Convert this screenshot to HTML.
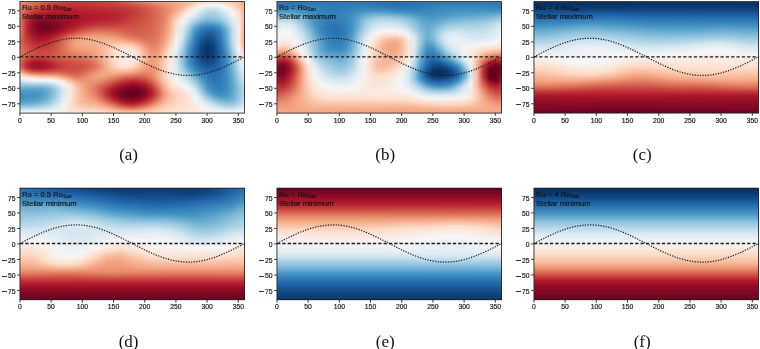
<!DOCTYPE html><html><head><meta charset="utf-8"><style>
*{margin:0;padding:0}
html,body{width:760px;height:349px;overflow:hidden;background:#fff}
body{position:relative;will-change:transform}
#w{position:absolute;left:0;top:0;width:760px;height:349px;filter:blur(0.45px)}
.hm{position:absolute;overflow:hidden}
.hm i{display:block;height:1px;width:100%}
.ov{position:absolute;overflow:visible}
.xl{position:absolute;width:40px;text-align:center;font:6.8px/10px "Liberation Sans",sans-serif;color:#222;-webkit-text-stroke:0.2px #222}
.yl{position:absolute;width:40px;text-align:right;font:6.8px/10px "Liberation Sans",sans-serif;color:#222;-webkit-text-stroke:0.2px #222}
.m{display:inline-block;width:4.6px;height:0.65px;background:#333;vertical-align:2.2px;margin-right:1.0px}
.tx{position:absolute;font:7.65px/9.2px "Liberation Sans",sans-serif;color:#111;-webkit-text-stroke:0.15px #111;white-space:nowrap}
.tx sub{font-size:4.6px;vertical-align:-1px;line-height:0;margin-left:0.4px}
.cap{position:absolute;width:60px;text-align:center;font:17px/20px "Liberation Serif",serif;color:#111}
</style></head><body><div id="w"><div class="hm" style="left:20px;top:2px;width:225px;height:111px"><i style="background:linear-gradient(90deg,#eb9172,#e48066,#dd7059,#d7634f,#d25849,#ce4f45,#c94741,#c6413e,#c53e3d,#c53e3d,#c53e3d,#c53e3d,#c6413e,#c6413e,#c84440,#cb4942,#cf5246,#d35a4a,#da6853,#de735c,#e37e64,#e8896c,#ec9374,#f19e7d,#f4a683,#f5ac8b,#f6b394,#f8bb9e,#fac8af,#fcd3bc,#fddbc7,#fddbc7,#fcd7c2,#fbd0b9,#f9c6ac,#f8bb9e,#f6b191)"></i><i style="background:linear-gradient(90deg,#ea8e70,#e37e64,#dc6e57,#d6604d,#d05548,#cb4942,#c6413e,#c53e3d,#c43b3c,#c2383a,#c43b3c,#c43b3c,#c53e3d,#c6413e,#c84440,#c94741,#cc4c44,#d05548,#d55d4c,#da6853,#df765e,#e48066,#ea8e70,#ee9677,#f2a17f,#f5a886,#f6b191,#f8bda1,#fbd0b9,#fcdfcf,#fae7dc,#fae7dc,#fbe4d6,#fdddcb,#fbceb7,#f8bda1,#f6b191)"></i><i style="background:linear-gradient(90deg,#e98b6e,#e27b62,#db6b55,#d35a4a,#ce4f45,#c84440,#c43b3c,#c2383a,#c13639,#c13639,#c13639,#c2383a,#c43b3c,#c53e3d,#c53e3d,#c84440,#c94741,#cc4c44,#d25849,#d6604d,#dc6e57,#e27b62,#e6866a,#eb9172,#f09c7b,#f4a683,#f6b191,#f9c2a7,#fddbc7,#fae8de,#f8f1ed,#f8f2ef,#f9eee7,#fbe4d6,#fcd7c2,#f9c2a7,#f6b191)"></i><i style="background:linear-gradient(90deg,#e8896c,#df765e,#d86551,#d25849,#cb4942,#c53e3d,#c13639,#bf3338,#be3036,#be3036,#bf3338,#c13639,#c2383a,#c43b3c,#c43b3c,#c53e3d,#c6413e,#c94741,#ce4f45,#d35a4a,#d86551,#de735c,#e48066,#ea8e70,#ef9979,#f3a481,#f6b191,#f9c6ac,#fcdfcf,#f9f0eb,#f2f5f6,#f0f4f6,#f7f5f4,#faeae1,#fdddcb,#f9c4a9,#f6b191)"></i><i style="background:linear-gradient(90deg,#e6866a,#de735c,#d6604d,#cf5246,#c84440,#c2383a,#bf3338,#bd2d35,#bd2d35,#bd2d35,#be3036,#bf3338,#c13639,#c13639,#c2383a,#c43b3c,#c53e3d,#c84440,#cb4942,#d05548,#d6604d,#dc6e57,#e27b62,#e8896c,#ee9677,#f3a481,#f6b394,#fbccb4,#fbe5d8,#f7f6f6,#e7f0f4,#e4eef4,#eff3f5,#f9f0eb,#fce0d0,#fac8af,#f6b191)"></i><i style="background:linear-gradient(90deg,#e6866a,#dc6e57,#d35a4a,#cb4942,#c53e3d,#bf3338,#bd2d35,#bb2a34,#ba2832,#bb2a34,#bb2a34,#bd2d35,#be3036,#bf3338,#c13639,#c2383a,#c43b3c,#c53e3d,#c84440,#ce4f45,#d35a4a,#db6b55,#e17860,#e6866a,#ee9677,#f4a683,#f7b799,#fcd3bc,#fae9df,#eff3f5,#deebf2,#dbeaf2,#e6eff4,#f7f5f4,#fbe4d6,#fbccb4,#f6b191)"></i><i style="background:linear-gradient(90deg,#e58368,#db6b55,#d05548,#c84440,#c2383a,#bd2d35,#ba2832,#b82531,#b82531,#b82531,#ba2832,#bb2a34,#bd2d35,#be3036,#bf3338,#bf3338,#c13639,#c43b3c,#c6413e,#cc4c44,#d25849,#d86551,#de735c,#e58368,#ec9374,#f4a683,#f8bb9e,#fdd9c4,#f9efe9,#e7f0f4,#d5e7f1,#d2e6f0,#deebf2,#f2f5f6,#fae8de,#fbceb7,#f6b191)"></i><i style="background:linear-gradient(90deg,#e58368,#d86551,#ce4f45,#c53e3d,#be3036,#ba2832,#b82531,#b72230,#b72230,#b72230,#b82531,#ba2832,#bb2a34,#bd2d35,#bd2d35,#be3036,#bf3338,#c2383a,#c53e3d,#c94741,#d05548,#d7634f,#dd7059,#e48066,#ec9374,#f5a886,#f8bfa4,#fdddcb,#f8f3f0,#e0ecf3,#cce2ef,#cae1ee,#d7e8f1,#ecf2f5,#f9ebe3,#fcd3bc,#f6b191)"></i><i style="background:linear-gradient(90deg,#e48066,#d6604d,#c94741,#c13639,#bb2a34,#b72230,#b61f2e,#b61f2e,#b61f2e,#b61f2e,#b72230,#b82531,#ba2832,#ba2832,#bb2a34,#bd2d35,#be3036,#c13639,#c43b3c,#c94741,#cf5246,#d6604d,#dd7059,#e48066,#ec9374,#f5ac8b,#f9c6ac,#fce2d2,#f6f7f7,#dae9f2,#c2ddec,#c0dceb,#d1e5f0,#e7f0f4,#f9efe9,#fcd7c2,#f6b394)"></i><i style="background:linear-gradient(90deg,#e48066,#d55d4c,#c6413e,#bd2d35,#b82531,#b41c2d,#b41c2d,#b3192c,#b3192c,#b41c2d,#b61f2e,#b72230,#b72230,#b82531,#ba2832,#bb2a34,#bd2d35,#bf3338,#c43b3c,#c84440,#cf5246,#d6604d,#dc6e57,#e37e64,#ee9677,#f6af8e,#fbccb4,#fbe6da,#f0f4f6,#d4e6f1,#bbdaea,#b6d7e8,#cae1ee,#e3edf3,#f8f2ef,#fddbc7,#f6b394)"></i><i style="background:linear-gradient(90deg,#e48066,#d25849,#c2383a,#ba2832,#b41c2d,#b3192c,#b1182b,#b1182b,#b1182b,#b3192c,#b41c2d,#b61f2e,#b61f2e,#b72230,#b82531,#ba2832,#bd2d35,#bf3338,#c2383a,#c84440,#ce4f45,#d55d4c,#db6b55,#e37e64,#ee9677,#f6b394,#fcd3bc,#faeae1,#eaf1f5,#cfe4ef,#b3d6e8,#aed3e6,#c2ddec,#ddebf2,#f8f4f2,#fdddcb,#f6b394)"></i><i style="background:linear-gradient(90deg,#e48066,#cf5246,#bf3338,#b61f2e,#b1182b,#ae172a,#ae172a,#ae172a,#ae172a,#b1182b,#b3192c,#b41c2d,#b61f2e,#b61f2e,#b72230,#ba2832,#bb2a34,#bf3338,#c2383a,#c84440,#ce4f45,#d55d4c,#db6b55,#e37e64,#ef9979,#f7b799,#fddbc7,#f9efe9,#e4eef4,#c5dfec,#acd2e5,#a9d1e5,#bbdaea,#dae9f2,#f6f7f7,#fcdfcf,#f6b394)"></i><i style="background:linear-gradient(90deg,#e48066,#cc4c44,#bb2a34,#b1182b,#a81529,#a81529,#a81529,#ab162a,#ae172a,#ae172a,#b1182b,#b3192c,#b41c2d,#b61f2e,#b72230,#b82531,#bb2a34,#be3036,#c43b3c,#c84440,#ce4f45,#d55d4c,#db6b55,#e37e64,#ef9979,#f8bb9e,#fcdecd,#f8f4f2,#deebf2,#bddbea,#a5cee3,#a2cde3,#b6d7e8,#d5e7f1,#f2f5f6,#fce0d0,#f6b394)"></i><i style="background:linear-gradient(90deg,#e48066,#cb4942,#b82531,#ab162a,#a21328,#a21328,#a51429,#a81529,#ab162a,#ae172a,#b1182b,#b1182b,#b3192c,#b41c2d,#b61f2e,#b82531,#bb2a34,#bf3338,#c43b3c,#c84440,#ce4f45,#d55d4c,#db6b55,#e37e64,#f09c7b,#f8bfa4,#fbe3d4,#f5f6f7,#d8e9f1,#b6d7e8,#a0cce2,#9dcbe1,#aed3e6,#d1e5f0,#eff3f5,#fbe3d4,#f7b596)"></i><i style="background:linear-gradient(90deg,#e48066,#c84440,#b61f2e,#a21328,#9c1127,#9c1127,#a21328,#a51429,#a81529,#ab162a,#ae172a,#b1182b,#b3192c,#b41c2d,#b61f2e,#b82531,#bb2a34,#bf3338,#c43b3c,#c94741,#cf5246,#d55d4c,#db6b55,#e37e64,#f19e7d,#f9c4a9,#fbe6da,#eff3f5,#d2e6f0,#aed3e6,#9bc9e0,#98c8e0,#a9d1e5,#cce2ef,#eaf1f5,#fbe5d8,#f7b596)"></i><i style="background:linear-gradient(90deg,#e48066,#c6413e,#b1182b,#9c1127,#930e26,#960f27,#9c1127,#a21328,#a81529,#ab162a,#ae172a,#b1182b,#b3192c,#b41c2d,#b61f2e,#b82531,#bb2a34,#bf3338,#c53e3d,#c94741,#cf5246,#d55d4c,#db6b55,#e37e64,#f2a17f,#fac8af,#faeae1,#e7f0f4,#cae1ee,#a7d0e4,#93c6de,#93c6de,#a5cee3,#c5dfec,#e7f0f4,#fbe6da,#f6b394)"></i><i style="background:linear-gradient(90deg,#e48066,#c43b3c,#ab162a,#960f27,#8d0c25,#900d26,#991027,#9f1228,#a51429,#ab162a,#ae172a,#b1182b,#b3192c,#b41c2d,#b72230,#b82531,#bd2d35,#c13639,#c53e3d,#cb4942,#d05548,#d55d4c,#db6b55,#e48066,#f3a481,#fbceb7,#f9eee7,#e1edf3,#c0dceb,#a0cce2,#8dc2dc,#8ac0db,#9dcbe1,#c0dceb,#e4eef4,#fae8de,#f6b394)"></i><i style="background:linear-gradient(90deg,#e48066,#c2383a,#a51429,#8d0c25,#870a24,#8d0c25,#960f27,#9c1127,#a51429,#ab162a,#ae172a,#b3192c,#b41c2d,#b61f2e,#b72230,#ba2832,#be3036,#c2383a,#c6413e,#cc4c44,#d05548,#d6604d,#db6b55,#e48066,#f4a683,#fcd3bc,#f8f1ed,#dbeaf2,#b6d7e8,#96c7df,#84bcd9,#84bcd9,#96c7df,#b8d8e9,#e0ecf3,#fae9df,#f6b394)"></i><i style="background:linear-gradient(90deg,#e48066,#c13639,#a21328,#870a24,#810823,#870a24,#900d26,#9c1127,#a21328,#ab162a,#b1182b,#b41c2d,#b61f2e,#b72230,#b82531,#bb2a34,#be3036,#c43b3c,#c84440,#cc4c44,#d05548,#d6604d,#db6b55,#e48066,#f5a886,#fcd5bf,#f8f4f2,#d7e8f1,#acd2e5,#8ac0db,#78b4d5,#7bb6d6,#8dc2dc,#b1d5e7,#ddebf2,#faeae1,#f6b394)"></i><i style="background:linear-gradient(90deg,#e48066,#bf3338,#9c1127,#840924,#7f0823,#840924,#8d0c25,#991027,#a21328,#ab162a,#b3192c,#b61f2e,#b82531,#ba2832,#bb2a34,#bd2d35,#c13639,#c53e3d,#c94741,#ce4f45,#d25849,#d6604d,#dc6e57,#e58368,#f5a886,#fdd9c4,#f6f7f7,#d1e5f0,#a2cde3,#81bad8,#6eaed2,#6eaed2,#84bcd9,#a9d1e5,#dae9f2,#f9ebe3,#f6b191)"></i><i style="background:linear-gradient(90deg,#e58368,#bf3338,#991027,#7f0823,#790622,#7f0823,#8a0b25,#960f27,#a21328,#ab162a,#b41c2d,#b72230,#ba2832,#bd2d35,#be3036,#bf3338,#c2383a,#c6413e,#c94741,#ce4f45,#d25849,#d7634f,#dc6e57,#e58368,#f5aa89,#fddcc9,#f3f5f6,#cae1ee,#98c8e0,#75b2d4,#5fa5cd,#62a7ce,#78b4d5,#a2cde3,#d7e8f1,#f9ede5,#f6af8e)"></i><i style="background:linear-gradient(90deg,#e58368,#be3036,#960f27,#7c0722,#760521,#7c0722,#870a24,#960f27,#a21328,#ae172a,#b61f2e,#ba2832,#bd2d35,#bf3338,#c13639,#c2383a,#c43b3c,#c84440,#cb4942,#cf5246,#d35a4a,#d7634f,#dc6e57,#e58368,#f5ac8b,#fdddcb,#eff3f5,#c2ddec,#8dc2dc,#65a9cf,#529dc8,#569fc9,#6eaed2,#9bc9e0,#d4e6f1,#f9eee7,#f5ac8b)"></i><i style="background:linear-gradient(90deg,#e58368,#be3036,#930e26,#790622,#730421,#790622,#870a24,#960f27,#a21328,#b1182b,#b82531,#bd2d35,#c13639,#c2383a,#c43b3c,#c53e3d,#c6413e,#c94741,#cc4c44,#cf5246,#d35a4a,#d7634f,#dc6e57,#e6866a,#f6af8e,#fcdfcf,#ecf2f5,#bbdaea,#84bcd9,#59a1ca,#4695c4,#4997c5,#62a7ce,#93c6de,#d1e5f0,#f9eee7,#f5ac8b)"></i><i style="background:linear-gradient(90deg,#e58368,#be3036,#930e26,#760521,#700320,#760521,#840924,#960f27,#a51429,#b41c2d,#bb2a34,#c13639,#c43b3c,#c6413e,#c84440,#c84440,#c94741,#cb4942,#ce4f45,#d05548,#d35a4a,#d7634f,#dd7059,#e6866a,#f6af8e,#fce0d0,#e9f0f4,#b3d6e8,#78b4d5,#4c99c6,#3e8cbf,#3f8ec0,#569fc9,#8ac0db,#cce2ef,#f9efe9,#f5aa89)"></i><i style="background:linear-gradient(90deg,#e58368,#be3036,#930e26,#760521,#700320,#760521,#840924,#960f27,#a81529,#b61f2e,#be3036,#c43b3c,#c84440,#cb4942,#cb4942,#cb4942,#cc4c44,#ce4f45,#cf5246,#d25849,#d55d4c,#d86551,#dd7059,#e8896c,#f6b191,#fce2d2,#e6eff4,#acd2e5,#6eaed2,#4291c2,#3885bc,#3a87bd,#4997c5,#84bcd9,#cae1ee,#f9efe9,#f5a886)"></i><i style="background:linear-gradient(90deg,#e58368,#bd2d35,#930e26,#760521,#6d0220,#760521,#840924,#991027,#ae172a,#b82531,#c13639,#c84440,#cc4c44,#cf5246,#cf5246,#cf5246,#cf5246,#cf5246,#d05548,#d25849,#d55d4c,#d86551,#dd7059,#e8896c,#f6b394,#fbe3d4,#e4eef4,#a7d0e4,#65a9cf,#3c8abe,#337eb8,#3480b9,#4291c2,#7bb6d6,#c5dfec,#f9efe9,#f4a683)"></i><i style="background:linear-gradient(90deg,#e58368,#be3036,#930e26,#760521,#700320,#760521,#870a24,#9c1127,#b3192c,#bd2d35,#c53e3d,#cc4c44,#d25849,#d35a4a,#d35a4a,#d25849,#d25849,#d05548,#d05548,#d25849,#d55d4c,#d86551,#dd7059,#e8896c,#f6b394,#fbe4d6,#e1edf3,#a2cde3,#5ca3cb,#3783bb,#2e77b5,#2f79b5,#3e8cbf,#75b2d4,#c2ddec,#f9f0eb,#f4a683)"></i><i style="background:linear-gradient(90deg,#e48066,#be3036,#930e26,#790622,#730421,#7c0722,#8d0c25,#a21328,#b61f2e,#c13639,#cb4942,#d25849,#d6604d,#d7634f,#d7634f,#d6604d,#d55d4c,#d35a4a,#d25849,#d35a4a,#d6604d,#d86551,#de735c,#e98b6e,#f7b596,#fbe5d8,#e0ecf3,#9dcbe1,#529dc8,#337eb8,#2870b1,#2b73b3,#3a87bd,#6eaed2,#c0dceb,#f9f0eb,#f3a481)"></i><i style="background:linear-gradient(90deg,#e48066,#be3036,#960f27,#7c0722,#760521,#7f0823,#930e26,#ab162a,#ba2832,#c53e3d,#cf5246,#d6604d,#db6b55,#dc6e57,#db6b55,#da6853,#d7634f,#d55d4c,#d35a4a,#d35a4a,#d6604d,#da6853,#de735c,#e98b6e,#f7b596,#fbe6da,#deebf2,#98c8e0,#4c99c6,#2f79b5,#246aae,#276eb0,#3783bb,#6bacd1,#c0dceb,#f9f0eb,#f3a481)"></i><i style="background:linear-gradient(90deg,#e37e64,#be3036,#991027,#7f0823,#7c0722,#840924,#991027,#b1182b,#bf3338,#cb4942,#d55d4c,#db6b55,#de735c,#df765e,#de735c,#dc6e57,#da6853,#d6604d,#d55d4c,#d55d4c,#d6604d,#da6853,#de735c,#ea8e70,#f7b799,#fae7dc,#ddebf2,#96c7df,#4393c3,#2b73b3,#2065ab,#2369ad,#3480b9,#65a9cf,#bddbea,#f9efe9,#f3a481)"></i><i style="background:linear-gradient(90deg,#e27b62,#bf3338,#9c1127,#840924,#810823,#8a0b25,#a21328,#b72230,#c43b3c,#d05548,#da6853,#df765e,#e37e64,#e37e64,#e27b62,#df765e,#dc6e57,#d86551,#d6604d,#d55d4c,#d7634f,#da6853,#df765e,#ea8e70,#f7b99c,#fae7dc,#dbeaf2,#90c4dd,#408fc1,#2870b1,#1d5fa2,#2065ab,#327cb7,#62a7ce,#bddbea,#f9efe9,#f3a481)"></i><i style="background:linear-gradient(90deg,#e27b62,#bf3338,#9f1228,#8a0b25,#870a24,#930e26,#ab162a,#bb2a34,#c94741,#d6604d,#de735c,#e48066,#e6866a,#e8896c,#e58368,#e37e64,#de735c,#da6853,#d7634f,#d6604d,#d7634f,#db6b55,#df765e,#ea8e70,#f7b99c,#fae8de,#d8e9f1,#8dc2dc,#3f8ec0,#266caf,#1b5a9c,#1e61a5,#307ab6,#62a7ce,#bddbea,#f9efe9,#f3a481)"></i><i style="background:linear-gradient(90deg,#e17860,#bf3338,#a51429,#900d26,#8d0c25,#9c1127,#b3192c,#c13639,#cf5246,#db6b55,#e37e64,#e8896c,#ea8e70,#eb9172,#e98b6e,#e58368,#e17860,#dc6e57,#d86551,#d7634f,#d86551,#db6b55,#df765e,#eb9172,#f8bb9e,#fae9df,#d7e8f1,#87beda,#3c8abe,#2369ad,#195696,#1d5fa2,#2f79b5,#5fa5cd,#bddbea,#f9efe9,#f3a481)"></i><i style="background:linear-gradient(90deg,#df765e,#c13639,#a81529,#960f27,#960f27,#a51429,#b72230,#c53e3d,#d55d4c,#df765e,#e8896c,#ec9374,#ef9979,#ef9979,#ec9374,#e98b6e,#e48066,#de735c,#db6b55,#d86551,#d86551,#db6b55,#e17860,#eb9172,#f8bda1,#faeae1,#d5e7f1,#84bcd9,#3a87bd,#2065ab,#185493,#1b5a9c,#2e77b5,#5fa5cd,#bddbea,#f9efe9,#f3a481)"></i><i style="background:linear-gradient(90deg,#de735c,#c2383a,#ae172a,#9c1127,#9c1127,#ab162a,#bb2a34,#cb4942,#da6853,#e48066,#eb9172,#f09c7b,#f19e7d,#f19e7d,#f09c7b,#ec9374,#e8896c,#e27b62,#dd7059,#db6b55,#da6853,#dc6e57,#e17860,#ec9374,#f8bda1,#f9ebe3,#d4e6f1,#81bad8,#3885bc,#1f63a8,#15508d,#1a5899,#2c75b4,#5fa5cd,#bddbea,#f9efe9,#f3a481)"></i><i style="background:linear-gradient(90deg,#de735c,#c2383a,#b1182b,#a21328,#a51429,#b3192c,#bf3338,#cf5246,#dd7059,#e98b6e,#ef9979,#f3a481,#f4a683,#f4a683,#f2a17f,#f09c7b,#eb9172,#e58368,#e17860,#dd7059,#db6b55,#dc6e57,#e27b62,#ee9677,#f8bfa4,#f9ede5,#d2e6f0,#7eb8d7,#3783bb,#1d5fa2,#144e8a,#195696,#2c75b4,#5fa5cd,#bddbea,#f9efe9,#f3a481)"></i><i style="background:linear-gradient(90deg,#dd7059,#c43b3c,#b41c2d,#a81529,#ab162a,#b72230,#c43b3c,#d35a4a,#e17860,#ec9374,#f2a17f,#f5a886,#f5aa89,#f5aa89,#f5a886,#f3a481,#ef9979,#e98b6e,#e48066,#df765e,#dd7059,#dd7059,#e27b62,#ee9677,#f9c2a7,#f9eee7,#d1e5f0,#78b4d5,#3480b9,#1c5c9f,#124984,#185493,#2b73b3,#5ca3cb,#bddbea,#f9efe9,#f3a481)"></i><i style="background:linear-gradient(90deg,#dc6e57,#c53e3d,#b61f2e,#ae172a,#b1182b,#ba2832,#c6413e,#d6604d,#e48066,#ef9979,#f4a683,#f5aa89,#f5ac8b,#f5ac8b,#f5ac8b,#f5aa89,#f2a17f,#ee9677,#e8896c,#e37e64,#de735c,#de735c,#e37e64,#ef9979,#f9c4a9,#f9efe9,#cfe4ef,#75b2d4,#337eb8,#1a5899,#114781,#175290,#2a71b2,#5ca3cb,#bddbea,#f9efe9,#f3a481)"></i><i style="background:linear-gradient(90deg,#dc6e57,#c6413e,#b82531,#b3192c,#b41c2d,#bd2d35,#c94741,#d86551,#e6866a,#f19e7d,#f5aa89,#f5ac8b,#f6af8e,#f6b191,#f6b191,#f6b191,#f5aa89,#f2a17f,#ec9374,#e6866a,#e17860,#de735c,#e37e64,#f09c7b,#f9c6ac,#f9f0eb,#cae1ee,#71b0d3,#327cb7,#195696,#10457e,#15508d,#2870b1,#59a1ca,#bddbea,#f9efe9,#f4a683)"></i><i style="background:linear-gradient(90deg,#dc6e57,#c84440,#bb2a34,#b61f2e,#b72230,#be3036,#cb4942,#db6b55,#e8896c,#f2a17f,#f5ac8b,#f6af8e,#f6af8e,#f6b394,#f7b596,#f7b596,#f6b394,#f5ac8b,#f2a17f,#ea8e70,#e37e64,#df765e,#e48066,#f19e7d,#facab1,#f8f2ef,#c7e0ed,#6bacd1,#2f79b5,#185493,#0f437b,#144e8a,#2870b1,#59a1ca,#bbdaea,#f9efe9,#f4a683)"></i><i style="background:linear-gradient(90deg,#db6b55,#c94741,#bd2d35,#b82531,#ba2832,#c13639,#cc4c44,#dc6e57,#e98b6e,#f3a481,#f5ac8b,#f6af8e,#f6b191,#f6b394,#f7b99c,#f8bb9e,#f8bb9e,#f7b799,#f5ac8b,#ef9979,#e58368,#e17860,#e48066,#f19e7d,#fbccb4,#f8f3f0,#c2ddec,#68abd0,#2e77b5,#175290,#0e4179,#134c87,#276eb0,#569fc9,#bbdaea,#f9efe9,#f4a683)"></i><i style="background:linear-gradient(90deg,#db6b55,#cb4942,#bf3338,#ba2832,#bb2a34,#c2383a,#ce4f45,#dd7059,#ea8e70,#f3a481,#f5ac8b,#f6af8e,#f6af8e,#f7b596,#f8bb9e,#f9c2a7,#f9c4a9,#f9c2a7,#f7b596,#f2a17f,#e8896c,#e27b62,#e58368,#f2a17f,#fbceb7,#f7f5f4,#c0dceb,#62a7ce,#2c75b4,#144e8a,#0d3f76,#124984,#266caf,#529dc8,#b8d8e9,#f9f0eb,#f5a886)"></i><i style="background:linear-gradient(90deg,#db6b55,#cc4c44,#c13639,#bd2d35,#be3036,#c43b3c,#cf5246,#dd7059,#ea8e70,#f3a481,#f5ac8b,#f5ac8b,#f6af8e,#f7b596,#f8bda1,#fac8af,#fbccb4,#facab1,#f8bfa4,#f5aa89,#ea8e70,#e37e64,#e6866a,#f3a481,#fcd3bc,#f6f7f7,#bbdaea,#5fa5cd,#2a71b2,#134c87,#0c3d73,#114781,#246aae,#529dc8,#b6d7e8,#f8f1ed,#f5a886)"></i><i style="background:linear-gradient(90deg,#dc6e57,#ce4f45,#c43b3c,#be3036,#bf3338,#c53e3d,#d05548,#dd7059,#ea8e70,#f3a481,#f5aa89,#f5ac8b,#f6af8e,#f7b596,#f9c2a7,#fbccb4,#fcd5bf,#fcd5bf,#facab1,#f6b394,#ee9677,#e48066,#e6866a,#f4a683,#fcd5bf,#f5f6f7,#b8d8e9,#5ca3cb,#2870b1,#124984,#0a3b70,#10457e,#246aae,#4f9bc7,#b6d7e8,#f8f1ed,#f5aa89)"></i><i style="background:linear-gradient(90deg,#dc6e57,#cf5246,#c53e3d,#c13639,#c13639,#c6413e,#d05548,#de735c,#ea8e70,#f2a17f,#f5a886,#f5aa89,#f5ac8b,#f7b596,#f9c2a7,#fbd0b9,#fddbc7,#fddcc9,#fcd3bc,#f7b99c,#f09c7b,#e58368,#e8896c,#f5aa89,#fdd9c4,#f2f5f6,#b3d6e8,#569fc9,#276eb0,#114781,#09386d,#10457e,#2369ad,#4c99c6,#b3d6e8,#f8f3f0,#f5ac8b)"></i><i style="background:linear-gradient(90deg,#dd7059,#d05548,#c6413e,#c2383a,#c43b3c,#c84440,#d25849,#de735c,#e98b6e,#f19e7d,#f4a683,#f5a886,#f5aa89,#f7b596,#f9c4a9,#fcd5bf,#fcdecd,#fce0d0,#fddbc7,#f8bfa4,#f2a17f,#e6866a,#e98b6e,#f5ac8b,#fddbc7,#eff3f5,#aed3e6,#529dc8,#266caf,#114781,#08366a,#0f437b,#2267ac,#4997c5,#aed3e6,#f8f4f2,#f6b191)"></i><i style="background:linear-gradient(90deg,#dd7059,#d25849,#c84440,#c53e3d,#c53e3d,#c94741,#d35a4a,#dd7059,#e98b6e,#f09c7b,#f3a481,#f4a683,#f5aa89,#f7b596,#f9c6ac,#fcd7c2,#fce2d2,#fbe4d6,#fcdfcf,#f9c6ac,#f4a683,#e8896c,#ea8e70,#f6af8e,#fdddcb,#edf2f5,#acd2e5,#4f9bc7,#246aae,#10457e,#08366a,#0f437b,#2267ac,#4695c4,#acd2e5,#f7f5f4,#f7b596)"></i><i style="background:linear-gradient(90deg,#df765e,#d35a4a,#cb4942,#c6413e,#c6413e,#cb4942,#d35a4a,#dd7059,#e8896c,#ef9979,#f19e7d,#f3a481,#f5a886,#f7b596,#f9c6ac,#fdd9c4,#fbe3d4,#fae7dc,#fbe3d4,#fbccb4,#f5a886,#ea8e70,#eb9172,#f6b394,#fcdfcf,#eaf1f5,#a9d1e5,#4c99c6,#246aae,#10457e,#08366a,#0e4179,#2065ab,#4393c3,#a9d1e5,#f6f7f7,#f7b99c)"></i><i style="background:linear-gradient(90deg,#e17860,#d55d4c,#cc4c44,#c84440,#c84440,#cc4c44,#d55d4c,#dd7059,#e6866a,#ec9374,#f09c7b,#f19e7d,#f4a683,#f7b596,#f9c6ac,#fddbc7,#fbe5d8,#fae9df,#fbe5d8,#fbd0b9,#f5ac8b,#eb9172,#ec9374,#f7b596,#fce0d0,#e7f0f4,#a5cee3,#4997c5,#2369ad,#10457e,#08366a,#0e4179,#2065ab,#4393c3,#a7d0e4,#f3f5f6,#f8bda1)"></i><i style="background:linear-gradient(90deg,#e27b62,#d55d4c,#cc4c44,#c84440,#c94741,#ce4f45,#d55d4c,#dd7059,#e48066,#eb9172,#ee9677,#f09c7b,#f4a683,#f6b394,#f9c6ac,#fddcc9,#fbe6da,#f9ebe3,#fae7dc,#fcd5bf,#f6af8e,#ec9374,#ee9677,#f7b799,#fbe3d4,#e6eff4,#a2cde3,#4695c4,#2369ad,#0f437b,#08366a,#0e4179,#1f63a8,#4291c2,#a2cde3,#f0f4f6,#f9c4a9)"></i><i style="background:linear-gradient(90deg,#e37e64,#d6604d,#ce4f45,#c94741,#cb4942,#cf5246,#d55d4c,#dc6e57,#e37e64,#e98b6e,#eb9172,#ef9979,#f3a481,#f6b394,#f9c6ac,#fddcc9,#fae7dc,#f9ede5,#fae9df,#fcd7c2,#f6b191,#ee9677,#ef9979,#f8bb9e,#fbe4d6,#e3edf3,#a0cce2,#4393c3,#2267ac,#0f437b,#08366a,#0e4179,#1f63a8,#408fc1,#a0cce2,#edf2f5,#facab1)"></i><i style="background:linear-gradient(90deg,#e48066,#d6604d,#ce4f45,#c94741,#cb4942,#cf5246,#d6604d,#dc6e57,#e27b62,#e6866a,#ea8e70,#ec9374,#f2a17f,#f6b191,#f9c6ac,#fddcc9,#fae7dc,#f9eee7,#faeae1,#fdd9c4,#f6b394,#ef9979,#f09c7b,#f8bda1,#fbe6da,#e1edf3,#9dcbe1,#4393c3,#2267ac,#10457e,#08366a,#0e4179,#1f63a8,#3f8ec0,#9bc9e0,#e9f0f4,#fbd0b9)"></i><i style="background:linear-gradient(90deg,#e58368,#d6604d,#cc4c44,#c94741,#cb4942,#cf5246,#d55d4c,#db6b55,#df765e,#e48066,#e8896c,#eb9172,#f19e7d,#f6b191,#f9c6ac,#fddcc9,#fae8de,#f9efe9,#faeae1,#fddbc7,#f7b596,#ef9979,#f19e7d,#f8bfa4,#fae7dc,#e0ecf3,#9bc9e0,#4291c2,#2267ac,#10457e,#09386d,#0f437b,#1f63a8,#3e8cbf,#98c8e0,#e6eff4,#fcd7c2)"></i><i style="background:linear-gradient(90deg,#e58368,#d55d4c,#cb4942,#c84440,#c94741,#cf5246,#d55d4c,#da6853,#de735c,#e27b62,#e58368,#e98b6e,#f09c7b,#f6af8e,#f9c4a9,#fddcc9,#fae8de,#f9efe9,#f9ebe3,#fddbc7,#f7b596,#f09c7b,#f2a17f,#f9c2a7,#fae8de,#deebf2,#98c8e0,#4291c2,#2267ac,#10457e,#09386d,#0f437b,#1f63a8,#3e8cbf,#93c6de,#e3edf3,#fddcc9)"></i><i style="background:linear-gradient(90deg,#e58368,#d35a4a,#c94741,#c53e3d,#c84440,#ce4f45,#d35a4a,#d86551,#dc6e57,#df765e,#e37e64,#e6866a,#ee9677,#f5ac8b,#f9c4a9,#fddcc9,#fae8de,#f9efe9,#f9ebe3,#fddcc9,#f7b799,#f09c7b,#f3a481,#f9c4a9,#fae9df,#ddebf2,#96c7df,#408fc1,#2267ac,#114781,#0a3b70,#10457e,#1f63a8,#3c8abe,#90c4dd,#e0ecf3,#fcdfcf)"></i><i style="background:linear-gradient(90deg,#e48066,#d25849,#c6413e,#c2383a,#c53e3d,#cb4942,#d25849,#d7634f,#da6853,#dd7059,#e17860,#e58368,#ec9374,#f5aa89,#f9c2a7,#fddbc7,#fae8de,#f9efe9,#f9ebe3,#fddbc7,#f7b799,#f19e7d,#f3a481,#f9c6ac,#faeae1,#dbeaf2,#96c7df,#408fc1,#2369ad,#124984,#0c3d73,#10457e,#1f63a8,#3c8abe,#8dc2dc,#ddebf2,#fbe3d4)"></i><i style="background:linear-gradient(90deg,#e37e64,#ce4f45,#c2383a,#bf3338,#c2383a,#c94741,#cf5246,#d55d4c,#d86551,#db6b55,#dd7059,#e27b62,#ea8e70,#f5a886,#f8bfa4,#fddbc7,#fae7dc,#f9efe9,#faeae1,#fddbc7,#f7b596,#f19e7d,#f4a683,#f9c6ac,#f9ebe3,#dae9f2,#93c6de,#408fc1,#2369ad,#134c87,#0d3f76,#114781,#1f63a8,#3c8abe,#8ac0db,#dae9f2,#fbe6da)"></i><i style="background:linear-gradient(90deg,#e17860,#cb4942,#be3036,#bb2a34,#be3036,#c53e3d,#cc4c44,#d25849,#d6604d,#d86551,#db6b55,#df765e,#e8896c,#f3a481,#f8bfa4,#fddbc7,#fae7dc,#f9eee7,#faeae1,#fdd9c4,#f7b596,#f09c7b,#f4a683,#fac8af,#f9ede5,#dae9f2,#93c6de,#408fc1,#246aae,#134c87,#0e4179,#124984,#2065ab,#3b88be,#87beda,#d7e8f1,#fae8de)"></i><i style="background:linear-gradient(90deg,#df765e,#c6413e,#b82531,#b61f2e,#ba2832,#c2383a,#c94741,#cf5246,#d35a4a,#d6604d,#d86551,#dd7059,#e58368,#f2a17f,#f8bda1,#fdd9c4,#fae7dc,#f9eee7,#fae9df,#fdd9c4,#f6b394,#f09c7b,#f4a683,#fac8af,#f9ede5,#d8e9f1,#93c6de,#4291c2,#246aae,#15508d,#0f437b,#134c87,#2065ab,#3b88be,#84bcd9,#d4e6f1,#faeae1)"></i><i style="background:linear-gradient(90deg,#dd7059,#c2383a,#b41c2d,#b1182b,#b61f2e,#be3036,#c6413e,#ce4f45,#d25849,#d35a4a,#d6604d,#db6b55,#e37e64,#f09c7b,#f8bb9e,#fdd9c4,#fbe6da,#f9ede5,#fae8de,#fcd5bf,#f6b191,#f09c7b,#f4a683,#fac8af,#f9ede5,#d8e9f1,#93c6de,#4291c2,#266caf,#175290,#114781,#144e8a,#2267ac,#3b88be,#81bad8,#d2e6f0,#f9eee7)"></i><i style="background:linear-gradient(90deg,#dc6e57,#bf3338,#ae172a,#a81529,#b3192c,#bb2a34,#c53e3d,#cb4942,#cf5246,#d25849,#d55d4c,#d86551,#e17860,#ef9979,#f7b99c,#fcd7c2,#fbe5d8,#faeae1,#fbe6da,#fcd3bc,#f6af8e,#ef9979,#f4a683,#facab1,#f9ede5,#d8e9f1,#93c6de,#4393c3,#276eb0,#185493,#124984,#15508d,#2369ad,#3b88be,#7eb8d7,#cfe4ef,#f9f0eb)"></i><i style="background:linear-gradient(90deg,#db6b55,#bd2d35,#a81529,#a21328,#ae172a,#b82531,#c2383a,#c94741,#ce4f45,#d05548,#d25849,#d7634f,#df765e,#ee9677,#f7b799,#fcd7c2,#fbe4d6,#fae9df,#fbe4d6,#fbceb7,#f5ac8b,#ee9677,#f4a683,#facab1,#f9eee7,#d8e9f1,#96c7df,#4695c4,#2870b1,#1a5899,#144e8a,#185493,#2369ad,#3b88be,#7eb8d7,#cce2ef,#f8f2ef)"></i><i style="background:linear-gradient(90deg,#da6853,#bb2a34,#a51429,#9c1127,#a81529,#b72230,#c13639,#c84440,#cc4c44,#cf5246,#d05548,#d6604d,#de735c,#ec9374,#f7b799,#fcd5bf,#fbe3d4,#fae7dc,#fce2d2,#facab1,#f5aa89,#ee9677,#f4a683,#facab1,#f9eee7,#dae9f2,#98c8e0,#4997c5,#2b73b3,#1b5a9c,#15508d,#195696,#246aae,#3b88be,#7bb6d6,#cae1ee,#f8f3f0)"></i><i style="background:linear-gradient(90deg,#db6b55,#bb2a34,#a21328,#9c1127,#a81529,#b61f2e,#bf3338,#c6413e,#cb4942,#ce4f45,#d05548,#d55d4c,#dd7059,#eb9172,#f7b596,#fcd3bc,#fce0d0,#fbe4d6,#fcdecd,#f9c6ac,#f5a886,#ec9374,#f4a683,#facab1,#f9eee7,#dae9f2,#98c8e0,#4c99c6,#2e77b5,#1d5fa2,#185493,#1a5899,#266caf,#3b88be,#78b4d5,#c5dfec,#f7f5f4)"></i><i style="background:linear-gradient(90deg,#dd7059,#bd2d35,#a51429,#9f1228,#a81529,#b72230,#bf3338,#c6413e,#cb4942,#cc4c44,#cf5246,#d55d4c,#dd7059,#eb9172,#f6b394,#fbceb7,#fcdecd,#fce0d0,#fddbc7,#f8bfa4,#f3a481,#ec9374,#f4a683,#facab1,#f9eee7,#dbeaf2,#9dcbe1,#529dc8,#2f79b5,#1f63a8,#195696,#1b5a9c,#276eb0,#3c8abe,#78b4d5,#c2ddec,#f7f6f6)"></i><i style="background:linear-gradient(90deg,#df765e,#bf3338,#ae172a,#a51429,#ae172a,#b82531,#c13639,#c6413e,#cb4942,#cc4c44,#cf5246,#d6604d,#de735c,#ec9374,#f6b394,#facab1,#fddbc7,#fddcc9,#fcd3bc,#f8bb9e,#f2a17f,#ec9374,#f4a683,#facab1,#f9eee7,#dbeaf2,#a0cce2,#59a1ca,#337eb8,#2267ac,#1b5a9c,#1d5fa2,#276eb0,#3c8abe,#75b2d4,#c0dceb,#f5f6f7)"></i><i style="background:linear-gradient(90deg,#e48066,#c53e3d,#b41c2d,#ae172a,#b41c2d,#bd2d35,#c43b3c,#c84440,#cb4942,#cc4c44,#d05548,#d7634f,#e17860,#ec9374,#f6b191,#f9c6ac,#fcd3bc,#fcd5bf,#facab1,#f7b596,#f09c7b,#eb9172,#f4a683,#fbccb4,#f9eee7,#ddebf2,#a5cee3,#5fa5cd,#3681ba,#246aae,#1d5fa2,#1e61a5,#2870b1,#3c8abe,#75b2d4,#bddbea,#f3f5f6)"></i><i style="background:linear-gradient(90deg,#ea8e70,#ce4f45,#bb2a34,#b72230,#ba2832,#c13639,#c84440,#cb4942,#cc4c44,#ce4f45,#d25849,#da6853,#e37e64,#ee9677,#f6b191,#f9c2a7,#fbccb4,#fbccb4,#f9c2a7,#f5ac8b,#ee9677,#eb9172,#f5a886,#fbccb4,#f9ede5,#deebf2,#a7d0e4,#65a9cf,#3a87bd,#276eb0,#1f63a8,#1f63a8,#2a71b2,#3c8abe,#71b0d3,#bbdaea,#f2f5f6)"></i><i style="background:linear-gradient(90deg,#f19e7d,#d6604d,#c53e3d,#bf3338,#c2383a,#c84440,#cc4c44,#ce4f45,#ce4f45,#cf5246,#d55d4c,#dc6e57,#e58368,#f09c7b,#f6af8e,#f8bb9e,#f9c2a7,#f9c2a7,#f7b799,#f4a683,#ec9374,#eb9172,#f5a886,#fbceb7,#f9ede5,#e0ecf3,#acd2e5,#6eaed2,#3c8abe,#2b73b3,#2267ac,#2065ab,#2a71b2,#3c8abe,#71b0d3,#b8d8e9,#f0f4f6)"></i><i style="background:linear-gradient(90deg,#f6af8e,#de735c,#cf5246,#c94741,#cb4942,#cf5246,#d25849,#d25849,#d05548,#d05548,#d6604d,#de735c,#e8896c,#f19e7d,#f5ac8b,#f7b596,#f7b99c,#f7b799,#f5ac8b,#f09c7b,#ea8e70,#ea8e70,#f5a886,#fbceb7,#f9ede5,#e1edf3,#b3d6e8,#78b4d5,#408fc1,#2e77b5,#2369ad,#2369ad,#2b73b3,#3c8abe,#6eaed2,#b6d7e8,#edf2f5)"></i><i style="background:linear-gradient(90deg,#f8bda1,#e8896c,#da6853,#d55d4c,#d55d4c,#d7634f,#da6853,#d7634f,#d35a4a,#d35a4a,#d86551,#e27b62,#ea8e70,#f2a17f,#f5aa89,#f6af8e,#f6af8e,#f5aa89,#f2a17f,#eb9172,#e8896c,#ea8e70,#f5aa89,#fbceb7,#f9ede5,#e4eef4,#b8d8e9,#81bad8,#4695c4,#327cb7,#266caf,#246aae,#2b73b3,#3c8abe,#6eaed2,#b3d6e8,#ecf2f5)"></i><i style="background:linear-gradient(90deg,#fbceb7,#f2a17f,#e48066,#df765e,#df765e,#e17860,#df765e,#dc6e57,#d7634f,#d6604d,#db6b55,#e48066,#ee9677,#f3a481,#f5a886,#f5a886,#f4a683,#f19e7d,#ec9374,#e6866a,#e48066,#e98b6e,#f5aa89,#fbceb7,#f9ebe3,#e6eff4,#bddbea,#8ac0db,#4f9bc7,#3480b9,#2870b1,#266caf,#2c75b4,#3b88be,#6bacd1,#b1d5e7,#eaf1f5)"></i><i style="background:linear-gradient(90deg,#fddcc9,#f7b596,#f09c7b,#ea8e70,#ea8e70,#ea8e70,#e8896c,#e27b62,#db6b55,#d86551,#dd7059,#e6866a,#ef9979,#f3a481,#f3a481,#f2a17f,#ef9979,#ea8e70,#e58368,#e27b62,#e27b62,#e8896c,#f5a886,#fbceb7,#f9ebe3,#e7f0f4,#c5dfec,#93c6de,#59a1ca,#3885bc,#2b73b3,#276eb0,#2c75b4,#3b88be,#6bacd1,#aed3e6,#e7f0f4)"></i><i style="background:linear-gradient(90deg,#fbe5d8,#fac8af,#f6b394,#f5a886,#f4a683,#f3a481,#f09c7b,#e8896c,#df765e,#dc6e57,#e17860,#e98b6e,#f19e7d,#f3a481,#f2a17f,#ee9677,#e98b6e,#e48066,#df765e,#dd7059,#de735c,#e6866a,#f5a886,#fbceb7,#faeae1,#eaf1f5,#cce2ef,#9bc9e0,#62a7ce,#3b88be,#2c75b4,#2870b1,#2c75b4,#3b88be,#68abd0,#acd2e5,#e4eef4)"></i><i style="background:linear-gradient(90deg,#f9eee7,#fddbc7,#fac8af,#f8bfa4,#f8bb9e,#f7b99c,#f6af8e,#f09c7b,#e58368,#df765e,#e37e64,#ea8e70,#f19e7d,#f2a17f,#ef9979,#ea8e70,#e37e64,#dd7059,#da6853,#d86551,#db6b55,#e48066,#f4a683,#fbccb4,#fae9df,#edf2f5,#d1e5f0,#a5cee3,#6eaed2,#3f8ec0,#2f79b5,#2870b1,#2e77b5,#3b88be,#65a9cf,#a9d1e5,#e3edf3)"></i><i style="background:linear-gradient(90deg,#f7f6f6,#fbe6da,#fdddcb,#fcd7c2,#fcd3bc,#fbccb4,#f9c2a7,#f5aa89,#eb9172,#e37e64,#e58368,#eb9172,#f19e7d,#f19e7d,#ec9374,#e58368,#de735c,#d7634f,#d35a4a,#d25849,#d7634f,#e27b62,#f3a481,#fbccb4,#fae8de,#f0f4f6,#d5e7f1,#acd2e5,#78b4d5,#4291c2,#307ab6,#2a71b2,#2e77b5,#3b88be,#65a9cf,#a7d0e4,#deebf2)"></i><i style="background:linear-gradient(90deg,#ecf2f5,#f8f1ed,#fae9df,#fbe5d8,#fbe3d4,#fcdfcf,#fcd5bf,#f8bb9e,#f19e7d,#e8896c,#e8896c,#ec9374,#f09c7b,#ef9979,#e98b6e,#e17860,#d86551,#d05548,#cc4c44,#cc4c44,#d25849,#de735c,#f19e7d,#facab1,#fae7dc,#f3f5f6,#dae9f2,#b6d7e8,#81bad8,#4695c4,#327cb7,#2b73b3,#2e77b5,#3b88be,#62a7ce,#a5cee3,#dbeaf2)"></i><i style="background:linear-gradient(90deg,#e1edf3,#f2f5f6,#f8f4f2,#f8f1ed,#f9efe9,#faeae1,#fce2d2,#facab1,#f5ac8b,#ec9374,#ea8e70,#ec9374,#ef9979,#ec9374,#e58368,#dc6e57,#d25849,#c94741,#c53e3d,#c53e3d,#ce4f45,#dc6e57,#f09c7b,#f9c6ac,#fbe6da,#f6f7f7,#deebf2,#bddbea,#8ac0db,#4c99c6,#3480b9,#2b73b3,#2f79b5,#3b88be,#62a7ce,#a0cce2,#d8e9f1)"></i><i style="background:linear-gradient(90deg,#d5e7f1,#e4eef4,#ecf2f5,#eff3f5,#f2f5f6,#f7f5f4,#f9ebe3,#fddbc7,#f7b799,#f19e7d,#ec9374,#ec9374,#ee9677,#e98b6e,#e27b62,#d7634f,#cc4c44,#c43b3c,#be3036,#bf3338,#c84440,#d86551,#ee9677,#f9c4a9,#fbe4d6,#f7f5f4,#e3edf3,#c5dfec,#93c6de,#569fc9,#3681ba,#2c75b4,#2f79b5,#3b88be,#5fa5cd,#9dcbe1,#d4e6f1)"></i><i style="background:linear-gradient(90deg,#c7e0ed,#d7e8f1,#ddebf2,#deebf2,#e3edf3,#eaf1f5,#f7f5f4,#fbe3d4,#f9c4a9,#f4a683,#ee9677,#ec9374,#eb9172,#e6866a,#dd7059,#d25849,#c6413e,#bd2d35,#b72230,#ba2832,#c2383a,#d55d4c,#ea8e70,#f9c2a7,#fbe3d4,#f8f3f0,#e7f0f4,#cfe4ef,#9bc9e0,#5ca3cb,#3783bb,#2e77b5,#2f79b5,#3b88be,#5fa5cd,#9bc9e0,#d1e5f0)"></i><i style="background:linear-gradient(90deg,#b8d8e9,#c7e0ed,#cce2ef,#d1e5f0,#d4e6f1,#ddebf2,#edf2f5,#faeae1,#fbceb7,#f6af8e,#f09c7b,#ec9374,#ea8e70,#e37e64,#da6853,#ce4f45,#c13639,#b72230,#b1182b,#b41c2d,#be3036,#d05548,#e8896c,#f8bda1,#fce0d0,#f8f1ed,#ecf2f5,#d4e6f1,#a2cde3,#62a7ce,#3885bc,#2e77b5,#2f79b5,#3b88be,#5ca3cb,#98c8e0,#cce2ef)"></i><i style="background:linear-gradient(90deg,#a9d1e5,#b3d6e8,#b6d7e8,#b8d8e9,#c0dceb,#cfe4ef,#e1edf3,#f8f2ef,#fdd9c4,#f7b596,#f19e7d,#ec9374,#e8896c,#df765e,#d6604d,#c84440,#bb2a34,#b1182b,#a51429,#ab162a,#b82531,#cc4c44,#e58368,#f7b99c,#fcdfcf,#f9efe9,#f0f4f6,#dae9f2,#a9d1e5,#68abd0,#3b88be,#2f79b5,#307ab6,#3b88be,#5ca3cb,#96c7df,#c7e0ed)"></i><i style="background:linear-gradient(90deg,#9bc9e0,#a2cde3,#a5cee3,#a5cee3,#acd2e5,#bbdaea,#d7e8f1,#f6f7f7,#fcdfcf,#f8bb9e,#f3a481,#ec9374,#e58368,#dd7059,#d05548,#c2383a,#b61f2e,#a51429,#991027,#9f1228,#b3192c,#c84440,#e37e64,#f7b596,#fdddcb,#f9ebe3,#f5f6f7,#deebf2,#b1d5e7,#6eaed2,#3c8abe,#307ab6,#307ab6,#3b88be,#5ca3cb,#93c6de,#c2ddec)"></i><i style="background:linear-gradient(90deg,#8dc2dc,#93c6de,#93c6de,#93c6de,#9bc9e0,#acd2e5,#cfe4ef,#eff3f5,#fbe4d6,#f8bfa4,#f4a683,#eb9172,#e48066,#da6853,#cc4c44,#be3036,#ae172a,#991027,#900d26,#930e26,#ab162a,#c43b3c,#df765e,#f6b191,#fddbc7,#fae9df,#f7f5f4,#e4eef4,#b8d8e9,#78b4d5,#3f8ec0,#327cb7,#327cb7,#3b88be,#5ca3cb,#90c4dd,#c0dceb)"></i><i style="background:linear-gradient(90deg,#7eb8d7,#81bad8,#81bad8,#81bad8,#8ac0db,#9dcbe1,#c2ddec,#e9f0f4,#fae7dc,#f9c4a9,#f5a886,#eb9172,#e37e64,#d7634f,#c94741,#ba2832,#a51429,#900d26,#870a24,#8a0b25,#a21328,#bf3338,#dd7059,#f6af8e,#fcd7c2,#fae7dc,#f8f2ef,#e9f0f4,#c0dceb,#7eb8d7,#408fc1,#337eb8,#327cb7,#3b88be,#59a1ca,#90c4dd,#bddbea)"></i><i style="background:linear-gradient(90deg,#71b0d3,#71b0d3,#71b0d3,#71b0d3,#7bb6d6,#93c6de,#b8d8e9,#e4eef4,#fae9df,#fac8af,#f5a886,#eb9172,#e27b62,#d6604d,#c53e3d,#b61f2e,#9c1127,#870a24,#7f0823,#840924,#991027,#bd2d35,#db6b55,#f5aa89,#fcd5bf,#fbe5d8,#f9efe9,#edf2f5,#c7e0ed,#84bcd9,#4393c3,#3480b9,#337eb8,#3c8abe,#59a1ca,#8dc2dc,#bbdaea)"></i><i style="background:linear-gradient(90deg,#68abd0,#68abd0,#65a9cf,#65a9cf,#6eaed2,#8ac0db,#b3d6e8,#e1edf3,#faeae1,#facab1,#f5aa89,#eb9172,#e27b62,#d35a4a,#c2383a,#b1182b,#930e26,#7f0823,#760521,#7c0722,#930e26,#b82531,#d86551,#f4a683,#fbd0b9,#fce2d2,#f9ebe3,#f2f5f6,#cfe4ef,#8dc2dc,#4997c5,#3681ba,#3480b9,#3c8abe,#59a1ca,#8dc2dc,#bbdaea)"></i><i style="background:linear-gradient(90deg,#5fa5cd,#5ca3cb,#59a1ca,#5ca3cb,#68abd0,#84bcd9,#aed3e6,#deebf2,#f9ebe3,#fbccb4,#f5ac8b,#ec9374,#e17860,#d25849,#bf3338,#a81529,#8a0b25,#790622,#700320,#760521,#8d0c25,#b61f2e,#d6604d,#f3a481,#fbccb4,#fcdfcf,#fae8de,#f6f7f7,#d4e6f1,#96c7df,#4f9bc7,#3885bc,#3480b9,#3c8abe,#5ca3cb,#8dc2dc,#bbdaea)"></i><i style="background:linear-gradient(90deg,#569fc9,#569fc9,#529dc8,#569fc9,#62a7ce,#7eb8d7,#acd2e5,#ddebf2,#f9ede5,#fbccb4,#f5ac8b,#ec9374,#e17860,#d25849,#be3036,#a51429,#840924,#730421,#6d0220,#730421,#870a24,#b41c2d,#d55d4c,#f19e7d,#facab1,#fdddcb,#fbe6da,#f8f4f2,#d8e9f1,#9bc9e0,#569fc9,#3a87bd,#3783bb,#3e8cbf,#5ca3cb,#8dc2dc,#bbdaea)"></i><i style="background:linear-gradient(90deg,#4f9bc7,#4c99c6,#4c99c6,#4f9bc7,#5fa5cd,#7bb6d6,#a9d1e5,#ddebf2,#f9ede5,#fbccb4,#f5ac8b,#ec9374,#e27b62,#d25849,#bd2d35,#9f1228,#810823,#700320,#67001f,#6d0220,#840924,#b3192c,#d35a4a,#f09c7b,#f9c6ac,#fddcc9,#fbe4d6,#f8f1ed,#ddebf2,#a2cde3,#5fa5cd,#3c8abe,#3885bc,#3f8ec0,#5ca3cb,#8dc2dc,#bddbea)"></i><i style="background:linear-gradient(90deg,#4997c5,#4997c5,#4997c5,#4c99c6,#5ca3cb,#7bb6d6,#a9d1e5,#ddebf2,#f9ede5,#fbccb4,#f6af8e,#ee9677,#e27b62,#d25849,#bb2a34,#9c1127,#7f0823,#6d0220,#67001f,#6d0220,#840924,#b1182b,#d25849,#ef9979,#f9c4a9,#fdd9c4,#fce2d2,#f9efe9,#e1edf3,#a9d1e5,#65a9cf,#408fc1,#3b88be,#408fc1,#5ca3cb,#90c4dd,#bddbea)"></i><i style="background:linear-gradient(90deg,#4695c4,#4695c4,#4695c4,#4997c5,#5ca3cb,#7bb6d6,#a9d1e5,#deebf2,#f9ede5,#fbccb4,#f6af8e,#ef9979,#e37e64,#d25849,#bb2a34,#9c1127,#7c0722,#6a011f,#67001f,#6d0220,#840924,#b1182b,#d25849,#ef9979,#f9c2a7,#fcd7c2,#fcdfcf,#f9ede5,#e6eff4,#b1d5e7,#6eaed2,#4393c3,#3c8abe,#4291c2,#5fa5cd,#90c4dd,#c0dceb)"></i><i style="background:linear-gradient(90deg,#4393c3,#4393c3,#4393c3,#4997c5,#5ca3cb,#7eb8d7,#acd2e5,#deebf2,#f9ebe3,#fbccb4,#f6af8e,#f09c7b,#e48066,#d35a4a,#bd2d35,#9c1127,#7f0823,#6a011f,#67001f,#6d0220,#870a24,#b3192c,#d25849,#ef9979,#f9c2a7,#fcd5bf,#fcdecd,#faeae1,#e9f0f4,#b8d8e9,#7bb6d6,#4c99c6,#408fc1,#4393c3,#62a7ce,#90c4dd,#c2ddec)"></i><i style="background:linear-gradient(90deg,#4291c2,#4291c2,#4393c3,#4997c5,#5ca3cb,#7eb8d7,#aed3e6,#e0ecf3,#f9ebe3,#fbccb4,#f6b191,#f19e7d,#e58368,#d6604d,#be3036,#9f1228,#7f0823,#6d0220,#67001f,#700320,#8a0b25,#b41c2d,#d35a4a,#ef9979,#f8bfa4,#fcd3bc,#fddcc9,#fae8de,#edf2f5,#c0dceb,#84bcd9,#569fc9,#4393c3,#4997c5,#62a7ce,#93c6de,#c2ddec)"></i><i style="background:linear-gradient(90deg,#4291c2,#4291c2,#4393c3,#4c99c6,#5fa5cd,#81bad8,#b1d5e7,#e1edf3,#faeae1,#fbccb4,#f6b191,#f2a17f,#e8896c,#d86551,#c13639,#a51429,#840924,#700320,#6d0220,#760521,#900d26,#b72230,#d6604d,#f09c7b,#f8bfa4,#fcd3bc,#fddcc9,#fbe6da,#f0f4f6,#cae1ee,#90c4dd,#62a7ce,#4c99c6,#4c99c6,#65a9cf,#93c6de,#c5dfec)"></i><i style="background:linear-gradient(90deg,#4291c2,#4393c3,#4695c4,#4f9bc7,#62a7ce,#84bcd9,#b3d6e8,#e3edf3,#fae9df,#facab1,#f6b394,#f3a481,#ea8e70,#db6b55,#c53e3d,#ae172a,#8a0b25,#760521,#730421,#7c0722,#960f27,#bb2a34,#d86551,#f19e7d,#f9c2a7,#fbd0b9,#fddbc7,#fbe5d8,#f3f5f6,#d1e5f0,#9bc9e0,#6eaed2,#569fc9,#529dc8,#68abd0,#96c7df,#c7e0ed)"></i><i style="background:linear-gradient(90deg,#4393c3,#4393c3,#4997c5,#529dc8,#65a9cf,#8ac0db,#b6d7e8,#e4eef4,#fae9df,#facab1,#f6b394,#f4a683,#ec9374,#dd7059,#c94741,#b41c2d,#930e26,#7f0823,#790622,#840924,#a21328,#bf3338,#db6b55,#f2a17f,#f9c2a7,#fbd0b9,#fddbc7,#fbe4d6,#f6f7f7,#d5e7f1,#a5cee3,#7bb6d6,#5fa5cd,#5ca3cb,#6eaed2,#98c8e0,#cce2ef)"></i><i style="background:linear-gradient(90deg,#4695c4,#4997c5,#4c99c6,#59a1ca,#6bacd1,#90c4dd,#bbdaea,#e7f0f4,#fae8de,#facab1,#f7b596,#f5a886,#ef9979,#e17860,#ce4f45,#b82531,#9c1127,#870a24,#810823,#8d0c25,#ab162a,#c53e3d,#de735c,#f4a683,#f9c4a9,#fcd3bc,#fddbc7,#fbe4d6,#f7f5f4,#dbeaf2,#b1d5e7,#87beda,#6bacd1,#62a7ce,#71b0d3,#9bc9e0,#cfe4ef)"></i><i style="background:linear-gradient(90deg,#4c99c6,#4f9bc7,#529dc8,#5fa5cd,#71b0d3,#96c7df,#c0dceb,#e9f0f4,#fae7dc,#facab1,#f7b596,#f5ac8b,#f19e7d,#e48066,#d35a4a,#be3036,#a81529,#900d26,#8a0b25,#991027,#b41c2d,#cb4942,#e27b62,#f5aa89,#f9c6ac,#fcd3bc,#fddbc7,#fbe3d4,#f8f3f0,#e0ecf3,#bbdaea,#96c7df,#78b4d5,#6bacd1,#78b4d5,#9dcbe1,#d1e5f0)"></i><i style="background:linear-gradient(90deg,#529dc8,#569fc9,#5ca3cb,#65a9cf,#7bb6d6,#9bc9e0,#c5dfec,#eaf1f5,#fbe6da,#facab1,#f7b799,#f6af8e,#f4a683,#e98b6e,#d86551,#c53e3d,#b41c2d,#9f1228,#960f27,#a51429,#bb2a34,#d05548,#e58368,#f6af8e,#fac8af,#fcd5bf,#fddbc7,#fbe3d4,#f8f1ed,#e4eef4,#c5dfec,#a0cce2,#84bcd9,#75b2d4,#81bad8,#a2cde3,#d4e6f1)"></i><i style="background:linear-gradient(90deg,#5ca3cb,#5fa5cd,#65a9cf,#6eaed2,#84bcd9,#a2cde3,#cae1ee,#edf2f5,#fbe6da,#fbccb4,#f7b99c,#f6b394,#f5aa89,#ec9374,#dd7059,#cc4c44,#bb2a34,#ab162a,#a51429,#b3192c,#c2383a,#d6604d,#ea8e70,#f6b394,#facab1,#fcd5bf,#fddcc9,#fbe3d4,#f9f0eb,#eaf1f5,#d1e5f0,#acd2e5,#90c4dd,#81bad8,#87beda,#a7d0e4,#d7e8f1)"></i><i style="background:linear-gradient(90deg,#65a9cf,#68abd0,#6eaed2,#7bb6d6,#8dc2dc,#a9d1e5,#cfe4ef,#eff3f5,#fbe5d8,#fbccb4,#f8bda1,#f7b799,#f6b191,#f19e7d,#e37e64,#d35a4a,#c2383a,#b61f2e,#b3192c,#ba2832,#c94741,#dc6e57,#ef9979,#f7b799,#fbccb4,#fcd7c2,#fddcc9,#fbe3d4,#f9eee7,#eff3f5,#d7e8f1,#b8d8e9,#9dcbe1,#8dc2dc,#90c4dd,#acd2e5,#dae9f2)"></i><i style="background:linear-gradient(90deg,#75b2d4,#78b4d5,#7bb6d6,#87beda,#98c8e0,#b1d5e7,#d4e6f1,#f2f5f6,#fbe5d8,#fbceb7,#f8bfa4,#f8bb9e,#f7b596,#f4a683,#e8896c,#da6853,#c94741,#be3036,#bb2a34,#c2383a,#d25849,#e27b62,#f2a17f,#f8bda1,#fbd0b9,#fdd9c4,#fdddcb,#fbe3d4,#f9ede5,#f2f5f6,#ddebf2,#c5dfec,#a7d0e4,#98c8e0,#9bc9e0,#b3d6e8,#ddebf2)"></i><i style="background:linear-gradient(90deg,#84bcd9,#87beda,#8ac0db,#96c7df,#a5cee3,#bbdaea,#d8e9f1,#f5f6f7,#fbe5d8,#fbd0b9,#f9c4a9,#f8bfa4,#f8bb9e,#f6af8e,#ee9677,#e17860,#d25849,#c6413e,#c43b3c,#cb4942,#d86551,#e8896c,#f5aa89,#f9c2a7,#fcd3bc,#fddbc7,#fcdecd,#fbe3d4,#f9ebe3,#f6f7f7,#e3edf3,#cfe4ef,#b3d6e8,#a5cee3,#a5cee3,#bbdaea,#e0ecf3)"></i><i style="background:linear-gradient(90deg,#93c6de,#96c7df,#9bc9e0,#a2cde3,#b1d5e7,#c5dfec,#ddebf2,#f6f7f7,#fbe4d6,#fcd3bc,#f9c6ac,#f9c4a9,#f9c2a7,#f7b799,#f3a481,#e6866a,#db6b55,#d05548,#ce4f45,#d35a4a,#df765e,#ee9677,#f6b394,#fac8af,#fcd7c2,#fddcc9,#fcdfcf,#fbe4d6,#faeae1,#f7f5f4,#e9f0f4,#d7e8f1,#c2ddec,#b1d5e7,#b1d5e7,#c5dfec,#e4eef4)"></i><i style="background:linear-gradient(90deg,#a5cee3,#a7d0e4,#acd2e5,#b1d5e7,#bddbea,#d1e5f0,#e3edf3,#f7f5f4,#fbe4d6,#fcd5bf,#facab1,#facab1,#fac8af,#f8bda1,#f5ac8b,#ee9677,#e27b62,#da6853,#d7634f,#dc6e57,#e8896c,#f4a683,#f8bb9e,#fbccb4,#fdd9c4,#fcdecd,#fce0d0,#fbe4d6,#faeae1,#f8f3f0,#eff3f5,#deebf2,#cfe4ef,#bddbea,#bddbea,#cfe4ef,#e7f0f4)"></i><i style="background:linear-gradient(90deg,#b6d7e8,#b8d8e9,#bddbea,#c2ddec,#cce2ef,#d8e9f1,#e7f0f4,#f8f3f0,#fbe4d6,#fcd7c2,#fbd0b9,#fbceb7,#fbceb7,#f9c6ac,#f7b799,#f4a683,#ea8e70,#e37e64,#e17860,#e58368,#ef9979,#f6b191,#f9c2a7,#fcd3bc,#fddcc9,#fcdfcf,#fce2d2,#fbe5d8,#fae9df,#f8f1ed,#f3f5f6,#e4eef4,#d7e8f1,#cce2ef,#cce2ef,#d7e8f1,#ecf2f5)"></i><i style="background:linear-gradient(90deg,#cce2ef,#cfe4ef,#d1e5f0,#d4e6f1,#d8e9f1,#e1edf3,#edf2f5,#f8f1ed,#fbe5d8,#fddbc7,#fcd5bf,#fcd5bf,#fcd3bc,#fbccb4,#f9c2a7,#f6b191,#f2a17f,#eb9172,#ea8e70,#ee9677,#f5a886,#f7b99c,#facab1,#fcd7c2,#fdddcb,#fce0d0,#fbe3d4,#fbe6da,#fae9df,#f9f0eb,#f7f6f6,#eaf1f5,#e0ecf3,#d8e9f1,#d7e8f1,#deebf2,#f2f5f6)"></i><i style="background:linear-gradient(90deg,#dbeaf2,#ddebf2,#deebf2,#e0ecf3,#e4eef4,#eaf1f5,#f3f5f6,#f9f0eb,#fbe5d8,#fcdecd,#fddbc7,#fddbc7,#fdd9c4,#fcd5bf,#facab1,#f8bda1,#f6b191,#f5a886,#f4a683,#f5aa89,#f7b799,#f9c4a9,#fbd0b9,#fddbc7,#fcdecd,#fce2d2,#fbe4d6,#fbe6da,#faeae1,#f9efe9,#f8f4f2,#f2f5f6,#e9f0f4,#e3edf3,#e1edf3,#e7f0f4,#f6f7f7)"></i><i style="background:linear-gradient(90deg,#eaf1f5,#ecf2f5,#edf2f5,#edf2f5,#f0f4f6,#f3f5f6,#f8f4f2,#f9eee7,#fbe6da,#fce0d0,#fcdecd,#fcdecd,#fdddcb,#fddbc7,#fcd3bc,#facab1,#f9c2a7,#f8bb9e,#f7b99c,#f8bda1,#f9c4a9,#fbceb7,#fcd7c2,#fdddcb,#fce0d0,#fbe3d4,#fbe5d8,#fae7dc,#faeae1,#f9eee7,#f8f2ef,#f6f7f7,#f2f5f6,#edf2f5,#edf2f5,#f2f5f6,#f8f3f0)"></i><i style="background:linear-gradient(90deg,#f8f4f2,#f8f3f0,#f8f3f0,#f8f3f0,#f8f2ef,#f8f1ed,#f9efe9,#f9ebe3,#fae7dc,#fbe4d6,#fbe3d4,#fce2d2,#fce0d0,#fdddcb,#fddbc7,#fcd5bf,#fbd0b9,#fbceb7,#fbceb7,#fbceb7,#fcd3bc,#fcd7c2,#fddbc7,#fcdecd,#fce2d2,#fbe4d6,#fbe6da,#fae8de,#f9ebe3,#f9eee7,#f8f1ed,#f8f3f0,#f8f4f2,#f7f5f4,#f8f4f2,#f8f2ef,#f9efe9)"></i></div><svg class="ov" style="left:13px;top:-1px" width="239" height="120" viewBox="-6.950 -2.500 239 120"><polyline points="0.00,55.35 1.87,54.38 3.74,53.41 5.61,52.44 7.49,51.48 9.36,50.54 11.23,49.60 13.10,48.68 14.97,47.78 16.84,46.91 18.72,46.05 20.59,45.22 22.46,44.42 24.33,43.64 26.20,42.90 28.07,42.20 29.95,41.53 31.82,40.90 33.69,40.30 35.56,39.75 37.43,39.24 39.30,38.78 41.18,38.36 43.05,37.99 44.92,37.66 46.79,37.38 48.66,37.16 50.53,36.98 52.41,36.85 54.28,36.78 56.15,36.75 58.02,36.78 59.89,36.85 61.76,36.98 63.64,37.16 65.51,37.38 67.38,37.66 69.25,37.99 71.12,38.36 72.99,38.78 74.87,39.24 76.74,39.75 78.61,40.30 80.48,40.90 82.35,41.53 84.22,42.20 86.10,42.90 87.97,43.64 89.84,44.42 91.71,45.22 93.58,46.05 95.45,46.91 97.33,47.78 99.20,48.68 101.07,49.60 102.94,50.54 104.81,51.48 106.68,52.44 108.56,53.41 110.43,54.38 112.30,55.35 114.17,56.32 116.04,57.29 117.91,58.26 119.79,59.22 121.66,60.16 123.53,61.10 125.40,62.02 127.27,62.92 129.14,63.79 131.02,64.65 132.89,65.48 134.76,66.28 136.63,67.06 138.50,67.80 140.38,68.50 142.25,69.17 144.12,69.80 145.99,70.40 147.86,70.95 149.73,71.46 151.60,71.92 153.48,72.34 155.35,72.71 157.22,73.04 159.09,73.32 160.96,73.54 162.83,73.72 164.71,73.85 166.58,73.92 168.45,73.95 170.32,73.92 172.19,73.85 174.06,73.72 175.94,73.54 177.81,73.32 179.68,73.04 181.55,72.71 183.42,72.34 185.29,71.92 187.17,71.46 189.04,70.95 190.91,70.40 192.78,69.80 194.65,69.17 196.52,68.50 198.40,67.80 200.27,67.06 202.14,66.28 204.01,65.48 205.88,64.65 207.75,63.79 209.63,62.92 211.50,62.02 213.37,61.10 215.24,60.16 217.11,59.22 218.98,58.26 220.86,57.29 222.73,56.32 224.60,55.35" fill="none" stroke="#1a1a1a" stroke-width="1.25" stroke-dasharray="1.2 1.4"/><line x1="0" y1="55.35" x2="224.60" y2="55.35" stroke="#1a1a1a" stroke-width="1.35" stroke-dasharray="3.3 2.03"/><rect x="0" y="0" width="224.60" height="111.60" fill="none" stroke="#222" stroke-width="0.85"/><line x1="0.00" y1="111.60" x2="0.00" y2="114.40" stroke="#222" stroke-width="0.9"/><line x1="31.19" y1="111.60" x2="31.19" y2="114.40" stroke="#222" stroke-width="0.9"/><line x1="62.39" y1="111.60" x2="62.39" y2="114.40" stroke="#222" stroke-width="0.9"/><line x1="93.58" y1="111.60" x2="93.58" y2="114.40" stroke="#222" stroke-width="0.9"/><line x1="124.78" y1="111.60" x2="124.78" y2="114.40" stroke="#222" stroke-width="0.9"/><line x1="155.97" y1="111.60" x2="155.97" y2="114.40" stroke="#222" stroke-width="0.9"/><line x1="187.17" y1="111.60" x2="187.17" y2="114.40" stroke="#222" stroke-width="0.9"/><line x1="218.36" y1="111.60" x2="218.36" y2="114.40" stroke="#222" stroke-width="0.9"/><line x1="0" y1="9.30" x2="-2.8" y2="9.30" stroke="#222" stroke-width="0.9"/><line x1="0" y1="24.80" x2="-2.8" y2="24.80" stroke="#222" stroke-width="0.9"/><line x1="0" y1="40.30" x2="-2.8" y2="40.30" stroke="#222" stroke-width="0.9"/><line x1="0" y1="55.80" x2="-2.8" y2="55.80" stroke="#222" stroke-width="0.9"/><line x1="0" y1="71.30" x2="-2.8" y2="71.30" stroke="#222" stroke-width="0.9"/><line x1="0" y1="86.80" x2="-2.8" y2="86.80" stroke="#222" stroke-width="0.9"/><line x1="0" y1="102.30" x2="-2.8" y2="102.30" stroke="#222" stroke-width="0.9"/></svg><span class="xl" style="left:-0.05px;top:115.80px">0</span><span class="xl" style="left:31.14px;top:115.80px">50</span><span class="xl" style="left:62.34px;top:115.80px">100</span><span class="xl" style="left:93.53px;top:115.80px">150</span><span class="xl" style="left:124.73px;top:115.80px">200</span><span class="xl" style="left:155.92px;top:115.80px">250</span><span class="xl" style="left:187.12px;top:115.80px">300</span><span class="xl" style="left:218.31px;top:115.80px">350</span><span class="yl" style="left:-24.45px;top:6.60px">75</span><span class="yl" style="left:-24.45px;top:22.10px">50</span><span class="yl" style="left:-24.45px;top:37.60px">25</span><span class="yl" style="left:-24.45px;top:53.10px">0</span><span class="yl" style="left:-24.45px;top:68.60px"><b class="m"></b>25</span><span class="yl" style="left:-24.45px;top:84.10px"><b class="m"></b>50</span><span class="yl" style="left:-24.45px;top:99.60px"><b class="m"></b>75</span><div class="tx" style="left:21.95px;top:2.90px">Ro = 0.5 Ro<sub>Sun</sub><br>Stellar maximum</div><div class="hm" style="left:277px;top:2px;width:225px;height:111px"><i style="background:linear-gradient(90deg,#2e77b5,#2e77b5,#2e77b5,#2e77b5,#2f79b5,#2f79b5,#2f79b5,#2f79b5,#2f79b5,#2e77b5,#2f79b5,#2f79b5,#2f79b5,#2f79b5,#2e77b5,#2e77b5,#2c75b4,#2c75b4,#2c75b4,#2b73b3,#2b73b3,#2c75b4,#2c75b4,#2e77b5,#2f79b5,#2f79b5,#307ab6,#307ab6,#307ab6,#307ab6,#307ab6,#307ab6,#307ab6,#2f79b5,#2f79b5,#2e77b5,#2e77b5)"></i><i style="background:linear-gradient(90deg,#2e77b5,#2e77b5,#2e77b5,#2f79b5,#307ab6,#307ab6,#307ab6,#307ab6,#2f79b5,#2e77b5,#2f79b5,#307ab6,#307ab6,#307ab6,#2f79b5,#2e77b5,#2c75b4,#2b73b3,#2b73b3,#2a71b2,#2a71b2,#2b73b3,#2c75b4,#2e77b5,#2f79b5,#307ab6,#327cb7,#327cb7,#337eb8,#337eb8,#337eb8,#337eb8,#327cb7,#327cb7,#307ab6,#2f79b5,#2e77b5)"></i><i style="background:linear-gradient(90deg,#2e77b5,#2e77b5,#2f79b5,#307ab6,#327cb7,#337eb8,#327cb7,#307ab6,#2f79b5,#2f79b5,#2f79b5,#307ab6,#327cb7,#327cb7,#307ab6,#2f79b5,#2e77b5,#2c75b4,#2b73b3,#2a71b2,#2a71b2,#2b73b3,#2c75b4,#2e77b5,#307ab6,#327cb7,#337eb8,#3480b9,#3480b9,#3480b9,#3480b9,#3480b9,#3480b9,#337eb8,#327cb7,#307ab6,#2e77b5)"></i><i style="background:linear-gradient(90deg,#2f79b5,#307ab6,#307ab6,#327cb7,#337eb8,#3480b9,#337eb8,#327cb7,#307ab6,#2f79b5,#307ab6,#327cb7,#337eb8,#337eb8,#327cb7,#307ab6,#2f79b5,#2e77b5,#2c75b4,#2b73b3,#2b73b3,#2b73b3,#2e77b5,#2f79b5,#327cb7,#337eb8,#3681ba,#3681ba,#3783bb,#3783bb,#3783bb,#3783bb,#3681ba,#3681ba,#3480b9,#327cb7,#2f79b5)"></i><i style="background:linear-gradient(90deg,#327cb7,#327cb7,#337eb8,#3480b9,#3681ba,#3681ba,#3480b9,#337eb8,#307ab6,#2f79b5,#307ab6,#337eb8,#3480b9,#3480b9,#3480b9,#337eb8,#307ab6,#2f79b5,#2e77b5,#2c75b4,#2c75b4,#2c75b4,#2f79b5,#307ab6,#337eb8,#3480b9,#3783bb,#3885bc,#3885bc,#3a87bd,#3a87bd,#3885bc,#3885bc,#3783bb,#3681ba,#3480b9,#327cb7)"></i><i style="background:linear-gradient(90deg,#3480b9,#3681ba,#3681ba,#3783bb,#3783bb,#3783bb,#3681ba,#337eb8,#327cb7,#307ab6,#307ab6,#337eb8,#3681ba,#3783bb,#3783bb,#3681ba,#3480b9,#337eb8,#307ab6,#2f79b5,#2f79b5,#2f79b5,#307ab6,#327cb7,#3480b9,#3783bb,#3885bc,#3a87bd,#3b88be,#3b88be,#3b88be,#3b88be,#3b88be,#3a87bd,#3885bc,#3783bb,#3480b9)"></i><i style="background:linear-gradient(90deg,#3885bc,#3a87bd,#3a87bd,#3a87bd,#3a87bd,#3a87bd,#3783bb,#3480b9,#327cb7,#307ab6,#327cb7,#3480b9,#3783bb,#3885bc,#3a87bd,#3a87bd,#3885bc,#3681ba,#3480b9,#337eb8,#327cb7,#327cb7,#337eb8,#3480b9,#3681ba,#3885bc,#3a87bd,#3b88be,#3c8abe,#3e8cbf,#3e8cbf,#3e8cbf,#3e8cbf,#3c8abe,#3b88be,#3a87bd,#3885bc)"></i><i style="background:linear-gradient(90deg,#3c8abe,#3e8cbf,#3e8cbf,#3e8cbf,#3c8abe,#3b88be,#3885bc,#3681ba,#327cb7,#307ab6,#327cb7,#3681ba,#3885bc,#3b88be,#3c8abe,#3e8cbf,#3c8abe,#3b88be,#3885bc,#3783bb,#3681ba,#3681ba,#3681ba,#3681ba,#3885bc,#3a87bd,#3b88be,#3e8cbf,#3f8ec0,#3f8ec0,#408fc1,#408fc1,#3f8ec0,#3f8ec0,#3e8cbf,#3e8cbf,#3c8abe)"></i><i style="background:linear-gradient(90deg,#4291c2,#4291c2,#4291c2,#4291c2,#3f8ec0,#3c8abe,#3a87bd,#3681ba,#337eb8,#327cb7,#337eb8,#3681ba,#3a87bd,#3e8cbf,#408fc1,#4291c2,#408fc1,#3f8ec0,#3e8cbf,#3b88be,#3a87bd,#3885bc,#3885bc,#3885bc,#3a87bd,#3b88be,#3c8abe,#3f8ec0,#408fc1,#4291c2,#4291c2,#4291c2,#4291c2,#4291c2,#4291c2,#4291c2,#4291c2)"></i><i style="background:linear-gradient(90deg,#4997c5,#4c99c6,#4c99c6,#4997c5,#4393c3,#3f8ec0,#3b88be,#3783bb,#337eb8,#327cb7,#337eb8,#3783bb,#3b88be,#408fc1,#4393c3,#4997c5,#4997c5,#4695c4,#4393c3,#408fc1,#3f8ec0,#3c8abe,#3c8abe,#3b88be,#3b88be,#3c8abe,#3f8ec0,#408fc1,#4291c2,#4393c3,#4695c4,#4695c4,#4695c4,#4695c4,#4695c4,#4997c5,#4997c5)"></i><i style="background:linear-gradient(90deg,#569fc9,#5ca3cb,#59a1ca,#529dc8,#4997c5,#408fc1,#3c8abe,#3783bb,#337eb8,#327cb7,#3480b9,#3783bb,#3c8abe,#4291c2,#4c99c6,#569fc9,#569fc9,#569fc9,#4f9bc7,#4997c5,#4695c4,#4291c2,#3f8ec0,#3e8cbf,#3e8cbf,#3f8ec0,#408fc1,#4291c2,#4695c4,#4997c5,#4c99c6,#4c99c6,#4c99c6,#4f9bc7,#4f9bc7,#529dc8,#569fc9)"></i><i style="background:linear-gradient(90deg,#62a7ce,#68abd0,#65a9cf,#5ca3cb,#4f9bc7,#4393c3,#3c8abe,#3783bb,#3480b9,#337eb8,#3480b9,#3885bc,#3e8cbf,#4695c4,#569fc9,#5fa5cd,#65a9cf,#62a7ce,#5fa5cd,#59a1ca,#529dc8,#4997c5,#4393c3,#408fc1,#3f8ec0,#408fc1,#4291c2,#4695c4,#4997c5,#4f9bc7,#529dc8,#529dc8,#529dc8,#569fc9,#59a1ca,#5ca3cb,#62a7ce)"></i><i style="background:linear-gradient(90deg,#71b0d3,#75b2d4,#71b0d3,#68abd0,#59a1ca,#4695c4,#3e8cbf,#3885bc,#3480b9,#337eb8,#3480b9,#3885bc,#3f8ec0,#4c99c6,#5fa5cd,#6bacd1,#71b0d3,#71b0d3,#6bacd1,#65a9cf,#5fa5cd,#569fc9,#4c99c6,#4393c3,#4291c2,#4291c2,#4393c3,#4997c5,#4f9bc7,#529dc8,#569fc9,#59a1ca,#5ca3cb,#5ca3cb,#62a7ce,#68abd0,#71b0d3)"></i><i style="background:linear-gradient(90deg,#7eb8d7,#84bcd9,#81bad8,#71b0d3,#5fa5cd,#4c99c6,#3f8ec0,#3885bc,#3480b9,#337eb8,#3480b9,#3885bc,#408fc1,#529dc8,#65a9cf,#78b4d5,#7eb8d7,#7eb8d7,#7bb6d6,#75b2d4,#6bacd1,#5fa5cd,#569fc9,#4997c5,#4393c3,#4393c3,#4997c5,#4f9bc7,#569fc9,#59a1ca,#5ca3cb,#5fa5cd,#62a7ce,#65a9cf,#68abd0,#71b0d3,#7eb8d7)"></i><i style="background:linear-gradient(90deg,#8ac0db,#93c6de,#8dc2dc,#7eb8d7,#68abd0,#4f9bc7,#3f8ec0,#3885bc,#3480b9,#337eb8,#3480b9,#3a87bd,#408fc1,#569fc9,#6eaed2,#81bad8,#8dc2dc,#8dc2dc,#8ac0db,#81bad8,#78b4d5,#6bacd1,#5ca3cb,#4f9bc7,#4997c5,#4997c5,#4c99c6,#569fc9,#5ca3cb,#5fa5cd,#62a7ce,#65a9cf,#68abd0,#6bacd1,#71b0d3,#7eb8d7,#8ac0db)"></i><i style="background:linear-gradient(90deg,#98c8e0,#9dcbe1,#98c8e0,#87beda,#6eaed2,#569fc9,#408fc1,#3885bc,#3480b9,#337eb8,#3480b9,#3a87bd,#4291c2,#5ca3cb,#78b4d5,#8dc2dc,#98c8e0,#98c8e0,#96c7df,#90c4dd,#84bcd9,#78b4d5,#65a9cf,#569fc9,#4c99c6,#4c99c6,#529dc8,#59a1ca,#62a7ce,#65a9cf,#6bacd1,#6eaed2,#71b0d3,#75b2d4,#7bb6d6,#87beda,#96c7df)"></i><i style="background:linear-gradient(90deg,#a2cde3,#a9d1e5,#a5cee3,#93c6de,#78b4d5,#59a1ca,#4291c2,#3885bc,#3480b9,#337eb8,#3480b9,#3a87bd,#4291c2,#5fa5cd,#7eb8d7,#96c7df,#a2cde3,#a5cee3,#a2cde3,#9bc9e0,#90c4dd,#81bad8,#6eaed2,#5ca3cb,#4f9bc7,#4f9bc7,#569fc9,#5fa5cd,#68abd0,#6eaed2,#71b0d3,#75b2d4,#78b4d5,#7eb8d7,#84bcd9,#93c6de,#a2cde3)"></i><i style="background:linear-gradient(90deg,#acd2e5,#b6d7e8,#aed3e6,#9dcbe1,#7eb8d7,#5fa5cd,#4291c2,#3885bc,#3480b9,#327cb7,#337eb8,#3a87bd,#4393c3,#62a7ce,#84bcd9,#9dcbe1,#a9d1e5,#aed3e6,#acd2e5,#a5cee3,#9bc9e0,#8ac0db,#75b2d4,#5fa5cd,#529dc8,#529dc8,#5ca3cb,#65a9cf,#6eaed2,#75b2d4,#78b4d5,#7bb6d6,#7eb8d7,#84bcd9,#8dc2dc,#9bc9e0,#acd2e5)"></i><i style="background:linear-gradient(90deg,#b6d7e8,#c0dceb,#b8d8e9,#a5cee3,#87beda,#62a7ce,#4393c3,#3885bc,#337eb8,#327cb7,#337eb8,#3885bc,#4393c3,#65a9cf,#8ac0db,#a5cee3,#b3d6e8,#b6d7e8,#b6d7e8,#aed3e6,#a2cde3,#93c6de,#7bb6d6,#65a9cf,#569fc9,#59a1ca,#62a7ce,#6eaed2,#78b4d5,#7eb8d7,#81bad8,#84bcd9,#87beda,#8dc2dc,#96c7df,#a2cde3,#b6d7e8)"></i><i style="background:linear-gradient(90deg,#bddbea,#cae1ee,#c2ddec,#acd2e5,#8dc2dc,#68abd0,#4393c3,#3885bc,#327cb7,#307ab6,#327cb7,#3885bc,#4393c3,#68abd0,#90c4dd,#a9d1e5,#bbdaea,#c0dceb,#bddbea,#b6d7e8,#acd2e5,#9bc9e0,#81bad8,#68abd0,#59a1ca,#5ca3cb,#65a9cf,#75b2d4,#7eb8d7,#84bcd9,#8ac0db,#8dc2dc,#90c4dd,#96c7df,#9dcbe1,#acd2e5,#bddbea)"></i><i style="background:linear-gradient(90deg,#c7e0ed,#d2e6f0,#cce2ef,#b3d6e8,#96c7df,#6bacd1,#4695c4,#3885bc,#327cb7,#2f79b5,#307ab6,#3783bb,#4393c3,#6bacd1,#93c6de,#b1d5e7,#c0dceb,#c7e0ed,#c5dfec,#c0dceb,#b3d6e8,#a0cce2,#87beda,#6bacd1,#5ca3cb,#5fa5cd,#6bacd1,#7eb8d7,#87beda,#8dc2dc,#93c6de,#93c6de,#96c7df,#9bc9e0,#a5cee3,#b3d6e8,#c7e0ed)"></i><i style="background:linear-gradient(90deg,#cfe4ef,#d8e9f1,#d2e6f0,#bddbea,#9bc9e0,#6eaed2,#4695c4,#3885bc,#307ab6,#2e77b5,#307ab6,#3783bb,#4393c3,#6bacd1,#98c8e0,#b6d7e8,#c7e0ed,#cfe4ef,#cfe4ef,#c7e0ed,#bbdaea,#a7d0e4,#8dc2dc,#6eaed2,#5fa5cd,#62a7ce,#71b0d3,#84bcd9,#90c4dd,#96c7df,#98c8e0,#9bc9e0,#9dcbe1,#a2cde3,#acd2e5,#bbdaea,#cfe4ef)"></i><i style="background:linear-gradient(90deg,#d4e6f1,#ddebf2,#d8e9f1,#c2ddec,#a0cce2,#75b2d4,#4997c5,#3885bc,#307ab6,#2c75b4,#2f79b5,#3681ba,#4393c3,#6eaed2,#9bc9e0,#bbdaea,#cce2ef,#d4e6f1,#d4e6f1,#cfe4ef,#c2ddec,#acd2e5,#90c4dd,#71b0d3,#62a7ce,#65a9cf,#78b4d5,#8dc2dc,#98c8e0,#9dcbe1,#a0cce2,#a2cde3,#a5cee3,#a9d1e5,#b1d5e7,#c0dceb,#d4e6f1)"></i><i style="background:linear-gradient(90deg,#d8e9f1,#e1edf3,#ddebf2,#cae1ee,#a5cee3,#78b4d5,#4997c5,#3885bc,#2f79b5,#2b73b3,#2e77b5,#3681ba,#4393c3,#6eaed2,#9dcbe1,#bddbea,#d2e6f0,#d8e9f1,#d8e9f1,#d4e6f1,#cae1ee,#b3d6e8,#96c7df,#75b2d4,#62a7ce,#6bacd1,#7eb8d7,#96c7df,#a0cce2,#a5cee3,#a7d0e4,#a7d0e4,#a9d1e5,#aed3e6,#b8d8e9,#c7e0ed,#d8e9f1)"></i><i style="background:linear-gradient(90deg,#dbeaf2,#e6eff4,#e1edf3,#d1e5f0,#a9d1e5,#7eb8d7,#4c99c6,#3885bc,#2e77b5,#2b73b3,#2c75b4,#3480b9,#4393c3,#71b0d3,#a0cce2,#c2ddec,#d5e7f1,#ddebf2,#ddebf2,#dae9f2,#d1e5f0,#b8d8e9,#9bc9e0,#78b4d5,#65a9cf,#6eaed2,#87beda,#9dcbe1,#a9d1e5,#aed3e6,#aed3e6,#aed3e6,#b1d5e7,#b3d6e8,#bddbea,#cce2ef,#dbeaf2)"></i><i style="background:linear-gradient(90deg,#deebf2,#eaf1f5,#e4eef4,#d4e6f1,#aed3e6,#81bad8,#4f9bc7,#3885bc,#2e77b5,#2a71b2,#2b73b3,#3480b9,#4393c3,#71b0d3,#a2cde3,#c7e0ed,#dae9f2,#e1edf3,#e3edf3,#deebf2,#d5e7f1,#c0dceb,#9dcbe1,#7bb6d6,#68abd0,#71b0d3,#8dc2dc,#a5cee3,#b1d5e7,#b6d7e8,#b6d7e8,#b3d6e8,#b6d7e8,#b8d8e9,#c2ddec,#d1e5f0,#deebf2)"></i><i style="background:linear-gradient(90deg,#e1edf3,#edf2f5,#e9f0f4,#d7e8f1,#b3d6e8,#84bcd9,#529dc8,#3885bc,#2e77b5,#2a71b2,#2b73b3,#337eb8,#4393c3,#75b2d4,#a7d0e4,#cce2ef,#deebf2,#e6eff4,#e7f0f4,#e4eef4,#dbeaf2,#c7e0ed,#a2cde3,#7eb8d7,#68abd0,#75b2d4,#93c6de,#acd2e5,#b8d8e9,#bddbea,#bbdaea,#bbdaea,#bbdaea,#bddbea,#c7e0ed,#d4e6f1,#e1edf3)"></i><i style="background:linear-gradient(90deg,#e4eef4,#f0f4f6,#ecf2f5,#dae9f2,#b8d8e9,#8ac0db,#569fc9,#3a87bd,#2e77b5,#2870b1,#2b73b3,#337eb8,#4393c3,#78b4d5,#a9d1e5,#d2e6f0,#e3edf3,#ecf2f5,#eff3f5,#ecf2f5,#e1edf3,#d1e5f0,#a9d1e5,#81bad8,#68abd0,#78b4d5,#98c8e0,#b3d6e8,#c0dceb,#c5dfec,#c2ddec,#c0dceb,#bddbea,#c2ddec,#cae1ee,#d7e8f1,#e4eef4)"></i><i style="background:linear-gradient(90deg,#e6eff4,#f2f5f6,#edf2f5,#ddebf2,#bddbea,#8dc2dc,#59a1ca,#3b88be,#2f79b5,#2a71b2,#2b73b3,#337eb8,#4695c4,#7bb6d6,#aed3e6,#d5e7f1,#e7f0f4,#f2f5f6,#f5f6f7,#f2f5f6,#e9f0f4,#d7e8f1,#aed3e6,#84bcd9,#6bacd1,#7bb6d6,#9dcbe1,#bbdaea,#cae1ee,#cae1ee,#c7e0ed,#c2ddec,#c2ddec,#c5dfec,#cfe4ef,#d8e9f1,#e6eff4)"></i><i style="background:linear-gradient(90deg,#e7f0f4,#f5f6f7,#f0f4f6,#e0ecf3,#c0dceb,#93c6de,#5fa5cd,#3c8abe,#2f79b5,#2a71b2,#2b73b3,#3480b9,#4695c4,#7eb8d7,#b3d6e8,#dae9f2,#edf2f5,#f7f6f6,#f8f3f0,#f8f4f2,#f0f4f6,#ddebf2,#b6d7e8,#87beda,#6bacd1,#7eb8d7,#a2cde3,#c2ddec,#d1e5f0,#d1e5f0,#cce2ef,#c7e0ed,#c5dfec,#c7e0ed,#d1e5f0,#dae9f2,#e7f0f4)"></i><i style="background:linear-gradient(90deg,#e9f0f4,#f6f7f7,#f2f5f6,#e1edf3,#c5dfec,#96c7df,#62a7ce,#3e8cbf,#307ab6,#2b73b3,#2b73b3,#3480b9,#4997c5,#81bad8,#b8d8e9,#deebf2,#f2f5f6,#f8f1ed,#f9eee7,#f9efe9,#f7f6f6,#e3edf3,#bddbea,#8ac0db,#6eaed2,#7eb8d7,#a7d0e4,#cae1ee,#d5e7f1,#d5e7f1,#d1e5f0,#cae1ee,#c7e0ed,#cae1ee,#d2e6f0,#dbeaf2,#e9f0f4)"></i><i style="background:linear-gradient(90deg,#eaf1f5,#f7f6f6,#f3f5f6,#e3edf3,#c7e0ed,#9bc9e0,#65a9cf,#3f8ec0,#327cb7,#2b73b3,#2c75b4,#3480b9,#4997c5,#87beda,#bddbea,#e3edf3,#f7f6f6,#f9ede5,#fae7dc,#fae8de,#f9f0eb,#eaf1f5,#c5dfec,#8dc2dc,#6eaed2,#81bad8,#acd2e5,#d1e5f0,#dae9f2,#d8e9f1,#d2e6f0,#cfe4ef,#cce2ef,#cce2ef,#d4e6f1,#ddebf2,#eaf1f5)"></i><i style="background:linear-gradient(90deg,#ecf2f5,#f7f5f4,#f5f6f7,#e4eef4,#cce2ef,#9dcbe1,#6bacd1,#4291c2,#337eb8,#2c75b4,#2e77b5,#3681ba,#4c99c6,#8ac0db,#c2ddec,#e7f0f4,#f8f2ef,#fae7dc,#fce2d2,#fbe3d4,#faeae1,#f0f4f6,#cae1ee,#90c4dd,#6eaed2,#84bcd9,#aed3e6,#d4e6f1,#ddebf2,#dbeaf2,#d5e7f1,#d1e5f0,#cfe4ef,#cfe4ef,#d5e7f1,#deebf2,#ecf2f5)"></i><i style="background:linear-gradient(90deg,#edf2f5,#f8f4f2,#f6f7f7,#e7f0f4,#cfe4ef,#a2cde3,#6eaed2,#4393c3,#3681ba,#2e77b5,#2e77b5,#3783bb,#4f9bc7,#8dc2dc,#c7e0ed,#ecf2f5,#f9eee7,#fce2d2,#fddcc9,#fddcc9,#fbe5d8,#f7f6f6,#d1e5f0,#93c6de,#6eaed2,#84bcd9,#b1d5e7,#d7e8f1,#e0ecf3,#deebf2,#d8e9f1,#d2e6f0,#d1e5f0,#d2e6f0,#d7e8f1,#e0ecf3,#edf2f5)"></i><i style="background:linear-gradient(90deg,#eff3f5,#f8f3f0,#f7f6f6,#e9f0f4,#d1e5f0,#a5cee3,#75b2d4,#4695c4,#3783bb,#2f79b5,#2f79b5,#3783bb,#529dc8,#93c6de,#cce2ef,#f0f4f6,#fae9df,#fdddcb,#fcd3bc,#fcd3bc,#fcdfcf,#f8f2ef,#d5e7f1,#96c7df,#6bacd1,#84bcd9,#b3d6e8,#dae9f2,#e3edf3,#e1edf3,#dae9f2,#d5e7f1,#d2e6f0,#d4e6f1,#d8e9f1,#e3edf3,#eff3f5)"></i><i style="background:linear-gradient(90deg,#f0f4f6,#f8f2ef,#f8f4f2,#eaf1f5,#d4e6f1,#a9d1e5,#78b4d5,#4997c5,#3885bc,#307ab6,#307ab6,#3885bc,#569fc9,#96c7df,#d1e5f0,#f3f5f6,#fbe6da,#fcd7c2,#facab1,#fac8af,#fdd9c4,#f9efe9,#d8e9f1,#98c8e0,#6bacd1,#81bad8,#b6d7e8,#dbeaf2,#e6eff4,#e3edf3,#ddebf2,#d8e9f1,#d5e7f1,#d7e8f1,#dbeaf2,#e4eef4,#f0f4f6)"></i><i style="background:linear-gradient(90deg,#f3f5f6,#f8f1ed,#f8f3f0,#edf2f5,#d5e7f1,#acd2e5,#7bb6d6,#4f9bc7,#3a87bd,#327cb7,#307ab6,#3a87bd,#569fc9,#98c8e0,#d4e6f1,#f7f6f6,#fbe3d4,#fbceb7,#f9c2a7,#f8bfa4,#fbd0b9,#faeae1,#dae9f2,#98c8e0,#68abd0,#81bad8,#b3d6e8,#dbeaf2,#e7f0f4,#e6eff4,#e0ecf3,#dae9f2,#d8e9f1,#dae9f2,#deebf2,#e7f0f4,#f3f5f6)"></i><i style="background:linear-gradient(90deg,#f5f6f7,#f9efe9,#f8f1ed,#eff3f5,#d7e8f1,#aed3e6,#7eb8d7,#4f9bc7,#3a87bd,#327cb7,#327cb7,#3a87bd,#59a1ca,#9bc9e0,#d7e8f1,#f8f4f2,#fcdfcf,#fac8af,#f7b99c,#f7b99c,#facab1,#fae8de,#ddebf2,#98c8e0,#68abd0,#7bb6d6,#b3d6e8,#dbeaf2,#e7f0f4,#e7f0f4,#e1edf3,#deebf2,#ddebf2,#deebf2,#e3edf3,#eaf1f5,#f5f6f7)"></i><i style="background:linear-gradient(90deg,#f7f6f6,#f9ede5,#f9efe9,#f2f5f6,#dae9f2,#b1d5e7,#81bad8,#529dc8,#3b88be,#337eb8,#327cb7,#3b88be,#5ca3cb,#9dcbe1,#d8e9f1,#f8f2ef,#fdddcb,#f9c2a7,#f6b394,#f6b394,#f9c4a9,#fbe6da,#deebf2,#98c8e0,#65a9cf,#78b4d5,#aed3e6,#dae9f2,#e7f0f4,#e9f0f4,#e4eef4,#e1edf3,#e0ecf3,#e1edf3,#e7f0f4,#eff3f5,#f7f6f6)"></i><i style="background:linear-gradient(90deg,#f8f3f0,#faeae1,#f9ede5,#f5f6f7,#dbeaf2,#b3d6e8,#84bcd9,#569fc9,#3c8abe,#337eb8,#337eb8,#3b88be,#5ca3cb,#a0cce2,#dbeaf2,#f9f0eb,#fddbc7,#f8bda1,#f6af8e,#f6af8e,#f8bfa4,#fbe5d8,#deebf2,#96c7df,#5fa5cd,#71b0d3,#acd2e5,#d8e9f1,#e7f0f4,#e9f0f4,#e7f0f4,#e4eef4,#e4eef4,#e7f0f4,#ecf2f5,#f2f5f6,#f8f3f0)"></i><i style="background:linear-gradient(90deg,#f8f1ed,#fae7dc,#faeae1,#f7f6f6,#deebf2,#b8d8e9,#87beda,#569fc9,#3c8abe,#3480b9,#337eb8,#3b88be,#5fa5cd,#a2cde3,#ddebf2,#f9efe9,#fcd7c2,#f7b99c,#f5aa89,#f5aa89,#f8bda1,#fbe4d6,#deebf2,#96c7df,#5ca3cb,#6bacd1,#a5cee3,#d5e7f1,#e6eff4,#eaf1f5,#e9f0f4,#e9f0f4,#eaf1f5,#ecf2f5,#f0f4f6,#f7f6f6,#f8f1ed)"></i><i style="background:linear-gradient(90deg,#f9eee7,#fbe4d6,#fae7dc,#f8f4f2,#e1edf3,#bbdaea,#87beda,#59a1ca,#3e8cbf,#3480b9,#3480b9,#3c8abe,#62a7ce,#a5cee3,#deebf2,#f9ede5,#fcd3bc,#f7b799,#f5a886,#f5a886,#f8bb9e,#fbe3d4,#deebf2,#93c6de,#569fc9,#65a9cf,#a0cce2,#d2e6f0,#e4eef4,#eaf1f5,#ecf2f5,#edf2f5,#eff3f5,#f2f5f6,#f6f7f7,#f8f3f0,#f9eee7)"></i><i style="background:linear-gradient(90deg,#faeae1,#fcdfcf,#fbe4d6,#f8f1ed,#e3edf3,#bddbea,#8ac0db,#59a1ca,#3e8cbf,#3681ba,#3480b9,#3e8cbf,#62a7ce,#a5cee3,#e0ecf3,#f9ebe3,#fbd0b9,#f7b596,#f4a683,#f4a683,#f8bb9e,#fbe3d4,#deebf2,#90c4dd,#529dc8,#5fa5cd,#98c8e0,#cce2ef,#e1edf3,#eaf1f5,#eff3f5,#f2f5f6,#f5f6f7,#f7f6f6,#f8f3f0,#f9efe9,#faeae1)"></i><i style="background:linear-gradient(90deg,#fbe6da,#fddcc9,#fcdfcf,#f9efe9,#e6eff4,#c0dceb,#8ac0db,#5ca3cb,#3f8ec0,#3783bb,#3681ba,#3e8cbf,#65a9cf,#a7d0e4,#e1edf3,#faeae1,#fbceb7,#f6b394,#f3a481,#f4a683,#f7b99c,#fbe3d4,#deebf2,#8dc2dc,#4c99c6,#59a1ca,#90c4dd,#c7e0ed,#deebf2,#eaf1f5,#f0f4f6,#f5f6f7,#f7f5f4,#f8f1ed,#f9eee7,#faeae1,#fbe6da)"></i><i style="background:linear-gradient(90deg,#fce2d2,#fcd5bf,#fddcc9,#f9ebe3,#e9f0f4,#c2ddec,#8dc2dc,#5ca3cb,#3f8ec0,#3783bb,#3783bb,#3f8ec0,#68abd0,#a9d1e5,#e3edf3,#fae9df,#fbccb4,#f6b191,#f3a481,#f3a481,#f7b99c,#fbe3d4,#ddebf2,#8ac0db,#4997c5,#4f9bc7,#87beda,#c0dceb,#ddebf2,#e9f0f4,#f2f5f6,#f7f5f4,#f8f1ed,#f9ede5,#fae9df,#fbe5d8,#fce2d2)"></i><i style="background:linear-gradient(90deg,#fdddcb,#facab1,#fcd5bf,#fae8de,#ecf2f5,#c5dfec,#90c4dd,#5fa5cd,#408fc1,#3a87bd,#3885bc,#408fc1,#6bacd1,#acd2e5,#e4eef4,#fae8de,#fbccb4,#f6b191,#f3a481,#f4a683,#f8bb9e,#fbe4d6,#ddebf2,#87beda,#4393c3,#4997c5,#7eb8d7,#b8d8e9,#d8e9f1,#e9f0f4,#f3f5f6,#f8f3f0,#f9eee7,#fae8de,#fbe4d6,#fce0d0,#fdddcb)"></i><i style="background:linear-gradient(90deg,#fcd5bf,#f9c2a7,#fbccb4,#fbe5d8,#eff3f5,#c7e0ed,#90c4dd,#5fa5cd,#4291c2,#3b88be,#3a87bd,#4291c2,#6eaed2,#aed3e6,#e6eff4,#fae8de,#facab1,#f6b191,#f3a481,#f4a683,#f8bb9e,#fbe4d6,#dbeaf2,#84bcd9,#408fc1,#4291c2,#75b2d4,#b1d5e7,#d5e7f1,#e7f0f4,#f5f6f7,#f8f1ed,#fae9df,#fbe4d6,#fcdecd,#fddbc7,#fcd7c2)"></i><i style="background:linear-gradient(90deg,#fbccb4,#f7b799,#f9c4a9,#fce0d0,#f2f5f6,#cae1ee,#93c6de,#62a7ce,#4393c3,#3e8cbf,#3c8abe,#4695c4,#71b0d3,#b1d5e7,#e7f0f4,#fae7dc,#facab1,#f6b191,#f4a683,#f4a683,#f8bb9e,#fbe4d6,#dbeaf2,#81bad8,#3f8ec0,#3f8ec0,#6bacd1,#a9d1e5,#d2e6f0,#e6eff4,#f5f6f7,#f9efe9,#fbe6da,#fcdfcf,#fdd9c4,#fbd0b9,#fbccb4)"></i><i style="background:linear-gradient(90deg,#f8bfa4,#f5ac8b,#f7b99c,#fdddcb,#f6f7f7,#cfe4ef,#96c7df,#65a9cf,#4997c5,#3f8ec0,#3f8ec0,#4997c5,#75b2d4,#b3d6e8,#e7f0f4,#fbe6da,#facab1,#f6b394,#f4a683,#f5a886,#f8bda1,#fbe5d8,#dae9f2,#7eb8d7,#3c8abe,#3c8abe,#65a9cf,#a2cde3,#cce2ef,#e3edf3,#f5f6f7,#f9eee7,#fbe3d4,#fddbc7,#fbceb7,#f9c4a9,#f9c2a7)"></i><i style="background:linear-gradient(90deg,#f7b596,#f19e7d,#f6af8e,#fcd7c2,#f7f5f4,#d1e5f0,#98c8e0,#68abd0,#4f9bc7,#4393c3,#4291c2,#4f9bc7,#78b4d5,#b6d7e8,#e9f0f4,#fbe6da,#facab1,#f6b394,#f5a886,#f5aa89,#f8bda1,#fbe5d8,#dae9f2,#7eb8d7,#3b88be,#3a87bd,#5ca3cb,#98c8e0,#c7e0ed,#e1edf3,#f5f6f7,#f9ebe3,#fce0d0,#fcd3bc,#f9c4a9,#f7b99c,#f7b596)"></i><i style="background:linear-gradient(90deg,#f5a886,#eb9172,#f3a481,#fbceb7,#f8f2ef,#d4e6f1,#9bc9e0,#6eaed2,#529dc8,#4997c5,#4695c4,#569fc9,#7eb8d7,#b8d8e9,#eaf1f5,#fbe5d8,#facab1,#f6b394,#f5aa89,#f5aa89,#f8bfa4,#fbe5d8,#d8e9f1,#7bb6d6,#3885bc,#3681ba,#529dc8,#90c4dd,#c0dceb,#deebf2,#f3f5f6,#f9ebe3,#fdddcb,#facab1,#f7b99c,#f5ac8b,#f5aa89)"></i><i style="background:linear-gradient(90deg,#f09c7b,#e48066,#ee9677,#f9c6ac,#f9efe9,#d7e8f1,#a0cce2,#71b0d3,#59a1ca,#4f9bc7,#4c99c6,#5ca3cb,#81bad8,#bddbea,#ecf2f5,#fbe4d6,#facab1,#f7b596,#f5ac8b,#f5ac8b,#f9c2a7,#fbe6da,#d7e8f1,#78b4d5,#3783bb,#337eb8,#4997c5,#87beda,#b8d8e9,#dae9f2,#f2f5f6,#faeae1,#fddbc7,#f9c2a7,#f6af8e,#f2a17f,#f09c7b)"></i><i style="background:linear-gradient(90deg,#e98b6e,#dd7059,#e8896c,#f8bda1,#f9ebe3,#dae9f2,#a2cde3,#78b4d5,#5fa5cd,#569fc9,#569fc9,#62a7ce,#87beda,#c0dceb,#edf2f5,#fbe4d6,#fac8af,#f7b596,#f6af8e,#f6af8e,#f9c4a9,#fae7dc,#d7e8f1,#75b2d4,#3681ba,#307ab6,#4291c2,#7bb6d6,#aed3e6,#d7e8f1,#eff3f5,#faeae1,#fcd7c2,#f7b99c,#f2a17f,#eb9172,#e98b6e)"></i><i style="background:linear-gradient(90deg,#e27b62,#d6604d,#e27b62,#f7b596,#fae8de,#ddebf2,#a7d0e4,#7eb8d7,#65a9cf,#5fa5cd,#5ca3cb,#65a9cf,#8ac0db,#c2ddec,#eff3f5,#fbe3d4,#fac8af,#f7b799,#f6af8e,#f6b191,#f9c6ac,#fae8de,#d5e7f1,#71b0d3,#337eb8,#2e77b5,#3e8cbf,#71b0d3,#a5cee3,#d1e5f0,#ecf2f5,#faeae1,#fcd3bc,#f6b191,#ec9374,#e37e64,#e27b62)"></i><i style="background:linear-gradient(90deg,#db6b55,#cf5246,#dc6e57,#f5ac8b,#fbe5d8,#e1edf3,#acd2e5,#84bcd9,#6eaed2,#65a9cf,#62a7ce,#6bacd1,#90c4dd,#c5dfec,#f0f4f6,#fce2d2,#fac8af,#f7b799,#f6b191,#f6b394,#fac8af,#fae9df,#d4e6f1,#6eaed2,#327cb7,#2b73b3,#3885bc,#65a9cf,#9bc9e0,#cae1ee,#e9f0f4,#faeae1,#fbceb7,#f5a886,#e58368,#dc6e57,#db6b55)"></i><i style="background:linear-gradient(90deg,#d35a4a,#c6413e,#d6604d,#f3a481,#fce0d0,#e4eef4,#b1d5e7,#8ac0db,#75b2d4,#6bacd1,#68abd0,#71b0d3,#93c6de,#c7e0ed,#f2f5f6,#fce0d0,#fac8af,#f7b799,#f6b394,#f7b799,#facab1,#faeae1,#d2e6f0,#6bacd1,#307ab6,#276eb0,#3480b9,#569fc9,#90c4dd,#c0dceb,#e4eef4,#f9ebe3,#fbccb4,#f19e7d,#df765e,#d55d4c,#d55d4c)"></i><i style="background:linear-gradient(90deg,#cc4c44,#bf3338,#cf5246,#ef9979,#fdddcb,#e9f0f4,#b8d8e9,#90c4dd,#7bb6d6,#71b0d3,#6bacd1,#75b2d4,#96c7df,#cce2ef,#f3f5f6,#fce0d0,#f9c6ac,#f7b799,#f6b394,#f7b99c,#fbceb7,#f9ede5,#cfe4ef,#68abd0,#2e77b5,#246aae,#307ab6,#4997c5,#81bad8,#b3d6e8,#e0ecf3,#f9ede5,#fac8af,#ec9374,#d86551,#cb4942,#cc4c44)"></i><i style="background:linear-gradient(90deg,#c43b3c,#b82531,#c84440,#e98b6e,#fcd7c2,#eff3f5,#bddbea,#96c7df,#81bad8,#78b4d5,#71b0d3,#78b4d5,#98c8e0,#cfe4ef,#f5f6f7,#fcdfcf,#f9c4a9,#f7b799,#f7b596,#f8bb9e,#fbd0b9,#f9efe9,#cce2ef,#65a9cf,#2c75b4,#2267ac,#2b73b3,#3f8ec0,#6eaed2,#a7d0e4,#dbeaf2,#f9eee7,#f9c6ac,#e8896c,#d05548,#c2383a,#c43b3c)"></i><i style="background:linear-gradient(90deg,#bd2d35,#b1182b,#c2383a,#e48066,#fbceb7,#f3f5f6,#c5dfec,#9dcbe1,#87beda,#7bb6d6,#75b2d4,#7eb8d7,#9bc9e0,#d1e5f0,#f7f6f6,#fcdecd,#f9c4a9,#f7b799,#f7b596,#f8bda1,#fcd5bf,#f8f1ed,#c7e0ed,#62a7ce,#2b73b3,#1f63a8,#266caf,#3885bc,#5fa5cd,#9bc9e0,#d5e7f1,#f9f0eb,#f9c2a7,#e37e64,#c84440,#b82531,#bd2d35)"></i><i style="background:linear-gradient(90deg,#b61f2e,#a21328,#bd2d35,#df765e,#fac8af,#f7f6f6,#cce2ef,#a2cde3,#8dc2dc,#81bad8,#7bb6d6,#81bad8,#9dcbe1,#d2e6f0,#f7f5f4,#fdddcb,#f9c2a7,#f7b799,#f7b799,#f8bfa4,#fdd9c4,#f8f3f0,#c2ddec,#5ca3cb,#2a71b2,#1c5c9f,#2267ac,#327cb7,#4c99c6,#8dc2dc,#cfe4ef,#f8f2ef,#f8bfa4,#de735c,#bf3338,#ae172a,#b61f2e)"></i><i style="background:linear-gradient(90deg,#ab162a,#960f27,#b72230,#db6b55,#f8bfa4,#f8f3f0,#d2e6f0,#a9d1e5,#93c6de,#87beda,#7eb8d7,#84bcd9,#a0cce2,#d4e6f1,#f7f5f4,#fddcc9,#f9c2a7,#f7b799,#f7b799,#f9c4a9,#fddcc9,#f7f5f4,#c0dceb,#59a1ca,#276eb0,#1a5899,#1d5fa2,#2b73b3,#408fc1,#7bb6d6,#c5dfec,#f8f4f2,#f8bda1,#db6b55,#b72230,#9c1127,#ab162a)"></i><i style="background:linear-gradient(90deg,#9f1228,#8a0b25,#b1182b,#d7634f,#f7b99c,#f9efe9,#d7e8f1,#aed3e6,#98c8e0,#8ac0db,#81bad8,#87beda,#a5cee3,#d5e7f1,#f8f4f2,#fddbc7,#f8bfa4,#f7b799,#f7b99c,#f9c6ac,#fcdecd,#f6f7f7,#bbdaea,#569fc9,#266caf,#185493,#195696,#246aae,#3885bc,#6bacd1,#b8d8e9,#f7f6f6,#f8bb9e,#d6604d,#ae172a,#8a0b25,#9f1228)"></i><i style="background:linear-gradient(90deg,#930e26,#810823,#a81529,#d35a4a,#f6b394,#f9ebe3,#dbeaf2,#b6d7e8,#9dcbe1,#90c4dd,#84bcd9,#8ac0db,#a7d0e4,#d7e8f1,#f8f3f0,#fddbc7,#f8bfa4,#f7b799,#f8bb9e,#facab1,#fce0d0,#f2f5f6,#b6d7e8,#4f9bc7,#2369ad,#15508d,#15508d,#1f63a8,#327cb7,#59a1ca,#aed3e6,#f5f6f7,#f8bb9e,#d25849,#9f1228,#790622,#960f27)"></i><i style="background:linear-gradient(90deg,#8a0b25,#790622,#a21328,#d05548,#f5ac8b,#fae9df,#e0ecf3,#bbdaea,#a2cde3,#93c6de,#8ac0db,#8dc2dc,#a9d1e5,#d8e9f1,#f8f2ef,#fdd9c4,#f8bfa4,#f7b799,#f8bda1,#fbccb4,#fbe3d4,#eff3f5,#b1d5e7,#4997c5,#2267ac,#134c87,#124984,#1b5a9c,#2b73b3,#4997c5,#a2cde3,#f2f5f6,#f7b99c,#ce4f45,#900d26,#6a011f,#8a0b25)"></i><i style="background:linear-gradient(90deg,#840924,#760521,#9c1127,#ce4f45,#f5a886,#fbe6da,#e3edf3,#c0dceb,#a7d0e4,#98c8e0,#8dc2dc,#93c6de,#acd2e5,#d8e9f1,#f8f2ef,#fdd9c4,#f8bfa4,#f7b99c,#f8bfa4,#fbd0b9,#fbe5d8,#ecf2f5,#acd2e5,#4695c4,#1f63a8,#114781,#0f437b,#175290,#246aae,#3f8ec0,#98c8e0,#eff3f5,#f7b99c,#c94741,#810823,#67001f,#840924)"></i><i style="background:linear-gradient(90deg,#7f0823,#700320,#991027,#cc4c44,#f4a683,#fbe4d6,#e6eff4,#c5dfec,#a9d1e5,#9bc9e0,#90c4dd,#96c7df,#aed3e6,#dae9f2,#f8f1ed,#fdd9c4,#f9c2a7,#f8bb9e,#f9c4a9,#fcd5bf,#fae7dc,#e9f0f4,#a7d0e4,#4291c2,#1e61a5,#0f437b,#0d3f76,#124984,#1f63a8,#3885bc,#8dc2dc,#eaf1f5,#f7b99c,#c53e3d,#760521,#67001f,#7f0823)"></i><i style="background:linear-gradient(90deg,#7c0722,#700320,#991027,#cb4942,#f3a481,#fbe3d4,#e9f0f4,#cae1ee,#aed3e6,#a0cce2,#96c7df,#9bc9e0,#b3d6e8,#dbeaf2,#f8f1ed,#fddbc7,#f9c4a9,#f8bfa4,#fac8af,#fdd9c4,#faeae1,#e6eff4,#a2cde3,#3f8ec0,#1c5c9f,#0d3f76,#09386d,#10457e,#1b5a9c,#337eb8,#81bad8,#e7f0f4,#f7b99c,#c2383a,#6d0220,#67001f,#7c0722)"></i><i style="background:linear-gradient(90deg,#790622,#700320,#991027,#cb4942,#f2a17f,#fce2d2,#ecf2f5,#cfe4ef,#b3d6e8,#a2cde3,#9bc9e0,#9dcbe1,#b6d7e8,#ddebf2,#f8f1ed,#fddbc7,#f9c6ac,#f9c4a9,#fbccb4,#fddcc9,#f9ebe3,#e3edf3,#9dcbe1,#3e8cbf,#1a5899,#0a3b70,#08366a,#0d3f76,#185493,#2e77b5,#75b2d4,#e4eef4,#f7b99c,#c13639,#67001f,#67001f,#790622)"></i><i style="background:linear-gradient(90deg,#790622,#730421,#9c1127,#cb4942,#f2a17f,#fce0d0,#edf2f5,#d1e5f0,#b6d7e8,#a7d0e4,#9dcbe1,#a2cde3,#bbdaea,#deebf2,#f8f1ed,#fddcc9,#facab1,#fac8af,#fbd0b9,#fcdecd,#f9eee7,#e0ecf3,#9bc9e0,#3b88be,#195696,#09386d,#063264,#0a3b70,#15508d,#2a71b2,#6bacd1,#e0ecf3,#f8bb9e,#bf3338,#67001f,#67001f,#790622)"></i><i style="background:linear-gradient(90deg,#7c0722,#760521,#9f1228,#cc4c44,#f2a17f,#fcdfcf,#eff3f5,#d4e6f1,#bbdaea,#a9d1e5,#a2cde3,#a7d0e4,#bddbea,#e0ecf3,#f8f1ed,#fdddcb,#fbccb4,#fbccb4,#fcd5bf,#fce0d0,#f9f0eb,#deebf2,#98c8e0,#3a87bd,#185493,#08366a,#053061,#09386d,#134c87,#276eb0,#65a9cf,#deebf2,#f8bb9e,#be3036,#67001f,#67001f,#7c0722)"></i><i style="background:linear-gradient(90deg,#7c0722,#790622,#a21328,#ce4f45,#f2a17f,#fcdecd,#f0f4f6,#d5e7f1,#bddbea,#aed3e6,#a7d0e4,#acd2e5,#c2ddec,#e1edf3,#f9f0eb,#fcdecd,#fbd0b9,#fbd0b9,#fdd9c4,#fbe3d4,#f8f2ef,#ddebf2,#96c7df,#3885bc,#175290,#073467,#053061,#09386d,#114781,#246aae,#5fa5cd,#dbeaf2,#f8bda1,#bd2d35,#67001f,#67001f,#7c0722)"></i><i style="background:linear-gradient(90deg,#7f0823,#7f0823,#a81529,#cf5246,#f2a17f,#fcdecd,#f2f5f6,#d8e9f1,#c2ddec,#b3d6e8,#acd2e5,#b1d5e7,#c7e0ed,#e3edf3,#f9f0eb,#fcdfcf,#fcd5bf,#fcd5bf,#fdddcb,#fbe5d8,#f8f3f0,#dbeaf2,#93c6de,#3885bc,#175290,#073467,#053061,#09386d,#114781,#2369ad,#5ca3cb,#dae9f2,#f8bda1,#bd2d35,#67001f,#67001f,#810823)"></i><i style="background:linear-gradient(90deg,#840924,#810823,#ab162a,#d05548,#f3a481,#fcdecd,#f5f6f7,#dbeaf2,#c7e0ed,#b8d8e9,#b1d5e7,#b6d7e8,#cce2ef,#e4eef4,#f9f0eb,#fce0d0,#fdd9c4,#fdd9c4,#fcdfcf,#fae7dc,#f7f5f4,#dae9f2,#93c6de,#3885bc,#175290,#08366a,#063264,#09386d,#114781,#2369ad,#59a1ca,#dae9f2,#f8bda1,#be3036,#67001f,#67001f,#840924)"></i><i style="background:linear-gradient(90deg,#8a0b25,#870a24,#b1182b,#d25849,#f3a481,#fdddcb,#f6f7f7,#ddebf2,#cce2ef,#bddbea,#b8d8e9,#bbdaea,#cfe4ef,#e6eff4,#f9f0eb,#fce2d2,#fddbc7,#fddcc9,#fce2d2,#fae9df,#f7f6f6,#d8e9f1,#93c6de,#3885bc,#185493,#09386d,#073467,#0c3d73,#134c87,#246aae,#5ca3cb,#dae9f2,#f8bfa4,#be3036,#67001f,#67001f,#8a0b25)"></i><i style="background:linear-gradient(90deg,#8d0c25,#8d0c25,#b41c2d,#d35a4a,#f3a481,#fdddcb,#f7f6f6,#e0ecf3,#d1e5f0,#c5dfec,#bddbea,#c2ddec,#d2e6f0,#e9f0f4,#f9f0eb,#fce2d2,#fddcc9,#fcdecd,#fbe4d6,#faeae1,#f6f7f7,#d8e9f1,#93c6de,#3b88be,#1a5899,#0c3d73,#09386d,#0d3f76,#144e8a,#276eb0,#62a7ce,#dbeaf2,#f8bfa4,#bf3338,#67001f,#67001f,#8d0c25)"></i><i style="background:linear-gradient(90deg,#930e26,#930e26,#b61f2e,#d55d4c,#f4a683,#fddcc9,#f7f5f4,#e3edf3,#d5e7f1,#cce2ef,#c5dfec,#c7e0ed,#d5e7f1,#eaf1f5,#f9f0eb,#fbe3d4,#fcdecd,#fcdfcf,#fbe5d8,#f9ede5,#f5f6f7,#d8e9f1,#96c7df,#3e8cbf,#1c5c9f,#0f437b,#0c3d73,#10457e,#185493,#2b73b3,#68abd0,#deebf2,#f8bfa4,#c2383a,#67001f,#67001f,#930e26)"></i><i style="background:linear-gradient(90deg,#991027,#991027,#b82531,#d6604d,#f4a683,#fddcc9,#f8f4f2,#e6eff4,#d8e9f1,#d1e5f0,#cce2ef,#cfe4ef,#d8e9f1,#ecf2f5,#f9f0eb,#fbe4d6,#fcdfcf,#fce2d2,#fbe6da,#f9eee7,#f5f6f7,#d8e9f1,#98c8e0,#408fc1,#1f63a8,#124984,#0f437b,#134c87,#1c5c9f,#307ab6,#75b2d4,#e1edf3,#f8bfa4,#c53e3d,#700320,#67001f,#991027)"></i><i style="background:linear-gradient(90deg,#9f1228,#9f1228,#ba2832,#d7634f,#f4a683,#fddbc7,#f8f2ef,#e9f0f4,#ddebf2,#d5e7f1,#d2e6f0,#d4e6f1,#dbeaf2,#edf2f5,#f9efe9,#fbe4d6,#fce0d0,#fbe3d4,#fae8de,#f9efe9,#f3f5f6,#dae9f2,#9dcbe1,#4695c4,#246aae,#175290,#134c87,#185493,#2065ab,#3681ba,#81bad8,#e4eef4,#f8bda1,#c84440,#7c0722,#67001f,#a21328)"></i><i style="background:linear-gradient(90deg,#a81529,#a51429,#bd2d35,#d86551,#f4a683,#fdd9c4,#f8f1ed,#ecf2f5,#e0ecf3,#dae9f2,#d7e8f1,#d7e8f1,#e0ecf3,#f0f4f6,#f9efe9,#fbe4d6,#fce0d0,#fbe4d6,#fae9df,#f9efe9,#f3f5f6,#dae9f2,#a2cde3,#4f9bc7,#2a71b2,#1b5a9c,#185493,#1c5c9f,#266caf,#3c8abe,#8dc2dc,#e9f0f4,#f8bda1,#cb4942,#870a24,#6d0220,#a81529)"></i><i style="background:linear-gradient(90deg,#ae172a,#ab162a,#be3036,#da6853,#f4a683,#fdd9c4,#f9efe9,#eff3f5,#e4eef4,#deebf2,#dbeaf2,#dbeaf2,#e3edf3,#f2f5f6,#f9eee7,#fbe5d8,#fce2d2,#fbe5d8,#fae9df,#f9f0eb,#f3f5f6,#dbeaf2,#a7d0e4,#5ca3cb,#307ab6,#2065ab,#1d5fa2,#2065ab,#2c75b4,#4695c4,#9bc9e0,#edf2f5,#f8bda1,#ce4f45,#930e26,#790622,#ae172a)"></i><i style="background:linear-gradient(90deg,#b3192c,#b1182b,#c13639,#db6b55,#f4a683,#fcd7c2,#f9eee7,#f2f5f6,#e7f0f4,#e3edf3,#deebf2,#deebf2,#e6eff4,#f3f5f6,#f9eee7,#fbe5d8,#fbe3d4,#fbe5d8,#faeae1,#f9f0eb,#f3f5f6,#ddebf2,#aed3e6,#68abd0,#3783bb,#276eb0,#2369ad,#276eb0,#3480b9,#569fc9,#a7d0e4,#f2f5f6,#f8bda1,#d25849,#a21328,#840924,#b3192c)"></i><i style="background:linear-gradient(90deg,#b61f2e,#b41c2d,#c2383a,#dc6e57,#f4a683,#fcd5bf,#f9ebe3,#f5f6f7,#ecf2f5,#e7f0f4,#e3edf3,#e3edf3,#e9f0f4,#f5f6f7,#f9eee7,#fbe5d8,#fbe4d6,#fbe6da,#f9ebe3,#f8f1ed,#f3f5f6,#e0ecf3,#b6d7e8,#75b2d4,#3e8cbf,#2e77b5,#2a71b2,#2e77b5,#3b88be,#68abd0,#b3d6e8,#f6f7f7,#f8bda1,#d6604d,#ae172a,#930e26,#b61f2e)"></i><i style="background:linear-gradient(90deg,#b82531,#b72230,#c53e3d,#dd7059,#f5a886,#fcd5bf,#faeae1,#f7f6f6,#eff3f5,#eaf1f5,#e7f0f4,#e7f0f4,#ecf2f5,#f7f6f6,#f9ede5,#fbe6da,#fbe4d6,#fae7dc,#f9ebe3,#f8f1ed,#f5f6f7,#e1edf3,#bbdaea,#81bad8,#4997c5,#3681ba,#307ab6,#3681ba,#4393c3,#78b4d5,#bddbea,#f7f5f4,#f8bda1,#d86551,#b61f2e,#9f1228,#b82531)"></i><i style="background:linear-gradient(90deg,#bb2a34,#ba2832,#c84440,#de735c,#f5a886,#fcd3bc,#fae9df,#f8f4f2,#f3f5f6,#eff3f5,#eaf1f5,#eaf1f5,#eff3f5,#f7f5f4,#f9ede5,#fbe6da,#fbe5d8,#fae8de,#f9ede5,#f8f1ed,#f5f6f7,#e3edf3,#c2ddec,#90c4dd,#59a1ca,#3e8cbf,#3885bc,#3c8abe,#529dc8,#87beda,#c7e0ed,#f8f3f0,#f8bda1,#dc6e57,#bb2a34,#ab162a,#bb2a34)"></i><i style="background:linear-gradient(90deg,#be3036,#bd2d35,#cb4942,#df765e,#f5a886,#fbd0b9,#fae7dc,#f8f2ef,#f6f7f7,#f2f5f6,#eff3f5,#edf2f5,#f2f5f6,#f8f4f2,#f9ede5,#fae7dc,#fbe6da,#fae8de,#f9ede5,#f8f1ed,#f6f7f7,#e6eff4,#cae1ee,#9bc9e0,#68abd0,#4997c5,#408fc1,#4695c4,#65a9cf,#96c7df,#d1e5f0,#f8f1ed,#f8bfa4,#de735c,#c13639,#b3192c,#be3036)"></i><i style="background:linear-gradient(90deg,#c13639,#c13639,#ce4f45,#e17860,#f5aa89,#fbd0b9,#fbe6da,#f9f0eb,#f7f5f4,#f5f6f7,#f2f5f6,#f2f5f6,#f5f6f7,#f8f3f0,#f9ebe3,#fae7dc,#fbe6da,#fae9df,#f9ede5,#f8f1ed,#f7f6f6,#e9f0f4,#d1e5f0,#a7d0e4,#7bb6d6,#5ca3cb,#529dc8,#59a1ca,#75b2d4,#a2cde3,#d5e7f1,#f9f0eb,#f9c2a7,#e27b62,#c53e3d,#b82531,#c13639)"></i><i style="background:linear-gradient(90deg,#c2383a,#c43b3c,#d05548,#e37e64,#f5aa89,#fbceb7,#fbe4d6,#f9eee7,#f8f3f0,#f7f6f6,#f5f6f7,#f5f6f7,#f7f6f6,#f8f2ef,#f9ebe3,#fae7dc,#fae7dc,#fae9df,#f9ede5,#f9f0eb,#f7f5f4,#ecf2f5,#d5e7f1,#b1d5e7,#8dc2dc,#6eaed2,#65a9cf,#6bacd1,#84bcd9,#acd2e5,#dae9f2,#f9efe9,#f9c4a9,#e48066,#c94741,#bd2d35,#c2383a)"></i><i style="background:linear-gradient(90deg,#c53e3d,#c6413e,#d35a4a,#e48066,#f5ac8b,#fbceb7,#fbe3d4,#f9ebe3,#f8f1ed,#f8f4f2,#f7f5f4,#f7f6f6,#f8f4f2,#f9f0eb,#f9ebe3,#fae8de,#fae8de,#faeae1,#f9ede5,#f9f0eb,#f8f4f2,#eff3f5,#dae9f2,#bbdaea,#9bc9e0,#84bcd9,#7bb6d6,#81bad8,#96c7df,#b6d7e8,#ddebf2,#f9eee7,#f9c6ac,#e8896c,#ce4f45,#bf3338,#c53e3d)"></i><i style="background:linear-gradient(90deg,#c84440,#cb4942,#d6604d,#e6866a,#f5ac8b,#fbccb4,#fce2d2,#faeae1,#f9efe9,#f8f2ef,#f8f3f0,#f8f4f2,#f8f2ef,#f9efe9,#faeae1,#fae8de,#fae8de,#faeae1,#f9ede5,#f9efe9,#f8f3f0,#f2f5f6,#e0ecf3,#c7e0ed,#a9d1e5,#96c7df,#8dc2dc,#93c6de,#a2cde3,#c0dceb,#e0ecf3,#f9eee7,#fac8af,#ea8e70,#d25849,#c43b3c,#c84440)"></i><i style="background:linear-gradient(90deg,#c94741,#ce4f45,#da6853,#e8896c,#f5ac8b,#facab1,#fcdfcf,#fae8de,#f9ede5,#f9f0eb,#f8f1ed,#f8f1ed,#f9f0eb,#f9eee7,#faeae1,#fae8de,#fae8de,#faeae1,#f9ede5,#f9eee7,#f8f2ef,#f5f6f7,#e4eef4,#d1e5f0,#b6d7e8,#a5cee3,#a0cce2,#a2cde3,#aed3e6,#cae1ee,#e4eef4,#f9ede5,#facab1,#ec9374,#d6604d,#c84440,#c94741)"></i><i style="background:linear-gradient(90deg,#cc4c44,#d05548,#dc6e57,#e98b6e,#f6af8e,#facab1,#fcdecd,#fbe6da,#f9ebe3,#f9eee7,#f9efe9,#f9efe9,#f9eee7,#f9ebe3,#fae9df,#fae8de,#fae8de,#fae9df,#f9ebe3,#f9ede5,#f9f0eb,#f7f6f6,#e9f0f4,#d8e9f1,#c5dfec,#b6d7e8,#aed3e6,#b1d5e7,#bddbea,#d2e6f0,#e7f0f4,#f9ede5,#facab1,#ef9979,#d86551,#cb4942,#cc4c44)"></i><i style="background:linear-gradient(90deg,#cf5246,#d55d4c,#de735c,#eb9172,#f6af8e,#fac8af,#fddcc9,#fbe4d6,#fae9df,#f9ebe3,#f9ede5,#f9ede5,#f9ebe3,#fae9df,#fae8de,#fae7dc,#fae8de,#fae9df,#faeae1,#f9ebe3,#f9eee7,#f8f3f0,#eff3f5,#deebf2,#d1e5f0,#c5dfec,#c0dceb,#c2ddec,#cae1ee,#d8e9f1,#eaf1f5,#f9ebe3,#fbccb4,#f09c7b,#dc6e57,#cf5246,#cf5246)"></i><i style="background:linear-gradient(90deg,#d25849,#d7634f,#e17860,#ec9374,#f6b191,#fac8af,#fddbc7,#fbe3d4,#fae7dc,#fae9df,#faeae1,#fae9df,#fae9df,#fae8de,#fae7dc,#fbe6da,#fae7dc,#fae8de,#fae9df,#fae9df,#f9ebe3,#f9f0eb,#f5f6f7,#e6eff4,#dae9f2,#d2e6f0,#cfe4ef,#d1e5f0,#d5e7f1,#deebf2,#eff3f5,#faeae1,#fbccb4,#f2a17f,#de735c,#d25849,#d25849)"></i><i style="background:linear-gradient(90deg,#d55d4c,#da6853,#e37e64,#ee9677,#f6b191,#f9c6ac,#fdd9c4,#fce0d0,#fbe5d8,#fbe6da,#fae7dc,#fae7dc,#fbe6da,#fbe6da,#fbe5d8,#fbe5d8,#fbe5d8,#fbe6da,#fae7dc,#fae7dc,#fae9df,#f9ede5,#f7f5f4,#edf2f5,#e3edf3,#dbeaf2,#dae9f2,#dae9f2,#ddebf2,#e4eef4,#f3f5f6,#fae8de,#fbccb4,#f3a481,#e27b62,#d6604d,#d55d4c)"></i><i style="background:linear-gradient(90deg,#d86551,#dc6e57,#e48066,#ef9979,#f6b191,#f9c4a9,#fcd5bf,#fcdecd,#fce2d2,#fbe4d6,#fbe5d8,#fbe4d6,#fbe4d6,#fbe3d4,#fbe3d4,#fbe3d4,#fbe4d6,#fbe5d8,#fbe5d8,#fbe5d8,#fbe6da,#fae9df,#f8f1ed,#f5f6f7,#eaf1f5,#e4eef4,#e3edf3,#e3edf3,#e6eff4,#ecf2f5,#f7f6f6,#fae7dc,#fbccb4,#f5a886,#e48066,#da6853,#d86551)"></i><i style="background:linear-gradient(90deg,#db6b55,#de735c,#e6866a,#f09c7b,#f6b191,#f9c4a9,#fcd3bc,#fddcc9,#fcdfcf,#fce2d2,#fce2d2,#fce2d2,#fce0d0,#fce0d0,#fce0d0,#fce0d0,#fce2d2,#fbe3d4,#fbe3d4,#fbe3d4,#fbe3d4,#fbe6da,#f9ede5,#f8f4f2,#f3f5f6,#edf2f5,#ecf2f5,#ecf2f5,#edf2f5,#f2f5f6,#f8f2ef,#fbe5d8,#fbccb4,#f5aa89,#e6866a,#dc6e57,#db6b55)"></i><i style="background:linear-gradient(90deg,#dd7059,#e27b62,#e8896c,#f19e7d,#f6b191,#f9c2a7,#fbd0b9,#fdd9c4,#fdddcb,#fcdecd,#fcdecd,#fcdecd,#fcdecd,#fcdecd,#fcdecd,#fcdecd,#fcdfcf,#fcdfcf,#fcdfcf,#fcdfcf,#fcdfcf,#fbe3d4,#fae8de,#f9efe9,#f8f4f2,#f6f7f7,#f5f6f7,#f5f6f7,#f5f6f7,#f7f5f4,#f9efe9,#fbe3d4,#facab1,#f5ac8b,#e98b6e,#df765e,#dd7059)"></i><i style="background:linear-gradient(90deg,#e17860,#e48066,#ea8e70,#f19e7d,#f6b191,#f8bfa4,#fbccb4,#fcd5bf,#fdd9c4,#fddcc9,#fddcc9,#fddcc9,#fddbc7,#fddbc7,#fddbc7,#fddcc9,#fddcc9,#fdddcb,#fdddcb,#fddcc9,#fdddcb,#fcdfcf,#fbe4d6,#fae9df,#f9efe9,#f8f1ed,#f8f2ef,#f8f3f0,#f8f2ef,#f9f0eb,#faeae1,#fcdfcf,#facab1,#f6af8e,#eb9172,#e37e64,#e17860)"></i><i style="background:linear-gradient(90deg,#e37e64,#e58368,#eb9172,#f2a17f,#f6b191,#f8bda1,#facab1,#fbd0b9,#fcd5bf,#fcd7c2,#fcd7c2,#fcd7c2,#fcd7c2,#fcd7c2,#fcd7c2,#fcd7c2,#fdd9c4,#fdd9c4,#fdd9c4,#fdd9c4,#fdd9c4,#fddbc7,#fcdfcf,#fbe5d8,#fae9df,#f9ebe3,#f9ede5,#f9ede5,#f9ede5,#f9ebe3,#fbe6da,#fdddcb,#fac8af,#f6af8e,#ee9677,#e58368,#e37e64)"></i><i style="background:linear-gradient(90deg,#e6866a,#e8896c,#ec9374,#f3a481,#f6b191,#f8bda1,#f9c6ac,#fbccb4,#fbd0b9,#fbd0b9,#fcd3bc,#fbd0b9,#fbd0b9,#fbd0b9,#fbd0b9,#fcd3bc,#fcd3bc,#fcd3bc,#fcd3bc,#fcd3bc,#fcd3bc,#fcd5bf,#fddbc7,#fcdfcf,#fbe4d6,#fbe6da,#fae7dc,#fae7dc,#fae7dc,#fbe6da,#fce2d2,#fdd9c4,#f9c6ac,#f6b191,#f09c7b,#e98b6e,#e6866a)"></i><i style="background:linear-gradient(90deg,#e98b6e,#ea8e70,#ee9677,#f3a481,#f6af8e,#f8bb9e,#f9c4a9,#fac8af,#fbccb4,#fbccb4,#fbccb4,#fbccb4,#fbccb4,#fbccb4,#fbccb4,#fbccb4,#fbccb4,#fbccb4,#fbccb4,#fbccb4,#fbccb4,#fbceb7,#fcd5bf,#fddbc7,#fcdecd,#fce0d0,#fce2d2,#fce2d2,#fce2d2,#fce0d0,#fdddcb,#fcd3bc,#f9c2a7,#f6b191,#f2a17f,#eb9172,#e98b6e)"></i><i style="background:linear-gradient(90deg,#eb9172,#eb9172,#ef9979,#f3a481,#f6af8e,#f7b99c,#f9c2a7,#f9c6ac,#f9c6ac,#f9c6ac,#f9c6ac,#f9c6ac,#f9c6ac,#f9c6ac,#f9c6ac,#f9c6ac,#fac8af,#fac8af,#f9c6ac,#f9c6ac,#f9c6ac,#fac8af,#fbccb4,#fcd3bc,#fdd9c4,#fddbc7,#fddcc9,#fddcc9,#fddcc9,#fddcc9,#fcd7c2,#fbccb4,#f8bfa4,#f6b191,#f3a481,#ee9677,#eb9172)"></i><i style="background:linear-gradient(90deg,#ee9677,#ee9677,#f09c7b,#f4a683,#f6af8e,#f7b799,#f8bda1,#f9c2a7,#f9c2a7,#f9c2a7,#f9c2a7,#f9c2a7,#f9c2a7,#f9c2a7,#f9c2a7,#f9c2a7,#f9c2a7,#f9c2a7,#f9c2a7,#f8bfa4,#f8bfa4,#f9c2a7,#f9c6ac,#facab1,#fbd0b9,#fcd3bc,#fcd5bf,#fcd5bf,#fcd5bf,#fcd3bc,#fbd0b9,#fac8af,#f8bda1,#f6b191,#f4a683,#f09c7b,#ee9677)"></i><i style="background:linear-gradient(90deg,#f09c7b,#ef9979,#f19e7d,#f4a683,#f5ac8b,#f7b596,#f8bb9e,#f8bda1,#f8bda1,#f8bda1,#f8bda1,#f8bda1,#f8bda1,#f8bda1,#f8bb9e,#f8bb9e,#f8bb9e,#f8bb9e,#f8bb9e,#f8bb9e,#f7b99c,#f8bb9e,#f8bfa4,#f9c4a9,#fac8af,#facab1,#facab1,#fbccb4,#fbccb4,#facab1,#fac8af,#f9c2a7,#f7b99c,#f6b191,#f5a886,#f2a17f,#f09c7b)"></i><i style="background:linear-gradient(90deg,#f2a17f,#f09c7b,#f19e7d,#f4a683,#f5ac8b,#f6b394,#f7b799,#f7b99c,#f7b99c,#f7b99c,#f7b799,#f7b99c,#f7b99c,#f7b99c,#f7b799,#f7b799,#f7b799,#f7b799,#f7b799,#f7b596,#f7b596,#f7b596,#f7b99c,#f8bda1,#f8bfa4,#f9c2a7,#f9c4a9,#f9c4a9,#f9c4a9,#f9c4a9,#f9c2a7,#f8bda1,#f7b799,#f6b191,#f5aa89,#f3a481,#f2a17f)"></i><i style="background:linear-gradient(90deg,#f3a481,#f19e7d,#f2a17f,#f4a683,#f5ac8b,#f6b191,#f7b596,#f7b596,#f7b596,#f7b596,#f6b394,#f7b596,#f7b596,#f7b596,#f6b394,#f6b394,#f6b394,#f6b394,#f6b191,#f6b191,#f6b191,#f6b191,#f6b394,#f7b799,#f7b99c,#f8bb9e,#f8bb9e,#f8bda1,#f8bda1,#f8bb9e,#f7b99c,#f7b799,#f6b394,#f6af8e,#f5aa89,#f4a683,#f3a481)"></i><i style="background:linear-gradient(90deg,#f4a683,#f2a17f,#f2a17f,#f4a683,#f5aa89,#f6af8e,#f6b394,#f6b394,#f6b191,#f6b191,#f6b191,#f6b191,#f6b191,#f6b191,#f6af8e,#f6af8e,#f6af8e,#f6af8e,#f5ac8b,#f5ac8b,#f5ac8b,#f5ac8b,#f6af8e,#f6b191,#f6b394,#f7b596,#f7b596,#f7b799,#f7b799,#f7b596,#f7b596,#f6b394,#f6b191,#f6af8e,#f5ac8b,#f5a886,#f4a683)"></i><i style="background:linear-gradient(90deg,#f5a886,#f3a481,#f3a481,#f4a683,#f5aa89,#f5ac8b,#f6af8e,#f6af8e,#f6af8e,#f5ac8b,#f5ac8b,#f5ac8b,#f5ac8b,#f5ac8b,#f5ac8b,#f5aa89,#f5aa89,#f5aa89,#f5aa89,#f5aa89,#f5a886,#f5aa89,#f5aa89,#f5ac8b,#f6af8e,#f6af8e,#f6b191,#f6b191,#f6b191,#f6b191,#f6af8e,#f6af8e,#f6af8e,#f5ac8b,#f5aa89,#f5aa89,#f5a886)"></i><i style="background:linear-gradient(90deg,#f5a886,#f3a481,#f3a481,#f4a683,#f5a886,#f5aa89,#f5ac8b,#f5ac8b,#f5aa89,#f5aa89,#f5aa89,#f5aa89,#f5aa89,#f5aa89,#f5a886,#f5a886,#f5a886,#f5a886,#f5a886,#f4a683,#f4a683,#f4a683,#f5a886,#f5a886,#f5aa89,#f5aa89,#f5ac8b,#f5ac8b,#f5ac8b,#f5aa89,#f5aa89,#f5aa89,#f5aa89,#f5aa89,#f5aa89,#f5aa89,#f5a886)"></i><i style="background:linear-gradient(90deg,#f5a886,#f3a481,#f3a481,#f4a683,#f4a683,#f5a886,#f5a886,#f5a886,#f5a886,#f5a886,#f4a683,#f5a886,#f5a886,#f5a886,#f4a683,#f4a683,#f4a683,#f4a683,#f4a683,#f4a683,#f4a683,#f4a683,#f4a683,#f4a683,#f5a886,#f5a886,#f5a886,#f5a886,#f5a886,#f5a886,#f5a886,#f5a886,#f5a886,#f5a886,#f5a886,#f5a886,#f5a886)"></i><i style="background:linear-gradient(90deg,#f4a683,#f3a481,#f3a481,#f3a481,#f4a683,#f4a683,#f4a683,#f4a683,#f4a683,#f4a683,#f4a683,#f4a683,#f4a683,#f4a683,#f4a683,#f3a481,#f3a481,#f3a481,#f3a481,#f3a481,#f3a481,#f3a481,#f3a481,#f3a481,#f4a683,#f4a683,#f4a683,#f4a683,#f4a683,#f4a683,#f4a683,#f4a683,#f4a683,#f4a683,#f4a683,#f4a683,#f4a683)"></i></div><svg class="ov" style="left:270px;top:-1px" width="239" height="120" viewBox="-6.950 -2.500 239 120"><polyline points="0.00,55.35 1.87,54.38 3.74,53.41 5.61,52.44 7.49,51.48 9.36,50.54 11.23,49.60 13.10,48.68 14.97,47.78 16.84,46.91 18.72,46.05 20.59,45.22 22.46,44.42 24.33,43.64 26.20,42.90 28.07,42.20 29.95,41.53 31.82,40.90 33.69,40.30 35.56,39.75 37.43,39.24 39.30,38.78 41.18,38.36 43.05,37.99 44.92,37.66 46.79,37.38 48.66,37.16 50.53,36.98 52.41,36.85 54.28,36.78 56.15,36.75 58.02,36.78 59.89,36.85 61.76,36.98 63.64,37.16 65.51,37.38 67.38,37.66 69.25,37.99 71.12,38.36 72.99,38.78 74.87,39.24 76.74,39.75 78.61,40.30 80.48,40.90 82.35,41.53 84.22,42.20 86.10,42.90 87.97,43.64 89.84,44.42 91.71,45.22 93.58,46.05 95.45,46.91 97.33,47.78 99.20,48.68 101.07,49.60 102.94,50.54 104.81,51.48 106.68,52.44 108.56,53.41 110.43,54.38 112.30,55.35 114.17,56.32 116.04,57.29 117.91,58.26 119.79,59.22 121.66,60.16 123.53,61.10 125.40,62.02 127.27,62.92 129.14,63.79 131.02,64.65 132.89,65.48 134.76,66.28 136.63,67.06 138.50,67.80 140.38,68.50 142.25,69.17 144.12,69.80 145.99,70.40 147.86,70.95 149.73,71.46 151.60,71.92 153.48,72.34 155.35,72.71 157.22,73.04 159.09,73.32 160.96,73.54 162.83,73.72 164.71,73.85 166.58,73.92 168.45,73.95 170.32,73.92 172.19,73.85 174.06,73.72 175.94,73.54 177.81,73.32 179.68,73.04 181.55,72.71 183.42,72.34 185.29,71.92 187.17,71.46 189.04,70.95 190.91,70.40 192.78,69.80 194.65,69.17 196.52,68.50 198.40,67.80 200.27,67.06 202.14,66.28 204.01,65.48 205.88,64.65 207.75,63.79 209.63,62.92 211.50,62.02 213.37,61.10 215.24,60.16 217.11,59.22 218.98,58.26 220.86,57.29 222.73,56.32 224.60,55.35" fill="none" stroke="#1a1a1a" stroke-width="1.25" stroke-dasharray="1.2 1.4"/><line x1="0" y1="55.35" x2="224.60" y2="55.35" stroke="#1a1a1a" stroke-width="1.35" stroke-dasharray="3.3 2.03"/><rect x="0" y="0" width="224.60" height="111.60" fill="none" stroke="#222" stroke-width="0.85"/><line x1="0.00" y1="111.60" x2="0.00" y2="114.40" stroke="#222" stroke-width="0.9"/><line x1="31.19" y1="111.60" x2="31.19" y2="114.40" stroke="#222" stroke-width="0.9"/><line x1="62.39" y1="111.60" x2="62.39" y2="114.40" stroke="#222" stroke-width="0.9"/><line x1="93.58" y1="111.60" x2="93.58" y2="114.40" stroke="#222" stroke-width="0.9"/><line x1="124.78" y1="111.60" x2="124.78" y2="114.40" stroke="#222" stroke-width="0.9"/><line x1="155.97" y1="111.60" x2="155.97" y2="114.40" stroke="#222" stroke-width="0.9"/><line x1="187.17" y1="111.60" x2="187.17" y2="114.40" stroke="#222" stroke-width="0.9"/><line x1="218.36" y1="111.60" x2="218.36" y2="114.40" stroke="#222" stroke-width="0.9"/><line x1="0" y1="9.30" x2="-2.8" y2="9.30" stroke="#222" stroke-width="0.9"/><line x1="0" y1="24.80" x2="-2.8" y2="24.80" stroke="#222" stroke-width="0.9"/><line x1="0" y1="40.30" x2="-2.8" y2="40.30" stroke="#222" stroke-width="0.9"/><line x1="0" y1="55.80" x2="-2.8" y2="55.80" stroke="#222" stroke-width="0.9"/><line x1="0" y1="71.30" x2="-2.8" y2="71.30" stroke="#222" stroke-width="0.9"/><line x1="0" y1="86.80" x2="-2.8" y2="86.80" stroke="#222" stroke-width="0.9"/><line x1="0" y1="102.30" x2="-2.8" y2="102.30" stroke="#222" stroke-width="0.9"/></svg><span class="xl" style="left:256.95px;top:115.80px">0</span><span class="xl" style="left:288.14px;top:115.80px">50</span><span class="xl" style="left:319.34px;top:115.80px">100</span><span class="xl" style="left:350.53px;top:115.80px">150</span><span class="xl" style="left:381.73px;top:115.80px">200</span><span class="xl" style="left:412.92px;top:115.80px">250</span><span class="xl" style="left:444.12px;top:115.80px">300</span><span class="xl" style="left:475.31px;top:115.80px">350</span><span class="yl" style="left:232.55px;top:6.60px">75</span><span class="yl" style="left:232.55px;top:22.10px">50</span><span class="yl" style="left:232.55px;top:37.60px">25</span><span class="yl" style="left:232.55px;top:53.10px">0</span><span class="yl" style="left:232.55px;top:68.60px"><b class="m"></b>25</span><span class="yl" style="left:232.55px;top:84.10px"><b class="m"></b>50</span><span class="yl" style="left:232.55px;top:99.60px"><b class="m"></b>75</span><div class="tx" style="left:278.95px;top:2.90px">Ro = Ro<sub>Sun</sub><br>Stellar maximum</div><div class="hm" style="left:534px;top:2px;width:225px;height:111px"><i style="background:linear-gradient(90deg,#053061,#053061,#053061,#053061,#053061,#053061,#053061,#053061,#053061,#053061,#053061,#053061,#053061,#053061,#053061,#053061,#053061,#053061,#053061)"></i><i style="background:linear-gradient(90deg,#063264,#063264,#063264,#063264,#053061,#053061,#053061,#053061,#063264,#063264,#063264,#063264,#063264,#063264,#063264,#063264,#063264,#063264,#063264)"></i><i style="background:linear-gradient(90deg,#073467,#073467,#073467,#073467,#063264,#063264,#063264,#063264,#073467,#073467,#073467,#073467,#073467,#073467,#073467,#073467,#073467,#073467,#073467)"></i><i style="background:linear-gradient(90deg,#08366a,#08366a,#08366a,#08366a,#073467,#073467,#073467,#073467,#08366a,#08366a,#08366a,#08366a,#08366a,#08366a,#08366a,#08366a,#08366a,#08366a,#08366a)"></i><i style="background:linear-gradient(90deg,#09386d,#0a3b70,#0a3b70,#09386d,#09386d,#08366a,#08366a,#09386d,#09386d,#0a3b70,#09386d,#09386d,#09386d,#09386d,#09386d,#0a3b70,#0a3b70,#09386d,#09386d)"></i><i style="background:linear-gradient(90deg,#0c3d73,#0c3d73,#0c3d73,#0c3d73,#0a3b70,#0a3b70,#0a3b70,#0a3b70,#0c3d73,#0c3d73,#0c3d73,#0c3d73,#0c3d73,#0c3d73,#0c3d73,#0c3d73,#0c3d73,#0c3d73,#0c3d73)"></i><i style="background:linear-gradient(90deg,#0e4179,#0e4179,#0e4179,#0e4179,#0d3f76,#0d3f76,#0d3f76,#0d3f76,#0e4179,#0e4179,#0e4179,#0e4179,#0e4179,#0e4179,#0e4179,#0e4179,#0e4179,#0e4179,#0e4179)"></i><i style="background:linear-gradient(90deg,#10457e,#10457e,#10457e,#10457e,#0f437b,#0f437b,#0f437b,#0f437b,#10457e,#10457e,#10457e,#10457e,#10457e,#10457e,#10457e,#10457e,#10457e,#10457e,#10457e)"></i><i style="background:linear-gradient(90deg,#124984,#124984,#124984,#124984,#124984,#124984,#124984,#124984,#124984,#124984,#124984,#124984,#124984,#124984,#124984,#124984,#124984,#124984,#124984)"></i><i style="background:linear-gradient(90deg,#144e8a,#144e8a,#144e8a,#144e8a,#144e8a,#144e8a,#144e8a,#144e8a,#144e8a,#144e8a,#144e8a,#144e8a,#144e8a,#144e8a,#144e8a,#144e8a,#144e8a,#144e8a,#144e8a)"></i><i style="background:linear-gradient(90deg,#175290,#175290,#175290,#175290,#185493,#185493,#185493,#185493,#175290,#175290,#175290,#175290,#175290,#175290,#175290,#175290,#175290,#175290,#175290)"></i><i style="background:linear-gradient(90deg,#195696,#195696,#195696,#1a5899,#1a5899,#1b5a9c,#1b5a9c,#1a5899,#1a5899,#195696,#195696,#195696,#195696,#1a5899,#195696,#195696,#195696,#195696,#195696)"></i><i style="background:linear-gradient(90deg,#1c5c9f,#1c5c9f,#1c5c9f,#1c5c9f,#1d5fa2,#1e61a5,#1e61a5,#1d5fa2,#1c5c9f,#1c5c9f,#1c5c9f,#1c5c9f,#1c5c9f,#1c5c9f,#1c5c9f,#1c5c9f,#1c5c9f,#1c5c9f,#1c5c9f)"></i><i style="background:linear-gradient(90deg,#1e61a5,#1e61a5,#1e61a5,#1f63a8,#2065ab,#2267ac,#2267ac,#2065ab,#1f63a8,#1e61a5,#1e61a5,#1e61a5,#1e61a5,#1e61a5,#1e61a5,#1e61a5,#1e61a5,#1e61a5,#1e61a5)"></i><i style="background:linear-gradient(90deg,#2267ac,#2065ab,#2267ac,#2369ad,#246aae,#266caf,#266caf,#246aae,#2369ad,#2267ac,#2267ac,#2267ac,#2267ac,#2267ac,#2267ac,#2267ac,#2267ac,#2267ac,#2267ac)"></i><i style="background:linear-gradient(90deg,#266caf,#246aae,#266caf,#276eb0,#2870b1,#2a71b2,#2a71b2,#2870b1,#266caf,#246aae,#246aae,#266caf,#266caf,#266caf,#266caf,#246aae,#246aae,#266caf,#266caf)"></i><i style="background:linear-gradient(90deg,#2870b1,#2870b1,#2870b1,#2b73b3,#2e77b5,#2f79b5,#2e77b5,#2c75b4,#2a71b2,#2870b1,#2870b1,#2870b1,#2870b1,#2870b1,#2870b1,#2870b1,#2870b1,#2870b1,#2870b1)"></i><i style="background:linear-gradient(90deg,#2c75b4,#2b73b3,#2c75b4,#2f79b5,#327cb7,#337eb8,#337eb8,#307ab6,#2e77b5,#2c75b4,#2c75b4,#2c75b4,#2c75b4,#2c75b4,#2c75b4,#2c75b4,#2c75b4,#2c75b4,#2c75b4)"></i><i style="background:linear-gradient(90deg,#2f79b5,#2f79b5,#307ab6,#337eb8,#3681ba,#3783bb,#3783bb,#3480b9,#327cb7,#2f79b5,#2f79b5,#2f79b5,#2f79b5,#2f79b5,#2f79b5,#2f79b5,#2f79b5,#2f79b5,#2f79b5)"></i><i style="background:linear-gradient(90deg,#337eb8,#337eb8,#3480b9,#3783bb,#3a87bd,#3b88be,#3b88be,#3885bc,#3681ba,#337eb8,#337eb8,#337eb8,#337eb8,#337eb8,#337eb8,#337eb8,#337eb8,#337eb8,#337eb8)"></i><i style="background:linear-gradient(90deg,#3681ba,#3681ba,#3885bc,#3b88be,#3f8ec0,#3f8ec0,#3f8ec0,#3c8abe,#3a87bd,#3783bb,#3681ba,#3783bb,#3681ba,#3681ba,#3783bb,#3783bb,#3783bb,#3783bb,#3681ba)"></i><i style="background:linear-gradient(90deg,#3a87bd,#3a87bd,#3c8abe,#408fc1,#4393c3,#4393c3,#4291c2,#408fc1,#3c8abe,#3a87bd,#3a87bd,#3a87bd,#3a87bd,#3a87bd,#3a87bd,#3b88be,#3b88be,#3a87bd,#3a87bd)"></i><i style="background:linear-gradient(90deg,#3c8abe,#3e8cbf,#408fc1,#4695c4,#4c99c6,#4c99c6,#4997c5,#4695c4,#408fc1,#3e8cbf,#3e8cbf,#3e8cbf,#3e8cbf,#3c8abe,#3e8cbf,#3f8ec0,#3e8cbf,#3e8cbf,#3c8abe)"></i><i style="background:linear-gradient(90deg,#408fc1,#4291c2,#4695c4,#4f9bc7,#569fc9,#569fc9,#529dc8,#4c99c6,#4695c4,#4291c2,#408fc1,#408fc1,#408fc1,#408fc1,#408fc1,#4291c2,#4291c2,#408fc1,#408fc1)"></i><i style="background:linear-gradient(90deg,#4393c3,#4695c4,#4f9bc7,#59a1ca,#5fa5cd,#5fa5cd,#5ca3cb,#569fc9,#4f9bc7,#4695c4,#4695c4,#4695c4,#4393c3,#4393c3,#4695c4,#4997c5,#4997c5,#4695c4,#4393c3)"></i><i style="background:linear-gradient(90deg,#4c99c6,#4f9bc7,#59a1ca,#62a7ce,#68abd0,#68abd0,#62a7ce,#5fa5cd,#569fc9,#4f9bc7,#4c99c6,#4c99c6,#4c99c6,#4c99c6,#4f9bc7,#529dc8,#529dc8,#4c99c6,#4c99c6)"></i><i style="background:linear-gradient(90deg,#529dc8,#569fc9,#5fa5cd,#6bacd1,#71b0d3,#71b0d3,#6bacd1,#65a9cf,#5fa5cd,#569fc9,#529dc8,#529dc8,#529dc8,#529dc8,#569fc9,#5ca3cb,#59a1ca,#569fc9,#529dc8)"></i><i style="background:linear-gradient(90deg,#5ca3cb,#5fa5cd,#68abd0,#71b0d3,#7bb6d6,#78b4d5,#71b0d3,#6eaed2,#65a9cf,#5fa5cd,#5ca3cb,#5ca3cb,#5ca3cb,#59a1ca,#5fa5cd,#62a7ce,#62a7ce,#5ca3cb,#5ca3cb)"></i><i style="background:linear-gradient(90deg,#62a7ce,#65a9cf,#6eaed2,#7bb6d6,#81bad8,#81bad8,#7bb6d6,#75b2d4,#6eaed2,#65a9cf,#62a7ce,#62a7ce,#62a7ce,#62a7ce,#65a9cf,#6bacd1,#68abd0,#62a7ce,#62a7ce)"></i><i style="background:linear-gradient(90deg,#68abd0,#6eaed2,#78b4d5,#81bad8,#8ac0db,#8ac0db,#81bad8,#7bb6d6,#75b2d4,#6eaed2,#68abd0,#68abd0,#68abd0,#68abd0,#6bacd1,#71b0d3,#6eaed2,#6bacd1,#68abd0)"></i><i style="background:linear-gradient(90deg,#71b0d3,#75b2d4,#7eb8d7,#8ac0db,#90c4dd,#90c4dd,#8ac0db,#84bcd9,#7bb6d6,#75b2d4,#71b0d3,#6eaed2,#71b0d3,#71b0d3,#75b2d4,#7bb6d6,#78b4d5,#71b0d3,#71b0d3)"></i><i style="background:linear-gradient(90deg,#78b4d5,#7bb6d6,#84bcd9,#90c4dd,#98c8e0,#98c8e0,#90c4dd,#8ac0db,#84bcd9,#7bb6d6,#78b4d5,#78b4d5,#78b4d5,#78b4d5,#7eb8d7,#81bad8,#7eb8d7,#78b4d5,#78b4d5)"></i><i style="background:linear-gradient(90deg,#7eb8d7,#81bad8,#8dc2dc,#96c7df,#9dcbe1,#9dcbe1,#98c8e0,#90c4dd,#8ac0db,#84bcd9,#7eb8d7,#7eb8d7,#7eb8d7,#81bad8,#84bcd9,#8ac0db,#87beda,#81bad8,#7eb8d7)"></i><i style="background:linear-gradient(90deg,#87beda,#8ac0db,#93c6de,#9dcbe1,#a5cee3,#a5cee3,#9dcbe1,#98c8e0,#90c4dd,#8ac0db,#87beda,#84bcd9,#87beda,#87beda,#8dc2dc,#93c6de,#8dc2dc,#87beda,#87beda)"></i><i style="background:linear-gradient(90deg,#8dc2dc,#90c4dd,#98c8e0,#a2cde3,#a9d1e5,#a9d1e5,#a5cee3,#9dcbe1,#98c8e0,#90c4dd,#8dc2dc,#8dc2dc,#8dc2dc,#90c4dd,#96c7df,#98c8e0,#96c7df,#8dc2dc,#8dc2dc)"></i><i style="background:linear-gradient(90deg,#93c6de,#96c7df,#a0cce2,#a9d1e5,#b1d5e7,#b1d5e7,#acd2e5,#a5cee3,#9dcbe1,#98c8e0,#93c6de,#93c6de,#96c7df,#98c8e0,#9dcbe1,#a2cde3,#9dcbe1,#96c7df,#93c6de)"></i><i style="background:linear-gradient(90deg,#9bc9e0,#9dcbe1,#a5cee3,#b1d5e7,#b8d8e9,#b8d8e9,#b3d6e8,#a9d1e5,#a2cde3,#9dcbe1,#9bc9e0,#9bc9e0,#9dcbe1,#a0cce2,#a7d0e4,#a9d1e5,#a5cee3,#9bc9e0,#9bc9e0)"></i><i style="background:linear-gradient(90deg,#a0cce2,#a2cde3,#acd2e5,#b6d7e8,#c0dceb,#c0dceb,#bbdaea,#b1d5e7,#a9d1e5,#a2cde3,#a0cce2,#a2cde3,#a5cee3,#a9d1e5,#aed3e6,#b1d5e7,#acd2e5,#a2cde3,#a0cce2)"></i><i style="background:linear-gradient(90deg,#a7d0e4,#a9d1e5,#b3d6e8,#bddbea,#c7e0ed,#c7e0ed,#c2ddec,#b8d8e9,#aed3e6,#a9d1e5,#a7d0e4,#a7d0e4,#acd2e5,#b1d5e7,#b8d8e9,#bbdaea,#b3d6e8,#a9d1e5,#a7d0e4)"></i><i style="background:linear-gradient(90deg,#acd2e5,#aed3e6,#b8d8e9,#c7e0ed,#cfe4ef,#cfe4ef,#cae1ee,#c0dceb,#b6d7e8,#aed3e6,#aed3e6,#aed3e6,#b3d6e8,#bbdaea,#c2ddec,#c5dfec,#bddbea,#b1d5e7,#acd2e5)"></i><i style="background:linear-gradient(90deg,#b3d6e8,#b6d7e8,#c0dceb,#cfe4ef,#d4e6f1,#d5e7f1,#d1e5f0,#c7e0ed,#bbdaea,#b6d7e8,#b3d6e8,#b6d7e8,#bbdaea,#c2ddec,#cce2ef,#cfe4ef,#c5dfec,#b8d8e9,#b3d6e8)"></i><i style="background:linear-gradient(90deg,#b8d8e9,#bbdaea,#c7e0ed,#d4e6f1,#d8e9f1,#dae9f2,#d5e7f1,#cfe4ef,#c2ddec,#bbdaea,#bbdaea,#bddbea,#c5dfec,#cce2ef,#d4e6f1,#d5e7f1,#cfe4ef,#c0dceb,#b8d8e9)"></i><i style="background:linear-gradient(90deg,#c0dceb,#c2ddec,#cfe4ef,#d8e9f1,#ddebf2,#deebf2,#dae9f2,#d4e6f1,#cae1ee,#c2ddec,#c2ddec,#c5dfec,#cce2ef,#d2e6f0,#dae9f2,#dbeaf2,#d5e7f1,#c7e0ed,#c0dceb)"></i><i style="background:linear-gradient(90deg,#c5dfec,#c7e0ed,#d4e6f1,#dbeaf2,#e1edf3,#e1edf3,#deebf2,#d8e9f1,#d1e5f0,#cae1ee,#cae1ee,#cce2ef,#d2e6f0,#d8e9f1,#deebf2,#e1edf3,#dae9f2,#cfe4ef,#c5dfec)"></i><i style="background:linear-gradient(90deg,#cce2ef,#cfe4ef,#d7e8f1,#e0ecf3,#e4eef4,#e6eff4,#e3edf3,#dbeaf2,#d4e6f1,#cfe4ef,#d1e5f0,#d4e6f1,#d7e8f1,#ddebf2,#e4eef4,#e6eff4,#deebf2,#d4e6f1,#cce2ef)"></i><i style="background:linear-gradient(90deg,#d2e6f0,#d4e6f1,#dae9f2,#e3edf3,#e7f0f4,#e9f0f4,#e6eff4,#e0ecf3,#d8e9f1,#d4e6f1,#d5e7f1,#d8e9f1,#dbeaf2,#e3edf3,#e9f0f4,#ecf2f5,#e3edf3,#d8e9f1,#d2e6f0)"></i><i style="background:linear-gradient(90deg,#d7e8f1,#d7e8f1,#deebf2,#e6eff4,#eaf1f5,#ecf2f5,#e9f0f4,#e3edf3,#ddebf2,#d8e9f1,#dae9f2,#ddebf2,#e0ecf3,#e7f0f4,#edf2f5,#eff3f5,#e7f0f4,#ddebf2,#d7e8f1)"></i><i style="background:linear-gradient(90deg,#dbeaf2,#dbeaf2,#e1edf3,#e7f0f4,#ecf2f5,#edf2f5,#ecf2f5,#e7f0f4,#e1edf3,#ddebf2,#deebf2,#e1edf3,#e4eef4,#eaf1f5,#f2f5f6,#f3f5f6,#ecf2f5,#e0ecf3,#dbeaf2)"></i><i style="background:linear-gradient(90deg,#e0ecf3,#e0ecf3,#e3edf3,#e9f0f4,#edf2f5,#eff3f5,#edf2f5,#eaf1f5,#e4eef4,#e1edf3,#e3edf3,#e4eef4,#e9f0f4,#eff3f5,#f5f6f7,#f6f7f7,#eff3f5,#e4eef4,#e0ecf3)"></i><i style="background:linear-gradient(90deg,#e4eef4,#e3edf3,#e6eff4,#eaf1f5,#edf2f5,#f0f4f6,#f0f4f6,#edf2f5,#e9f0f4,#e6eff4,#e7f0f4,#e9f0f4,#edf2f5,#f2f5f6,#f7f6f6,#f7f5f4,#f2f5f6,#e9f0f4,#e4eef4)"></i><i style="background:linear-gradient(90deg,#e9f0f4,#e7f0f4,#e9f0f4,#eaf1f5,#eff3f5,#f0f4f6,#f2f5f6,#f0f4f6,#edf2f5,#ecf2f5,#ecf2f5,#edf2f5,#f0f4f6,#f5f6f7,#f7f5f4,#f8f4f2,#f5f6f7,#ecf2f5,#e9f0f4)"></i><i style="background:linear-gradient(90deg,#edf2f5,#ecf2f5,#eaf1f5,#ecf2f5,#eff3f5,#f2f5f6,#f3f5f6,#f3f5f6,#f2f5f6,#f0f4f6,#f0f4f6,#f2f5f6,#f3f5f6,#f7f6f6,#f8f3f0,#f8f3f0,#f7f6f6,#f0f4f6,#edf2f5)"></i><i style="background:linear-gradient(90deg,#f2f5f6,#eff3f5,#edf2f5,#edf2f5,#eff3f5,#f2f5f6,#f3f5f6,#f5f6f7,#f5f6f7,#f5f6f7,#f5f6f7,#f5f6f7,#f6f7f7,#f8f4f2,#f8f2ef,#f8f2ef,#f7f5f4,#f3f5f6,#f2f5f6)"></i><i style="background:linear-gradient(90deg,#f6f7f7,#f3f5f6,#eff3f5,#edf2f5,#eff3f5,#f2f5f6,#f5f6f7,#f7f6f6,#f7f5f4,#f7f5f4,#f7f6f6,#f7f6f6,#f7f5f4,#f8f2ef,#f9f0eb,#f8f1ed,#f8f3f0,#f7f6f6,#f6f7f7)"></i><i style="background:linear-gradient(90deg,#f7f5f4,#f6f7f7,#f2f5f6,#eff3f5,#eff3f5,#f2f5f6,#f6f7f7,#f8f4f2,#f8f2ef,#f8f2ef,#f8f3f0,#f8f3f0,#f8f3f0,#f8f1ed,#f9efe9,#f9f0eb,#f8f2ef,#f8f4f2,#f7f5f4)"></i><i style="background:linear-gradient(90deg,#f8f2ef,#f8f4f2,#f5f6f7,#f0f4f6,#f0f4f6,#f3f5f6,#f7f6f6,#f8f2ef,#f9f0eb,#f9f0eb,#f9f0eb,#f8f1ed,#f8f1ed,#f9efe9,#f9eee7,#f9efe9,#f9f0eb,#f8f2ef,#f8f2ef)"></i><i style="background:linear-gradient(90deg,#f9f0eb,#f8f2ef,#f7f6f6,#f2f5f6,#f0f4f6,#f3f5f6,#f7f5f4,#f8f1ed,#f9ede5,#f9ede5,#f9eee7,#f9efe9,#f9efe9,#f9eee7,#f9ede5,#f9eee7,#f9efe9,#f9f0eb,#f9f0eb)"></i><i style="background:linear-gradient(90deg,#f9ede5,#f9efe9,#f7f5f4,#f3f5f6,#f2f5f6,#f5f6f7,#f8f4f2,#f9efe9,#faeae1,#fae9df,#f9ebe3,#f9ede5,#f9eee7,#f9ede5,#f9ebe3,#f9ede5,#f9ede5,#f9eee7,#f9ede5)"></i><i style="background:linear-gradient(90deg,#faeae1,#f9ede5,#f8f2ef,#f5f6f7,#f3f5f6,#f6f7f7,#f8f3f0,#f9ede5,#fae8de,#fae7dc,#fae9df,#f9ebe3,#f9ebe3,#faeae1,#faeae1,#f9ebe3,#f9ebe3,#faeae1,#faeae1)"></i><i style="background:linear-gradient(90deg,#fae8de,#fae9df,#f9f0eb,#f7f6f6,#f5f6f7,#f7f6f6,#f8f2ef,#faeae1,#fbe5d8,#fbe5d8,#fae7dc,#fae9df,#faeae1,#fae9df,#fae9df,#fae9df,#fae9df,#fae8de,#fae8de)"></i><i style="background:linear-gradient(90deg,#fbe6da,#fae7dc,#f9eee7,#f8f4f2,#f6f7f7,#f7f5f4,#f8f1ed,#fae8de,#fbe3d4,#fce2d2,#fbe5d8,#fae7dc,#fae9df,#fae8de,#fae8de,#fae8de,#fae8de,#fae7dc,#fbe6da)"></i><i style="background:linear-gradient(90deg,#fbe4d6,#fbe5d8,#f9ebe3,#f8f3f0,#f7f5f4,#f8f4f2,#f9efe9,#fbe6da,#fce0d0,#fcdfcf,#fbe3d4,#fbe6da,#fae7dc,#fae7dc,#fbe6da,#fae7dc,#fbe6da,#fbe5d8,#fbe4d6)"></i><i style="background:linear-gradient(90deg,#fce2d2,#fbe3d4,#fae9df,#f8f1ed,#f8f4f2,#f8f3f0,#f9ede5,#fbe4d6,#fdddcb,#fdddcb,#fce0d0,#fbe4d6,#fbe6da,#fbe5d8,#fbe5d8,#fbe5d8,#fbe4d6,#fbe3d4,#fce2d2)"></i><i style="background:linear-gradient(90deg,#fcdfcf,#fce0d0,#fae7dc,#f9efe9,#f8f2ef,#f8f1ed,#f9ebe3,#fce2d2,#fddbc7,#fddbc7,#fcdecd,#fce2d2,#fbe4d6,#fbe4d6,#fbe4d6,#fbe4d6,#fbe3d4,#fce0d0,#fce0d0)"></i><i style="background:linear-gradient(90deg,#fcdecd,#fcdecd,#fbe5d8,#f9ede5,#f9f0eb,#f9efe9,#fae9df,#fcdfcf,#fcd7c2,#fcd7c2,#fddcc9,#fcdfcf,#fce2d2,#fbe3d4,#fbe3d4,#fce2d2,#fce0d0,#fcdecd,#fcdecd)"></i><i style="background:linear-gradient(90deg,#fddcc9,#fddcc9,#fbe3d4,#fae9df,#f9eee7,#f9ede5,#fae7dc,#fdddcb,#fcd3bc,#fbd0b9,#fdd9c4,#fcdecd,#fce0d0,#fce0d0,#fce0d0,#fce0d0,#fcdecd,#fddcc9,#fddcc9)"></i><i style="background:linear-gradient(90deg,#fdd9c4,#fdd9c4,#fce0d0,#fae7dc,#f9ebe3,#faeae1,#fbe5d8,#fdd9c4,#fbccb4,#fbccb4,#fcd5bf,#fddbc7,#fcdecd,#fcdecd,#fcdecd,#fcdecd,#fddcc9,#fdd9c4,#fdd9c4)"></i><i style="background:linear-gradient(90deg,#fcd5bf,#fcd5bf,#fcdecd,#fbe5d8,#fae9df,#fae8de,#fce2d2,#fcd5bf,#fac8af,#fac8af,#fbceb7,#fcd7c2,#fddcc9,#fdddcb,#fdddcb,#fddcc9,#fdd9c4,#fcd5bf,#fcd5bf)"></i><i style="background:linear-gradient(90deg,#fbd0b9,#fbd0b9,#fddcc9,#fbe3d4,#fbe6da,#fbe5d8,#fcdfcf,#fbd0b9,#f9c2a7,#f9c2a7,#facab1,#fcd3bc,#fcd7c2,#fddbc7,#fddbc7,#fdd9c4,#fcd5bf,#fcd3bc,#fbd0b9)"></i><i style="background:linear-gradient(90deg,#fbccb4,#fbceb7,#fcd7c2,#fcdfcf,#fbe4d6,#fbe3d4,#fddcc9,#facab1,#f8bda1,#f8bda1,#f9c6ac,#fbceb7,#fcd3bc,#fcd7c2,#fcd7c2,#fcd5bf,#fbd0b9,#fbceb7,#fbccb4)"></i><i style="background:linear-gradient(90deg,#fac8af,#facab1,#fcd3bc,#fdddcb,#fce0d0,#fcdfcf,#fcd7c2,#f9c6ac,#f7b99c,#f7b799,#f8bfa4,#fac8af,#fbceb7,#fbd0b9,#fcd3bc,#fbd0b9,#fbccb4,#facab1,#fac8af)"></i><i style="background:linear-gradient(90deg,#f9c4a9,#f9c6ac,#fbceb7,#fdd9c4,#fdddcb,#fddcc9,#fbd0b9,#f8bfa4,#f6b394,#f6b394,#f8bb9e,#f9c4a9,#fac8af,#fbccb4,#fbceb7,#fbccb4,#fac8af,#f9c6ac,#f9c4a9)"></i><i style="background:linear-gradient(90deg,#f8bfa4,#f9c2a7,#facab1,#fcd3bc,#fdd9c4,#fcd5bf,#facab1,#f7b99c,#f5ac8b,#f5ac8b,#f7b596,#f8bda1,#f9c2a7,#f9c6ac,#fac8af,#f9c6ac,#f9c4a9,#f9c2a7,#f8bfa4)"></i><i style="background:linear-gradient(90deg,#f8bb9e,#f8bda1,#f9c6ac,#fbccb4,#fbd0b9,#fbceb7,#f9c2a7,#f6b394,#f5a886,#f4a683,#f6b191,#f7b99c,#f8bda1,#f9c2a7,#f9c2a7,#f9c2a7,#f8bfa4,#f8bda1,#f8bb9e)"></i><i style="background:linear-gradient(90deg,#f7b799,#f7b99c,#f8bfa4,#f9c6ac,#facab1,#f9c6ac,#f8bb9e,#f5ac8b,#f2a17f,#f2a17f,#f5aa89,#f6b394,#f7b799,#f8bb9e,#f8bda1,#f8bda1,#f8bb9e,#f7b99c,#f7b799)"></i><i style="background:linear-gradient(90deg,#f6b394,#f7b799,#f8bb9e,#f8bfa4,#f9c2a7,#f8bda1,#f6b394,#f4a683,#ef9979,#ef9979,#f3a481,#f5ac8b,#f6b191,#f7b596,#f7b799,#f7b799,#f7b799,#f7b596,#f6b394)"></i><i style="background:linear-gradient(90deg,#f6af8e,#f6b191,#f7b596,#f7b99c,#f7b99c,#f7b596,#f5aa89,#f19e7d,#eb9172,#eb9172,#f09c7b,#f4a683,#f5aa89,#f5ac8b,#f6b191,#f6b191,#f6b191,#f6b191,#f6af8e)"></i><i style="background:linear-gradient(90deg,#f5aa89,#f5ac8b,#f6b191,#f6b191,#f6b191,#f5ac8b,#f2a17f,#ec9374,#e98b6e,#e98b6e,#ec9374,#f19e7d,#f3a481,#f4a683,#f5a886,#f5aa89,#f5ac8b,#f5ac8b,#f5aa89)"></i><i style="background:linear-gradient(90deg,#f4a683,#f5a886,#f5aa89,#f5aa89,#f5a886,#f2a17f,#ee9677,#e98b6e,#e58368,#e58368,#e98b6e,#ee9677,#f09c7b,#f19e7d,#f2a17f,#f4a683,#f4a683,#f5a886,#f4a683)"></i><i style="background:linear-gradient(90deg,#f2a17f,#f2a17f,#f3a481,#f2a17f,#f19e7d,#ee9677,#e98b6e,#e48066,#e27b62,#e27b62,#e58368,#ea8e70,#eb9172,#ec9374,#ee9677,#f09c7b,#f2a17f,#f2a17f,#f19e7d)"></i><i style="background:linear-gradient(90deg,#ef9979,#f09c7b,#ef9979,#ee9677,#ec9374,#e98b6e,#e48066,#e17860,#de735c,#de735c,#e27b62,#e6866a,#e8896c,#e98b6e,#ea8e70,#ec9374,#ef9979,#ef9979,#ef9979)"></i><i style="background:linear-gradient(90deg,#eb9172,#ec9374,#eb9172,#ea8e70,#e6866a,#e48066,#df765e,#dd7059,#db6b55,#db6b55,#de735c,#e27b62,#e48066,#e48066,#e58368,#e98b6e,#eb9172,#eb9172,#eb9172)"></i><i style="background:linear-gradient(90deg,#e8896c,#e8896c,#e6866a,#e58368,#e27b62,#de735c,#dc6e57,#da6853,#d7634f,#d86551,#db6b55,#de735c,#df765e,#df765e,#e27b62,#e58368,#e6866a,#e8896c,#e8896c)"></i><i style="background:linear-gradient(90deg,#e37e64,#e48066,#e37e64,#e17860,#dd7059,#db6b55,#d7634f,#d55d4c,#d35a4a,#d55d4c,#d7634f,#db6b55,#dc6e57,#dc6e57,#dd7059,#e17860,#e37e64,#e48066,#e37e64)"></i><i style="background:linear-gradient(90deg,#df765e,#df765e,#de735c,#dc6e57,#d86551,#d6604d,#d35a4a,#d05548,#d05548,#d05548,#d35a4a,#d7634f,#d86551,#d7634f,#d86551,#dc6e57,#de735c,#df765e,#df765e)"></i><i style="background:linear-gradient(90deg,#db6b55,#db6b55,#da6853,#d7634f,#d55d4c,#d05548,#cf5246,#ce4f45,#cc4c44,#ce4f45,#cf5246,#d25849,#d35a4a,#d35a4a,#d55d4c,#d7634f,#da6853,#db6b55,#db6b55)"></i><i style="background:linear-gradient(90deg,#d6604d,#d6604d,#d55d4c,#d25849,#cf5246,#cc4c44,#cb4942,#c94741,#c84440,#c94741,#cb4942,#ce4f45,#cf5246,#ce4f45,#cf5246,#d25849,#d55d4c,#d6604d,#d6604d)"></i><i style="background:linear-gradient(90deg,#cf5246,#d05548,#cf5246,#cc4c44,#c94741,#c84440,#c6413e,#c53e3d,#c53e3d,#c53e3d,#c6413e,#c94741,#c94741,#c94741,#cb4942,#ce4f45,#cf5246,#d05548,#cf5246)"></i><i style="background:linear-gradient(90deg,#c94741,#c94741,#c94741,#c6413e,#c53e3d,#c43b3c,#c2383a,#c2383a,#c2383a,#c2383a,#c43b3c,#c53e3d,#c53e3d,#c53e3d,#c53e3d,#c84440,#c94741,#c94741,#c94741)"></i><i style="background:linear-gradient(90deg,#c43b3c,#c43b3c,#c43b3c,#c2383a,#c13639,#bf3338,#be3036,#be3036,#be3036,#be3036,#bf3338,#c13639,#c13639,#c13639,#c13639,#c2383a,#c43b3c,#c43b3c,#c43b3c)"></i><i style="background:linear-gradient(90deg,#be3036,#be3036,#be3036,#be3036,#bd2d35,#bb2a34,#bb2a34,#bb2a34,#bb2a34,#bb2a34,#bb2a34,#bd2d35,#bd2d35,#bd2d35,#bd2d35,#be3036,#be3036,#be3036,#be3036)"></i><i style="background:linear-gradient(90deg,#ba2832,#ba2832,#ba2832,#b82531,#b82531,#b82531,#b82531,#b82531,#b82531,#b82531,#b82531,#b82531,#b82531,#b82531,#b82531,#ba2832,#ba2832,#ba2832,#ba2832)"></i><i style="background:linear-gradient(90deg,#b61f2e,#b61f2e,#b61f2e,#b61f2e,#b61f2e,#b61f2e,#b61f2e,#b61f2e,#b61f2e,#b61f2e,#b61f2e,#b61f2e,#b61f2e,#b61f2e,#b61f2e,#b61f2e,#b61f2e,#b61f2e,#b61f2e)"></i><i style="background:linear-gradient(90deg,#b1182b,#b1182b,#b1182b,#b1182b,#b1182b,#b3192c,#b3192c,#b3192c,#b3192c,#b3192c,#b3192c,#b1182b,#b1182b,#b1182b,#b1182b,#b1182b,#b1182b,#b1182b,#b1182b)"></i><i style="background:linear-gradient(90deg,#a81529,#a81529,#ab162a,#ab162a,#ab162a,#ae172a,#ae172a,#ae172a,#ae172a,#ae172a,#ae172a,#ab162a,#ab162a,#ab162a,#ab162a,#ab162a,#ab162a,#a81529,#a81529)"></i><i style="background:linear-gradient(90deg,#a21328,#a21328,#a51429,#a51429,#a51429,#a81529,#a81529,#a81529,#a81529,#a81529,#a81529,#a51429,#a51429,#a51429,#a51429,#a51429,#a21328,#a21328,#a21328)"></i><i style="background:linear-gradient(90deg,#9f1228,#9f1228,#9f1228,#9f1228,#a21328,#a21328,#a21328,#a21328,#a21328,#a21328,#a21328,#a21328,#a21328,#a21328,#9f1228,#9f1228,#9f1228,#9f1228,#9f1228)"></i><i style="background:linear-gradient(90deg,#991027,#991027,#991027,#9c1127,#9c1127,#9c1127,#9f1228,#9f1228,#9f1228,#9f1228,#9c1127,#9c1127,#9c1127,#9c1127,#9c1127,#991027,#991027,#991027,#991027)"></i><i style="background:linear-gradient(90deg,#960f27,#960f27,#960f27,#960f27,#991027,#991027,#991027,#991027,#991027,#991027,#991027,#991027,#960f27,#991027,#960f27,#960f27,#960f27,#960f27,#960f27)"></i><i style="background:linear-gradient(90deg,#930e26,#930e26,#930e26,#930e26,#930e26,#930e26,#960f27,#960f27,#960f27,#960f27,#930e26,#930e26,#930e26,#930e26,#930e26,#930e26,#930e26,#930e26,#930e26)"></i><i style="background:linear-gradient(90deg,#900d26,#900d26,#900d26,#900d26,#900d26,#900d26,#900d26,#900d26,#900d26,#900d26,#900d26,#900d26,#900d26,#900d26,#900d26,#900d26,#900d26,#8d0c25,#900d26)"></i><i style="background:linear-gradient(90deg,#8d0c25,#8d0c25,#8d0c25,#8d0c25,#8d0c25,#8d0c25,#8d0c25,#8d0c25,#8d0c25,#8d0c25,#8d0c25,#8d0c25,#8d0c25,#8d0c25,#8d0c25,#8d0c25,#8d0c25,#8d0c25,#8d0c25)"></i><i style="background:linear-gradient(90deg,#8a0b25,#8a0b25,#8a0b25,#8a0b25,#870a24,#870a24,#870a24,#870a24,#870a24,#870a24,#870a24,#870a24,#870a24,#870a24,#870a24,#8a0b25,#8a0b25,#8a0b25,#8a0b25)"></i><i style="background:linear-gradient(90deg,#870a24,#870a24,#870a24,#840924,#840924,#840924,#840924,#840924,#840924,#840924,#840924,#840924,#840924,#840924,#840924,#870a24,#870a24,#870a24,#870a24)"></i><i style="background:linear-gradient(90deg,#840924,#840924,#840924,#810823,#810823,#810823,#810823,#810823,#810823,#810823,#810823,#810823,#810823,#810823,#810823,#840924,#840924,#840924,#840924)"></i><i style="background:linear-gradient(90deg,#810823,#810823,#810823,#7f0823,#7f0823,#7f0823,#7c0722,#7c0722,#7c0722,#7c0722,#7f0823,#7f0823,#7f0823,#7f0823,#7f0823,#7f0823,#810823,#810823,#810823)"></i><i style="background:linear-gradient(90deg,#7f0823,#7f0823,#7c0722,#7c0722,#7c0722,#790622,#790622,#790622,#790622,#790622,#790622,#7c0722,#7c0722,#7c0722,#7c0722,#7c0722,#7f0823,#7f0823,#7f0823)"></i><i style="background:linear-gradient(90deg,#790622,#790622,#790622,#790622,#760521,#760521,#760521,#760521,#760521,#760521,#760521,#760521,#760521,#760521,#760521,#790622,#790622,#790622,#790622)"></i><i style="background:linear-gradient(90deg,#760521,#760521,#760521,#730421,#730421,#700320,#700320,#700320,#700320,#700320,#730421,#730421,#730421,#730421,#730421,#730421,#760521,#760521,#760521)"></i><i style="background:linear-gradient(90deg,#700320,#700320,#700320,#700320,#6d0220,#6d0220,#6d0220,#6d0220,#6d0220,#6d0220,#6d0220,#6d0220,#6d0220,#6d0220,#6d0220,#700320,#700320,#700320,#700320)"></i><i style="background:linear-gradient(90deg,#6a011f,#6a011f,#6a011f,#6a011f,#6a011f,#67001f,#67001f,#67001f,#67001f,#67001f,#67001f,#6a011f,#6a011f,#6a011f,#6a011f,#6a011f,#6a011f,#6a011f,#6a011f)"></i></div><svg class="ov" style="left:527px;top:-1px" width="239" height="120" viewBox="-6.950 -2.500 239 120"><polyline points="0.00,55.35 1.87,54.38 3.74,53.41 5.61,52.44 7.49,51.48 9.36,50.54 11.23,49.60 13.10,48.68 14.97,47.78 16.84,46.91 18.72,46.05 20.59,45.22 22.46,44.42 24.33,43.64 26.20,42.90 28.07,42.20 29.95,41.53 31.82,40.90 33.69,40.30 35.56,39.75 37.43,39.24 39.30,38.78 41.18,38.36 43.05,37.99 44.92,37.66 46.79,37.38 48.66,37.16 50.53,36.98 52.41,36.85 54.28,36.78 56.15,36.75 58.02,36.78 59.89,36.85 61.76,36.98 63.64,37.16 65.51,37.38 67.38,37.66 69.25,37.99 71.12,38.36 72.99,38.78 74.87,39.24 76.74,39.75 78.61,40.30 80.48,40.90 82.35,41.53 84.22,42.20 86.10,42.90 87.97,43.64 89.84,44.42 91.71,45.22 93.58,46.05 95.45,46.91 97.33,47.78 99.20,48.68 101.07,49.60 102.94,50.54 104.81,51.48 106.68,52.44 108.56,53.41 110.43,54.38 112.30,55.35 114.17,56.32 116.04,57.29 117.91,58.26 119.79,59.22 121.66,60.16 123.53,61.10 125.40,62.02 127.27,62.92 129.14,63.79 131.02,64.65 132.89,65.48 134.76,66.28 136.63,67.06 138.50,67.80 140.38,68.50 142.25,69.17 144.12,69.80 145.99,70.40 147.86,70.95 149.73,71.46 151.60,71.92 153.48,72.34 155.35,72.71 157.22,73.04 159.09,73.32 160.96,73.54 162.83,73.72 164.71,73.85 166.58,73.92 168.45,73.95 170.32,73.92 172.19,73.85 174.06,73.72 175.94,73.54 177.81,73.32 179.68,73.04 181.55,72.71 183.42,72.34 185.29,71.92 187.17,71.46 189.04,70.95 190.91,70.40 192.78,69.80 194.65,69.17 196.52,68.50 198.40,67.80 200.27,67.06 202.14,66.28 204.01,65.48 205.88,64.65 207.75,63.79 209.63,62.92 211.50,62.02 213.37,61.10 215.24,60.16 217.11,59.22 218.98,58.26 220.86,57.29 222.73,56.32 224.60,55.35" fill="none" stroke="#1a1a1a" stroke-width="1.25" stroke-dasharray="1.2 1.4"/><line x1="0" y1="55.35" x2="224.60" y2="55.35" stroke="#1a1a1a" stroke-width="1.35" stroke-dasharray="3.3 2.03"/><rect x="0" y="0" width="224.60" height="111.60" fill="none" stroke="#222" stroke-width="0.85"/><line x1="0.00" y1="111.60" x2="0.00" y2="114.40" stroke="#222" stroke-width="0.9"/><line x1="31.19" y1="111.60" x2="31.19" y2="114.40" stroke="#222" stroke-width="0.9"/><line x1="62.39" y1="111.60" x2="62.39" y2="114.40" stroke="#222" stroke-width="0.9"/><line x1="93.58" y1="111.60" x2="93.58" y2="114.40" stroke="#222" stroke-width="0.9"/><line x1="124.78" y1="111.60" x2="124.78" y2="114.40" stroke="#222" stroke-width="0.9"/><line x1="155.97" y1="111.60" x2="155.97" y2="114.40" stroke="#222" stroke-width="0.9"/><line x1="187.17" y1="111.60" x2="187.17" y2="114.40" stroke="#222" stroke-width="0.9"/><line x1="218.36" y1="111.60" x2="218.36" y2="114.40" stroke="#222" stroke-width="0.9"/><line x1="0" y1="9.30" x2="-2.8" y2="9.30" stroke="#222" stroke-width="0.9"/><line x1="0" y1="24.80" x2="-2.8" y2="24.80" stroke="#222" stroke-width="0.9"/><line x1="0" y1="40.30" x2="-2.8" y2="40.30" stroke="#222" stroke-width="0.9"/><line x1="0" y1="55.80" x2="-2.8" y2="55.80" stroke="#222" stroke-width="0.9"/><line x1="0" y1="71.30" x2="-2.8" y2="71.30" stroke="#222" stroke-width="0.9"/><line x1="0" y1="86.80" x2="-2.8" y2="86.80" stroke="#222" stroke-width="0.9"/><line x1="0" y1="102.30" x2="-2.8" y2="102.30" stroke="#222" stroke-width="0.9"/></svg><span class="xl" style="left:513.95px;top:115.80px">0</span><span class="xl" style="left:545.14px;top:115.80px">50</span><span class="xl" style="left:576.34px;top:115.80px">100</span><span class="xl" style="left:607.53px;top:115.80px">150</span><span class="xl" style="left:638.73px;top:115.80px">200</span><span class="xl" style="left:669.92px;top:115.80px">250</span><span class="xl" style="left:701.12px;top:115.80px">300</span><span class="xl" style="left:732.31px;top:115.80px">350</span><span class="yl" style="left:489.55px;top:6.60px">75</span><span class="yl" style="left:489.55px;top:22.10px">50</span><span class="yl" style="left:489.55px;top:37.60px">25</span><span class="yl" style="left:489.55px;top:53.10px">0</span><span class="yl" style="left:489.55px;top:68.60px"><b class="m"></b>25</span><span class="yl" style="left:489.55px;top:84.10px"><b class="m"></b>50</span><span class="yl" style="left:489.55px;top:99.60px"><b class="m"></b>75</span><div class="tx" style="left:535.95px;top:2.90px">Ro = 4 Ro<sub>Sun</sub><br>Stellar maximum</div><div class="hm" style="left:20px;top:188px;width:225px;height:112px"><i style="background:linear-gradient(90deg,#2a71b2,#2369ad,#1e61a5,#1a5899,#144e8a,#124984,#10457e,#0d3f76,#0c3d73,#0c3d73,#0c3d73,#0c3d73,#0c3d73,#0c3d73,#0d3f76,#10457e,#15508d,#1e61a5,#2a71b2)"></i><i style="background:linear-gradient(90deg,#2a71b2,#2369ad,#1e61a5,#1a5899,#175290,#134c87,#114781,#0e4179,#0c3d73,#0c3d73,#0d3f76,#0d3f76,#0d3f76,#0c3d73,#0c3d73,#10457e,#15508d,#1e61a5,#2a71b2)"></i><i style="background:linear-gradient(90deg,#2b73b3,#246aae,#1e61a5,#1b5a9c,#185493,#144e8a,#124984,#0f437b,#0d3f76,#0d3f76,#0d3f76,#0e4179,#0e4179,#0c3d73,#0c3d73,#10457e,#175290,#1f63a8,#2b73b3)"></i><i style="background:linear-gradient(90deg,#2e77b5,#246aae,#1f63a8,#1c5c9f,#1a5899,#175290,#134c87,#10457e,#0e4179,#0d3f76,#0e4179,#0f437b,#0e4179,#0d3f76,#0d3f76,#10457e,#175290,#1f63a8,#2e77b5)"></i><i style="background:linear-gradient(90deg,#2f79b5,#276eb0,#2267ac,#1e61a5,#1c5c9f,#195696,#15508d,#124984,#0f437b,#0e4179,#0f437b,#10457e,#0f437b,#0e4179,#0e4179,#114781,#185493,#2065ab,#2f79b5)"></i><i style="background:linear-gradient(90deg,#307ab6,#2870b1,#2369ad,#2065ab,#1e61a5,#1b5a9c,#175290,#134c87,#114781,#0f437b,#10457e,#114781,#10457e,#0f437b,#0f437b,#124984,#195696,#2267ac,#307ab6)"></i><i style="background:linear-gradient(90deg,#337eb8,#2b73b3,#266caf,#2369ad,#2065ab,#1d5fa2,#195696,#15508d,#124984,#10457e,#114781,#124984,#114781,#10457e,#10457e,#144e8a,#1a5899,#246aae,#337eb8)"></i><i style="background:linear-gradient(90deg,#3681ba,#2e77b5,#2a71b2,#276eb0,#246aae,#2065ab,#1b5a9c,#185493,#144e8a,#124984,#124984,#134c87,#124984,#114781,#124984,#15508d,#1c5c9f,#266caf,#3681ba)"></i><i style="background:linear-gradient(90deg,#3783bb,#307ab6,#2c75b4,#2b73b3,#276eb0,#2369ad,#1e61a5,#1a5899,#15508d,#134c87,#134c87,#144e8a,#144e8a,#134c87,#144e8a,#185493,#1d5fa2,#2870b1,#3783bb)"></i><i style="background:linear-gradient(90deg,#3a87bd,#337eb8,#307ab6,#2e77b5,#2b73b3,#276eb0,#2065ab,#1c5c9f,#185493,#15508d,#15508d,#15508d,#15508d,#15508d,#175290,#1a5899,#1f63a8,#2b73b3,#3a87bd)"></i><i style="background:linear-gradient(90deg,#3c8abe,#3783bb,#3480b9,#327cb7,#2f79b5,#2a71b2,#246aae,#1e61a5,#1a5899,#185493,#175290,#175290,#175290,#185493,#195696,#1c5c9f,#2267ac,#2e77b5,#3c8abe)"></i><i style="background:linear-gradient(90deg,#3f8ec0,#3b88be,#3885bc,#3783bb,#337eb8,#2e77b5,#276eb0,#2065ab,#1c5c9f,#1a5899,#195696,#195696,#195696,#195696,#1b5a9c,#1e61a5,#246aae,#307ab6,#3f8ec0)"></i><i style="background:linear-gradient(90deg,#4291c2,#3e8cbf,#3c8abe,#3b88be,#3783bb,#327cb7,#2b73b3,#246aae,#1e61a5,#1c5c9f,#1b5a9c,#1a5899,#1a5899,#1b5a9c,#1d5fa2,#2267ac,#2870b1,#337eb8,#4291c2)"></i><i style="background:linear-gradient(90deg,#4997c5,#4291c2,#408fc1,#3f8ec0,#3b88be,#3480b9,#2f79b5,#276eb0,#2065ab,#1e61a5,#1c5c9f,#1c5c9f,#1c5c9f,#1d5fa2,#2065ab,#246aae,#2b73b3,#3681ba,#4997c5)"></i><i style="background:linear-gradient(90deg,#4f9bc7,#4997c5,#4695c4,#4393c3,#3f8ec0,#3885bc,#337eb8,#2a71b2,#246aae,#2065ab,#1e61a5,#1d5fa2,#1e61a5,#2065ab,#2369ad,#276eb0,#2e77b5,#3885bc,#4f9bc7)"></i><i style="background:linear-gradient(90deg,#569fc9,#4f9bc7,#4f9bc7,#4c99c6,#4291c2,#3c8abe,#3681ba,#2e77b5,#276eb0,#2369ad,#2065ab,#1f63a8,#2065ab,#2369ad,#276eb0,#2b73b3,#327cb7,#3b88be,#569fc9)"></i><i style="background:linear-gradient(90deg,#5ca3cb,#59a1ca,#59a1ca,#569fc9,#4997c5,#408fc1,#3a87bd,#327cb7,#2a71b2,#276eb0,#2369ad,#2267ac,#2369ad,#266caf,#2a71b2,#2e77b5,#3480b9,#3e8cbf,#5ca3cb)"></i><i style="background:linear-gradient(90deg,#62a7ce,#5fa5cd,#62a7ce,#5fa5cd,#529dc8,#4695c4,#3e8cbf,#3480b9,#2e77b5,#2a71b2,#276eb0,#246aae,#266caf,#2870b1,#2c75b4,#327cb7,#3783bb,#4291c2,#62a7ce)"></i><i style="background:linear-gradient(90deg,#68abd0,#65a9cf,#68abd0,#68abd0,#5ca3cb,#4c99c6,#4291c2,#3885bc,#307ab6,#2e77b5,#2a71b2,#276eb0,#2870b1,#2b73b3,#2f79b5,#3480b9,#3b88be,#4695c4,#68abd0)"></i><i style="background:linear-gradient(90deg,#6eaed2,#6eaed2,#71b0d3,#6eaed2,#62a7ce,#569fc9,#4997c5,#3c8abe,#3480b9,#307ab6,#2c75b4,#2b73b3,#2b73b3,#2f79b5,#337eb8,#3783bb,#3e8cbf,#4c99c6,#6eaed2)"></i><i style="background:linear-gradient(90deg,#75b2d4,#71b0d3,#78b4d5,#78b4d5,#6bacd1,#5fa5cd,#4f9bc7,#3f8ec0,#3885bc,#3480b9,#307ab6,#2e77b5,#2f79b5,#327cb7,#3681ba,#3a87bd,#408fc1,#529dc8,#75b2d4)"></i><i style="background:linear-gradient(90deg,#7bb6d6,#78b4d5,#7eb8d7,#7eb8d7,#71b0d3,#65a9cf,#59a1ca,#4393c3,#3b88be,#3783bb,#337eb8,#327cb7,#327cb7,#3480b9,#3783bb,#3c8abe,#4393c3,#59a1ca,#7bb6d6)"></i><i style="background:linear-gradient(90deg,#7eb8d7,#7eb8d7,#81bad8,#84bcd9,#7bb6d6,#6eaed2,#62a7ce,#4c99c6,#3f8ec0,#3b88be,#3783bb,#3480b9,#3681ba,#3783bb,#3a87bd,#3f8ec0,#4997c5,#5fa5cd,#7eb8d7)"></i><i style="background:linear-gradient(90deg,#84bcd9,#81bad8,#87beda,#8ac0db,#81bad8,#78b4d5,#68abd0,#529dc8,#4393c3,#3f8ec0,#3b88be,#3885bc,#3a87bd,#3a87bd,#3c8abe,#4291c2,#4f9bc7,#65a9cf,#84bcd9)"></i><i style="background:linear-gradient(90deg,#8ac0db,#87beda,#8dc2dc,#90c4dd,#8ac0db,#7eb8d7,#71b0d3,#5ca3cb,#4c99c6,#4393c3,#3e8cbf,#3c8abe,#3e8cbf,#3c8abe,#3f8ec0,#4695c4,#569fc9,#6bacd1,#8ac0db)"></i><i style="background:linear-gradient(90deg,#8dc2dc,#8ac0db,#90c4dd,#96c7df,#90c4dd,#87beda,#7bb6d6,#65a9cf,#569fc9,#4997c5,#4291c2,#408fc1,#408fc1,#3f8ec0,#408fc1,#4997c5,#5ca3cb,#71b0d3,#8dc2dc)"></i><i style="background:linear-gradient(90deg,#93c6de,#90c4dd,#96c7df,#9bc9e0,#98c8e0,#90c4dd,#84bcd9,#6eaed2,#5ca3cb,#529dc8,#4997c5,#4695c4,#4695c4,#4393c3,#4393c3,#4f9bc7,#62a7ce,#78b4d5,#93c6de)"></i><i style="background:linear-gradient(90deg,#96c7df,#93c6de,#98c8e0,#a0cce2,#a0cce2,#98c8e0,#8dc2dc,#75b2d4,#65a9cf,#5ca3cb,#529dc8,#4f9bc7,#4f9bc7,#4997c5,#4997c5,#529dc8,#65a9cf,#7bb6d6,#96c7df)"></i><i style="background:linear-gradient(90deg,#98c8e0,#98c8e0,#9dcbe1,#a5cee3,#a7d0e4,#a2cde3,#96c7df,#7eb8d7,#6eaed2,#65a9cf,#5ca3cb,#5ca3cb,#59a1ca,#4f9bc7,#4c99c6,#59a1ca,#6bacd1,#81bad8,#98c8e0)"></i><i style="background:linear-gradient(90deg,#9dcbe1,#9bc9e0,#a2cde3,#a9d1e5,#aed3e6,#a9d1e5,#9dcbe1,#87beda,#78b4d5,#6eaed2,#65a9cf,#65a9cf,#62a7ce,#59a1ca,#529dc8,#5ca3cb,#6eaed2,#84bcd9,#9dcbe1)"></i><i style="background:linear-gradient(90deg,#a0cce2,#a0cce2,#a7d0e4,#aed3e6,#b6d7e8,#b3d6e8,#a5cee3,#90c4dd,#81bad8,#78b4d5,#71b0d3,#6eaed2,#6eaed2,#5fa5cd,#59a1ca,#62a7ce,#71b0d3,#8ac0db,#a0cce2)"></i><i style="background:linear-gradient(90deg,#a2cde3,#a5cee3,#a9d1e5,#b6d7e8,#bddbea,#bbdaea,#acd2e5,#98c8e0,#8ac0db,#81bad8,#7bb6d6,#7bb6d6,#78b4d5,#68abd0,#5fa5cd,#65a9cf,#75b2d4,#8dc2dc,#a2cde3)"></i><i style="background:linear-gradient(90deg,#a7d0e4,#a7d0e4,#aed3e6,#bbdaea,#c5dfec,#c5dfec,#b3d6e8,#a0cce2,#93c6de,#8ac0db,#84bcd9,#84bcd9,#81bad8,#6eaed2,#62a7ce,#68abd0,#7bb6d6,#90c4dd,#a7d0e4)"></i><i style="background:linear-gradient(90deg,#a9d1e5,#acd2e5,#b3d6e8,#c0dceb,#cce2ef,#cce2ef,#bbdaea,#a7d0e4,#98c8e0,#93c6de,#90c4dd,#8dc2dc,#8ac0db,#78b4d5,#68abd0,#6bacd1,#7eb8d7,#96c7df,#a9d1e5)"></i><i style="background:linear-gradient(90deg,#acd2e5,#b1d5e7,#b8d8e9,#c5dfec,#d2e6f0,#d1e5f0,#c2ddec,#acd2e5,#a0cce2,#9bc9e0,#98c8e0,#98c8e0,#93c6de,#7eb8d7,#6eaed2,#71b0d3,#81bad8,#98c8e0,#acd2e5)"></i><i style="background:linear-gradient(90deg,#b1d5e7,#b6d7e8,#bddbea,#cae1ee,#d5e7f1,#d5e7f1,#c7e0ed,#b3d6e8,#a7d0e4,#a2cde3,#a2cde3,#a2cde3,#9bc9e0,#87beda,#75b2d4,#75b2d4,#84bcd9,#9bc9e0,#b1d5e7)"></i><i style="background:linear-gradient(90deg,#b3d6e8,#b8d8e9,#c2ddec,#cfe4ef,#d7e8f1,#d7e8f1,#cce2ef,#b8d8e9,#aed3e6,#acd2e5,#a9d1e5,#a9d1e5,#a5cee3,#90c4dd,#7bb6d6,#7bb6d6,#8ac0db,#a0cce2,#b3d6e8)"></i><i style="background:linear-gradient(90deg,#b8d8e9,#bddbea,#c7e0ed,#d1e5f0,#d8e9f1,#dae9f2,#d1e5f0,#c0dceb,#b3d6e8,#b3d6e8,#b3d6e8,#b3d6e8,#acd2e5,#96c7df,#81bad8,#7eb8d7,#8dc2dc,#a5cee3,#b8d8e9)"></i><i style="background:linear-gradient(90deg,#bddbea,#c2ddec,#cae1ee,#d2e6f0,#dae9f2,#dae9f2,#d2e6f0,#c5dfec,#bbdaea,#bbdaea,#bbdaea,#bbdaea,#b3d6e8,#9dcbe1,#87beda,#84bcd9,#93c6de,#a9d1e5,#bddbea)"></i><i style="background:linear-gradient(90deg,#c2ddec,#c7e0ed,#cfe4ef,#d4e6f1,#dae9f2,#dae9f2,#d5e7f1,#cae1ee,#c2ddec,#c2ddec,#c2ddec,#c5dfec,#bddbea,#a5cee3,#8dc2dc,#8ac0db,#98c8e0,#aed3e6,#c2ddec)"></i><i style="background:linear-gradient(90deg,#c7e0ed,#cce2ef,#d1e5f0,#d5e7f1,#d8e9f1,#dae9f2,#d5e7f1,#cfe4ef,#c7e0ed,#c7e0ed,#cce2ef,#cce2ef,#c5dfec,#a9d1e5,#93c6de,#90c4dd,#9dcbe1,#b3d6e8,#c7e0ed)"></i><i style="background:linear-gradient(90deg,#cce2ef,#d1e5f0,#d4e6f1,#d5e7f1,#d7e8f1,#d8e9f1,#d7e8f1,#d2e6f0,#cfe4ef,#cfe4ef,#d2e6f0,#d4e6f1,#cce2ef,#b1d5e7,#98c8e0,#96c7df,#a2cde3,#b8d8e9,#cce2ef)"></i><i style="background:linear-gradient(90deg,#d1e5f0,#d4e6f1,#d5e7f1,#d7e8f1,#d5e7f1,#d7e8f1,#d7e8f1,#d4e6f1,#d2e6f0,#d4e6f1,#d7e8f1,#d8e9f1,#d2e6f0,#b6d7e8,#9dcbe1,#9bc9e0,#a7d0e4,#c0dceb,#d1e5f0)"></i><i style="background:linear-gradient(90deg,#d5e7f1,#d7e8f1,#d8e9f1,#d7e8f1,#d4e6f1,#d5e7f1,#d8e9f1,#d7e8f1,#d7e8f1,#d8e9f1,#dbeaf2,#ddebf2,#d7e8f1,#bddbea,#a5cee3,#a0cce2,#aed3e6,#c5dfec,#d5e7f1)"></i><i style="background:linear-gradient(90deg,#d8e9f1,#dae9f2,#dae9f2,#d8e9f1,#d4e6f1,#d4e6f1,#d8e9f1,#dae9f2,#dae9f2,#dbeaf2,#deebf2,#e1edf3,#dbeaf2,#c5dfec,#a9d1e5,#a5cee3,#b3d6e8,#cae1ee,#d8e9f1)"></i><i style="background:linear-gradient(90deg,#dbeaf2,#ddebf2,#ddebf2,#d8e9f1,#d2e6f0,#d2e6f0,#dae9f2,#dbeaf2,#ddebf2,#e0ecf3,#e3edf3,#e4eef4,#e0ecf3,#cae1ee,#aed3e6,#a9d1e5,#b8d8e9,#d1e5f0,#dbeaf2)"></i><i style="background:linear-gradient(90deg,#e0ecf3,#e0ecf3,#deebf2,#dae9f2,#d2e6f0,#d2e6f0,#dae9f2,#deebf2,#e1edf3,#e3edf3,#e6eff4,#e9f0f4,#e3edf3,#cfe4ef,#b6d7e8,#b1d5e7,#c0dceb,#d4e6f1,#e0ecf3)"></i><i style="background:linear-gradient(90deg,#e3edf3,#e3edf3,#e1edf3,#dbeaf2,#d2e6f0,#d2e6f0,#dbeaf2,#e1edf3,#e4eef4,#e7f0f4,#e9f0f4,#eaf1f5,#e6eff4,#d4e6f1,#bbdaea,#b6d7e8,#c5dfec,#d7e8f1,#e3edf3)"></i><i style="background:linear-gradient(90deg,#e7f0f4,#e6eff4,#e4eef4,#ddebf2,#d4e6f1,#d4e6f1,#ddebf2,#e4eef4,#e7f0f4,#eaf1f5,#ecf2f5,#edf2f5,#e9f0f4,#d7e8f1,#c0dceb,#bddbea,#cce2ef,#dbeaf2,#e7f0f4)"></i><i style="background:linear-gradient(90deg,#eaf1f5,#eaf1f5,#e7f0f4,#e0ecf3,#d5e7f1,#d5e7f1,#deebf2,#e6eff4,#ecf2f5,#edf2f5,#edf2f5,#eff3f5,#ecf2f5,#dae9f2,#c7e0ed,#c5dfec,#d1e5f0,#deebf2,#eaf1f5)"></i><i style="background:linear-gradient(90deg,#edf2f5,#edf2f5,#e9f0f4,#e1edf3,#d8e9f1,#d7e8f1,#e0ecf3,#e9f0f4,#eff3f5,#f0f4f6,#f0f4f6,#f0f4f6,#edf2f5,#ddebf2,#cce2ef,#cae1ee,#d5e7f1,#e1edf3,#edf2f5)"></i><i style="background:linear-gradient(90deg,#f2f5f6,#f0f4f6,#ecf2f5,#e4eef4,#dae9f2,#dae9f2,#e3edf3,#ecf2f5,#f2f5f6,#f3f5f6,#f2f5f6,#f2f5f6,#f0f4f6,#e0ecf3,#d2e6f0,#d1e5f0,#d8e9f1,#e4eef4,#f2f5f6)"></i><i style="background:linear-gradient(90deg,#f5f6f7,#f5f6f7,#eff3f5,#e6eff4,#ddebf2,#dbeaf2,#e4eef4,#eff3f5,#f6f7f7,#f6f7f7,#f3f5f6,#f3f5f6,#f2f5f6,#e3edf3,#d7e8f1,#d5e7f1,#ddebf2,#e9f0f4,#f5f6f7)"></i><i style="background:linear-gradient(90deg,#f7f6f6,#f7f6f6,#f2f5f6,#e9f0f4,#e0ecf3,#deebf2,#e7f0f4,#f2f5f6,#f7f5f4,#f7f5f4,#f5f6f7,#f5f6f7,#f3f5f6,#e6eff4,#dae9f2,#dae9f2,#e0ecf3,#ecf2f5,#f7f6f6)"></i><i style="background:linear-gradient(90deg,#f8f3f0,#f8f4f2,#f5f6f7,#eaf1f5,#e3edf3,#e1edf3,#eaf1f5,#f6f7f7,#f8f2ef,#f8f3f0,#f6f7f7,#f5f6f7,#f5f6f7,#e9f0f4,#deebf2,#deebf2,#e4eef4,#eff3f5,#f8f3f0)"></i><i style="background:linear-gradient(90deg,#f8f1ed,#f8f1ed,#f6f7f7,#edf2f5,#e4eef4,#e4eef4,#ecf2f5,#f7f5f4,#f9f0eb,#f8f1ed,#f7f6f6,#f6f7f7,#f6f7f7,#ecf2f5,#e3edf3,#e1edf3,#e7f0f4,#f2f5f6,#f8f1ed)"></i><i style="background:linear-gradient(90deg,#f9efe9,#f9efe9,#f7f5f4,#eff3f5,#e6eff4,#e6eff4,#eff3f5,#f8f2ef,#f9ede5,#f9efe9,#f8f4f2,#f7f6f6,#f7f6f6,#eff3f5,#e6eff4,#e6eff4,#ecf2f5,#f5f6f7,#f9efe9)"></i><i style="background:linear-gradient(90deg,#f9ede5,#f9ede5,#f8f4f2,#eff3f5,#e7f0f4,#e9f0f4,#f2f5f6,#f9efe9,#fae9df,#f9ede5,#f8f3f0,#f7f5f4,#f7f5f4,#f2f5f6,#eaf1f5,#eaf1f5,#eff3f5,#f7f6f6,#f9ede5)"></i><i style="background:linear-gradient(90deg,#fae9df,#faeae1,#f8f2ef,#f0f4f6,#e9f0f4,#eaf1f5,#f5f6f7,#f9ebe3,#fbe6da,#fae9df,#f8f1ed,#f8f4f2,#f8f4f2,#f5f6f7,#eff3f5,#eff3f5,#f3f5f6,#f8f4f2,#fae9df)"></i><i style="background:linear-gradient(90deg,#fae7dc,#fae8de,#f8f1ed,#f2f5f6,#eaf1f5,#ecf2f5,#f7f5f4,#fae8de,#fbe3d4,#fae7dc,#f9f0eb,#f8f3f0,#f8f3f0,#f7f6f6,#f3f5f6,#f3f5f6,#f6f7f7,#f8f1ed,#fae7dc)"></i><i style="background:linear-gradient(90deg,#fbe5d8,#fbe6da,#f9f0eb,#f2f5f6,#eaf1f5,#edf2f5,#f8f3f0,#fbe5d8,#fcdfcf,#fbe5d8,#f9eee7,#f8f1ed,#f8f1ed,#f8f4f2,#f6f7f7,#f7f6f6,#f8f4f2,#f9efe9,#fbe5d8)"></i><i style="background:linear-gradient(90deg,#fbe3d4,#fbe4d6,#f9efe9,#f3f5f6,#ecf2f5,#f0f4f6,#f8f1ed,#fce2d2,#fddcc9,#fce2d2,#f9ebe3,#f9f0eb,#f9f0eb,#f8f2ef,#f8f4f2,#f8f4f2,#f8f2ef,#f9ede5,#fbe3d4)"></i><i style="background:linear-gradient(90deg,#fce0d0,#fce2d2,#f9ede5,#f3f5f6,#ecf2f5,#f2f5f6,#f9eee7,#fdddcb,#fcd5bf,#fcdfcf,#fae9df,#f9eee7,#f9efe9,#f9f0eb,#f8f1ed,#f8f1ed,#f9efe9,#faeae1,#fce0d0)"></i><i style="background:linear-gradient(90deg,#fcdecd,#fcdfcf,#f9ebe3,#f5f6f7,#edf2f5,#f3f5f6,#f9ebe3,#fdd9c4,#fbceb7,#fdddcb,#fae7dc,#f9ebe3,#f9ede5,#f9eee7,#f9eee7,#f9eee7,#f9ede5,#fae8de,#fcdecd)"></i><i style="background:linear-gradient(90deg,#fddcc9,#fcdecd,#faeae1,#f6f7f7,#eff3f5,#f6f7f7,#fae8de,#fcd3bc,#facab1,#fdd9c4,#fbe5d8,#faeae1,#faeae1,#faeae1,#f9ebe3,#f9ebe3,#fae9df,#fbe5d8,#fddcc9)"></i><i style="background:linear-gradient(90deg,#fdd9c4,#fddcc9,#fae9df,#f7f6f6,#eff3f5,#f7f5f4,#fbe5d8,#fbccb4,#f9c4a9,#fcd5bf,#fce2d2,#fae7dc,#fae8de,#fae8de,#fae8de,#fae8de,#fae7dc,#fbe3d4,#fddbc7)"></i><i style="background:linear-gradient(90deg,#fcd7c2,#fdd9c4,#fae7dc,#f7f5f4,#f2f5f6,#f8f3f0,#fce2d2,#f9c6ac,#f8bda1,#fbd0b9,#fcdfcf,#fbe5d8,#fbe6da,#fbe6da,#fbe6da,#fbe5d8,#fbe4d6,#fce0d0,#fcd7c2)"></i><i style="background:linear-gradient(90deg,#fcd5bf,#fcd5bf,#fbe6da,#f8f4f2,#f3f5f6,#f8f1ed,#fcdecd,#f8bfa4,#f7b99c,#fbccb4,#fdddcb,#fbe3d4,#fbe4d6,#fbe3d4,#fbe3d4,#fbe3d4,#fce2d2,#fcdecd,#fcd5bf)"></i><i style="background:linear-gradient(90deg,#fbd0b9,#fcd3bc,#fbe4d6,#f8f3f0,#f6f7f7,#f9efe9,#fddcc9,#f8bb9e,#f7b596,#f9c6ac,#fdd9c4,#fcdfcf,#fce0d0,#fce0d0,#fce0d0,#fcdfcf,#fcdecd,#fddbc7,#fbd0b9)"></i><i style="background:linear-gradient(90deg,#fbceb7,#fbceb7,#fbe3d4,#f8f1ed,#f7f5f4,#f9ede5,#fcd7c2,#f7b596,#f6b191,#f9c2a7,#fcd5bf,#fdddcb,#fcdecd,#fdddcb,#fdddcb,#fdddcb,#fddcc9,#fcd7c2,#fbceb7)"></i><i style="background:linear-gradient(90deg,#fbccb4,#facab1,#fce0d0,#f9efe9,#f8f3f0,#fae9df,#fbd0b9,#f6b191,#f5ac8b,#f8bda1,#fbd0b9,#fdd9c4,#fddbc7,#fddbc7,#fddbc7,#fddbc7,#fcd7c2,#fcd3bc,#fbccb4)"></i><i style="background:linear-gradient(90deg,#facab1,#fac8af,#fcdecd,#f9ede5,#f8f1ed,#fbe6da,#facab1,#f5ac8b,#f5a886,#f8bb9e,#facab1,#fcd5bf,#fcd7c2,#fcd5bf,#fcd5bf,#fcd5bf,#fcd3bc,#fbccb4,#facab1)"></i><i style="background:linear-gradient(90deg,#f9c6ac,#f9c4a9,#fddcc9,#fae9df,#f9eee7,#fbe3d4,#f9c4a9,#f5a886,#f4a683,#f7b799,#f9c6ac,#fbceb7,#fbd0b9,#fbd0b9,#fbd0b9,#fbd0b9,#fbccb4,#fac8af,#f9c6ac)"></i><i style="background:linear-gradient(90deg,#f9c4a9,#f8bfa4,#fcd7c2,#fbe6da,#fae9df,#fcdfcf,#f8bfa4,#f4a683,#f3a481,#f6b394,#f9c2a7,#fac8af,#facab1,#facab1,#facab1,#facab1,#fac8af,#f9c4a9,#f9c4a9)"></i><i style="background:linear-gradient(90deg,#f8bfa4,#f8bda1,#fcd3bc,#fbe3d4,#fbe5d8,#fddbc7,#f7b99c,#f2a17f,#f2a17f,#f6b191,#f8bb9e,#f9c4a9,#f9c6ac,#f9c6ac,#f9c6ac,#f9c6ac,#f9c2a7,#f8bfa4,#f8bfa4)"></i><i style="background:linear-gradient(90deg,#f8bb9e,#f7b99c,#fbccb4,#fcdecd,#fce0d0,#fcd5bf,#f7b596,#f2a17f,#f19e7d,#f5ac8b,#f7b799,#f8bda1,#f8bfa4,#f8bfa4,#f8bfa4,#f8bfa4,#f8bda1,#f7b99c,#f8bb9e)"></i><i style="background:linear-gradient(90deg,#f7b799,#f7b596,#f9c6ac,#fdd9c4,#fddcc9,#fbccb4,#f6b191,#f19e7d,#f19e7d,#f5aa89,#f6b394,#f7b99c,#f8bb9e,#f8bb9e,#f8bb9e,#f8bb9e,#f7b799,#f7b596,#f7b799)"></i><i style="background:linear-gradient(90deg,#f6b394,#f6b191,#f8bfa4,#fbceb7,#fcd3bc,#f9c4a9,#f5ac8b,#f09c7b,#f09c7b,#f5a886,#f6af8e,#f6b394,#f7b596,#f7b596,#f7b596,#f7b596,#f6b394,#f6b191,#f6b394)"></i><i style="background:linear-gradient(90deg,#f6af8e,#f5ac8b,#f7b799,#f9c4a9,#fac8af,#f8bb9e,#f5a886,#ef9979,#f09c7b,#f3a481,#f5aa89,#f6af8e,#f6af8e,#f6b191,#f6b191,#f6b191,#f6af8e,#f5ac8b,#f6af8e)"></i><i style="background:linear-gradient(90deg,#f5aa89,#f5a886,#f6b191,#f8bb9e,#f8bda1,#f6b394,#f3a481,#ef9979,#ef9979,#f2a17f,#f4a683,#f5a886,#f5aa89,#f5aa89,#f5aa89,#f5aa89,#f5a886,#f5a886,#f5aa89)"></i><i style="background:linear-gradient(90deg,#f3a481,#f2a17f,#f5a886,#f6b191,#f6b394,#f5aa89,#f19e7d,#ee9677,#ee9677,#f09c7b,#f2a17f,#f3a481,#f3a481,#f3a481,#f3a481,#f3a481,#f3a481,#f2a17f,#f3a481)"></i><i style="background:linear-gradient(90deg,#f09c7b,#f09c7b,#f2a17f,#f4a683,#f4a683,#f2a17f,#ef9979,#ec9374,#ec9374,#ee9677,#ef9979,#f09c7b,#f09c7b,#f09c7b,#f09c7b,#f09c7b,#f09c7b,#f09c7b,#f09c7b)"></i><i style="background:linear-gradient(90deg,#ec9374,#ec9374,#ee9677,#ef9979,#ef9979,#ee9677,#ec9374,#eb9172,#eb9172,#eb9172,#ec9374,#ec9374,#ec9374,#ec9374,#ec9374,#ec9374,#ec9374,#ec9374,#ec9374)"></i><i style="background:linear-gradient(90deg,#e98b6e,#e98b6e,#e98b6e,#ea8e70,#ea8e70,#e98b6e,#e98b6e,#e98b6e,#e98b6e,#e98b6e,#e98b6e,#e98b6e,#e98b6e,#e98b6e,#e98b6e,#e98b6e,#e98b6e,#e98b6e,#e98b6e)"></i><i style="background:linear-gradient(90deg,#e58368,#e58368,#e58368,#e48066,#e48066,#e58368,#e58368,#e6866a,#e58368,#e58368,#e58368,#e58368,#e58368,#e58368,#e58368,#e58368,#e58368,#e58368,#e58368)"></i><i style="background:linear-gradient(90deg,#e27b62,#e27b62,#e17860,#df765e,#df765e,#e17860,#e27b62,#e37e64,#e37e64,#e27b62,#e27b62,#e27b62,#e27b62,#e27b62,#e27b62,#e27b62,#e27b62,#e27b62,#e27b62)"></i><i style="background:linear-gradient(90deg,#dd7059,#dd7059,#dc6e57,#db6b55,#db6b55,#dc6e57,#de735c,#df765e,#df765e,#de735c,#dd7059,#dd7059,#dd7059,#dd7059,#dd7059,#dd7059,#dd7059,#dd7059,#dd7059)"></i><i style="background:linear-gradient(90deg,#d86551,#da6853,#d86551,#d7634f,#d6604d,#d7634f,#da6853,#db6b55,#db6b55,#da6853,#da6853,#da6853,#da6853,#d86551,#d86551,#d86551,#da6853,#da6853,#d86551)"></i><i style="background:linear-gradient(90deg,#d55d4c,#d55d4c,#d35a4a,#d25849,#d25849,#d35a4a,#d6604d,#d6604d,#d6604d,#d6604d,#d55d4c,#d55d4c,#d55d4c,#d55d4c,#d55d4c,#d55d4c,#d55d4c,#d55d4c,#d55d4c)"></i><i style="background:linear-gradient(90deg,#cf5246,#d05548,#cf5246,#ce4f45,#ce4f45,#cf5246,#d05548,#d25849,#d25849,#d05548,#d05548,#cf5246,#cf5246,#cf5246,#cf5246,#cf5246,#d05548,#d05548,#cf5246)"></i><i style="background:linear-gradient(90deg,#cb4942,#cb4942,#c94741,#c94741,#c94741,#c94741,#cb4942,#cc4c44,#cc4c44,#cb4942,#cb4942,#cb4942,#cb4942,#cb4942,#cb4942,#cb4942,#cb4942,#cb4942,#cb4942)"></i><i style="background:linear-gradient(90deg,#c53e3d,#c6413e,#c53e3d,#c53e3d,#c53e3d,#c53e3d,#c6413e,#c6413e,#c6413e,#c6413e,#c6413e,#c53e3d,#c53e3d,#c53e3d,#c53e3d,#c53e3d,#c53e3d,#c6413e,#c53e3d)"></i><i style="background:linear-gradient(90deg,#c13639,#c13639,#c13639,#c13639,#c13639,#c13639,#c13639,#c13639,#c13639,#c13639,#c13639,#c13639,#c13639,#c13639,#c13639,#c13639,#c13639,#c13639,#c13639)"></i><i style="background:linear-gradient(90deg,#bd2d35,#bd2d35,#bd2d35,#bd2d35,#bd2d35,#bd2d35,#bd2d35,#bd2d35,#bd2d35,#bd2d35,#bd2d35,#bd2d35,#bd2d35,#bd2d35,#bd2d35,#bd2d35,#bd2d35,#bd2d35,#bd2d35)"></i><i style="background:linear-gradient(90deg,#b82531,#b82531,#b82531,#b82531,#b82531,#b82531,#b82531,#b82531,#b82531,#b82531,#b82531,#b82531,#b82531,#b82531,#b82531,#b82531,#b82531,#b82531,#b82531)"></i><i style="background:linear-gradient(90deg,#b41c2d,#b41c2d,#b41c2d,#b61f2e,#b61f2e,#b61f2e,#b41c2d,#b41c2d,#b41c2d,#b41c2d,#b41c2d,#b41c2d,#b41c2d,#b41c2d,#b41c2d,#b41c2d,#b41c2d,#b41c2d,#b41c2d)"></i><i style="background:linear-gradient(90deg,#b1182b,#b1182b,#b1182b,#b1182b,#b1182b,#b1182b,#ae172a,#ae172a,#ae172a,#ae172a,#ae172a,#b1182b,#b1182b,#b1182b,#b1182b,#b1182b,#b1182b,#b1182b,#b1182b)"></i><i style="background:linear-gradient(90deg,#a81529,#a81529,#a81529,#ab162a,#ab162a,#a81529,#a81529,#a81529,#a81529,#a81529,#a81529,#a81529,#a81529,#a81529,#a81529,#a81529,#a81529,#a81529,#a81529)"></i><i style="background:linear-gradient(90deg,#a21328,#a21328,#a21328,#a21328,#a21328,#a21328,#a21328,#9f1228,#9f1228,#a21328,#a21328,#a21328,#a21328,#a21328,#a21328,#a21328,#a21328,#a21328,#a21328)"></i><i style="background:linear-gradient(90deg,#9c1127,#9c1127,#9c1127,#9c1127,#9c1127,#9c1127,#9c1127,#991027,#991027,#9c1127,#9c1127,#9c1127,#9c1127,#9c1127,#9c1127,#9c1127,#9c1127,#9c1127,#9c1127)"></i><i style="background:linear-gradient(90deg,#960f27,#960f27,#960f27,#960f27,#960f27,#960f27,#960f27,#930e26,#930e26,#960f27,#960f27,#960f27,#960f27,#960f27,#960f27,#960f27,#960f27,#960f27,#960f27)"></i><i style="background:linear-gradient(90deg,#900d26,#900d26,#900d26,#900d26,#900d26,#900d26,#900d26,#900d26,#900d26,#900d26,#900d26,#900d26,#900d26,#900d26,#900d26,#900d26,#900d26,#900d26,#900d26)"></i><i style="background:linear-gradient(90deg,#8a0b25,#8a0b25,#8a0b25,#8a0b25,#8a0b25,#8a0b25,#8a0b25,#8a0b25,#8a0b25,#8a0b25,#8a0b25,#8a0b25,#8a0b25,#8a0b25,#8a0b25,#8a0b25,#8a0b25,#8a0b25,#8a0b25)"></i><i style="background:linear-gradient(90deg,#870a24,#870a24,#870a24,#840924,#840924,#870a24,#870a24,#870a24,#870a24,#870a24,#870a24,#870a24,#870a24,#870a24,#870a24,#870a24,#870a24,#870a24,#870a24)"></i><i style="background:linear-gradient(90deg,#810823,#810823,#810823,#810823,#810823,#810823,#810823,#810823,#810823,#810823,#810823,#810823,#810823,#810823,#810823,#810823,#810823,#810823,#810823)"></i><i style="background:linear-gradient(90deg,#7f0823,#7f0823,#7f0823,#7c0722,#7c0722,#7f0823,#7f0823,#7f0823,#7f0823,#7f0823,#7f0823,#7f0823,#7f0823,#7f0823,#7f0823,#7f0823,#7f0823,#7f0823,#7f0823)"></i><i style="background:linear-gradient(90deg,#7c0722,#7c0722,#790622,#790622,#790622,#790622,#7c0722,#7c0722,#7c0722,#7c0722,#7c0722,#7c0722,#7c0722,#7c0722,#7c0722,#7c0722,#7c0722,#7c0722,#7c0722)"></i><i style="background:linear-gradient(90deg,#790622,#790622,#760521,#760521,#760521,#760521,#790622,#790622,#790622,#790622,#790622,#790622,#790622,#790622,#790622,#790622,#790622,#790622,#790622)"></i><i style="background:linear-gradient(90deg,#760521,#760521,#730421,#730421,#730421,#730421,#760521,#760521,#760521,#760521,#760521,#760521,#760521,#760521,#760521,#760521,#760521,#760521,#760521)"></i><i style="background:linear-gradient(90deg,#730421,#730421,#730421,#700320,#700320,#700320,#730421,#730421,#730421,#730421,#730421,#730421,#730421,#730421,#730421,#730421,#730421,#730421,#730421)"></i><i style="background:linear-gradient(90deg,#700320,#700320,#700320,#700320,#700320,#700320,#700320,#700320,#700320,#700320,#700320,#700320,#700320,#700320,#700320,#700320,#700320,#700320,#700320)"></i><i style="background:linear-gradient(90deg,#6d0220,#6d0220,#6d0220,#6d0220,#6d0220,#6d0220,#6d0220,#6d0220,#6d0220,#6d0220,#6d0220,#6d0220,#6d0220,#6d0220,#6d0220,#6d0220,#6d0220,#6d0220,#6d0220)"></i></div><svg class="ov" style="left:13px;top:186px" width="239" height="120" viewBox="-6.950 -2.150 239 120"><polyline points="0.00,55.35 1.87,54.38 3.74,53.41 5.61,52.44 7.49,51.48 9.36,50.54 11.23,49.60 13.10,48.68 14.97,47.78 16.84,46.91 18.72,46.05 20.59,45.22 22.46,44.42 24.33,43.64 26.20,42.90 28.07,42.20 29.95,41.53 31.82,40.90 33.69,40.30 35.56,39.75 37.43,39.24 39.30,38.78 41.18,38.36 43.05,37.99 44.92,37.66 46.79,37.38 48.66,37.16 50.53,36.98 52.41,36.85 54.28,36.78 56.15,36.75 58.02,36.78 59.89,36.85 61.76,36.98 63.64,37.16 65.51,37.38 67.38,37.66 69.25,37.99 71.12,38.36 72.99,38.78 74.87,39.24 76.74,39.75 78.61,40.30 80.48,40.90 82.35,41.53 84.22,42.20 86.10,42.90 87.97,43.64 89.84,44.42 91.71,45.22 93.58,46.05 95.45,46.91 97.33,47.78 99.20,48.68 101.07,49.60 102.94,50.54 104.81,51.48 106.68,52.44 108.56,53.41 110.43,54.38 112.30,55.35 114.17,56.32 116.04,57.29 117.91,58.26 119.79,59.22 121.66,60.16 123.53,61.10 125.40,62.02 127.27,62.92 129.14,63.79 131.02,64.65 132.89,65.48 134.76,66.28 136.63,67.06 138.50,67.80 140.38,68.50 142.25,69.17 144.12,69.80 145.99,70.40 147.86,70.95 149.73,71.46 151.60,71.92 153.48,72.34 155.35,72.71 157.22,73.04 159.09,73.32 160.96,73.54 162.83,73.72 164.71,73.85 166.58,73.92 168.45,73.95 170.32,73.92 172.19,73.85 174.06,73.72 175.94,73.54 177.81,73.32 179.68,73.04 181.55,72.71 183.42,72.34 185.29,71.92 187.17,71.46 189.04,70.95 190.91,70.40 192.78,69.80 194.65,69.17 196.52,68.50 198.40,67.80 200.27,67.06 202.14,66.28 204.01,65.48 205.88,64.65 207.75,63.79 209.63,62.92 211.50,62.02 213.37,61.10 215.24,60.16 217.11,59.22 218.98,58.26 220.86,57.29 222.73,56.32 224.60,55.35" fill="none" stroke="#1a1a1a" stroke-width="1.25" stroke-dasharray="1.2 1.4"/><line x1="0" y1="55.35" x2="224.60" y2="55.35" stroke="#1a1a1a" stroke-width="1.35" stroke-dasharray="3.3 2.03"/><rect x="0" y="0" width="224.60" height="111.60" fill="none" stroke="#222" stroke-width="0.85"/><line x1="0.00" y1="111.60" x2="0.00" y2="114.40" stroke="#222" stroke-width="0.9"/><line x1="31.19" y1="111.60" x2="31.19" y2="114.40" stroke="#222" stroke-width="0.9"/><line x1="62.39" y1="111.60" x2="62.39" y2="114.40" stroke="#222" stroke-width="0.9"/><line x1="93.58" y1="111.60" x2="93.58" y2="114.40" stroke="#222" stroke-width="0.9"/><line x1="124.78" y1="111.60" x2="124.78" y2="114.40" stroke="#222" stroke-width="0.9"/><line x1="155.97" y1="111.60" x2="155.97" y2="114.40" stroke="#222" stroke-width="0.9"/><line x1="187.17" y1="111.60" x2="187.17" y2="114.40" stroke="#222" stroke-width="0.9"/><line x1="218.36" y1="111.60" x2="218.36" y2="114.40" stroke="#222" stroke-width="0.9"/><line x1="0" y1="9.30" x2="-2.8" y2="9.30" stroke="#222" stroke-width="0.9"/><line x1="0" y1="24.80" x2="-2.8" y2="24.80" stroke="#222" stroke-width="0.9"/><line x1="0" y1="40.30" x2="-2.8" y2="40.30" stroke="#222" stroke-width="0.9"/><line x1="0" y1="55.80" x2="-2.8" y2="55.80" stroke="#222" stroke-width="0.9"/><line x1="0" y1="71.30" x2="-2.8" y2="71.30" stroke="#222" stroke-width="0.9"/><line x1="0" y1="86.80" x2="-2.8" y2="86.80" stroke="#222" stroke-width="0.9"/><line x1="0" y1="102.30" x2="-2.8" y2="102.30" stroke="#222" stroke-width="0.9"/></svg><span class="xl" style="left:-0.05px;top:302.45px">0</span><span class="xl" style="left:31.14px;top:302.45px">50</span><span class="xl" style="left:62.34px;top:302.45px">100</span><span class="xl" style="left:93.53px;top:302.45px">150</span><span class="xl" style="left:124.73px;top:302.45px">200</span><span class="xl" style="left:155.92px;top:302.45px">250</span><span class="xl" style="left:187.12px;top:302.45px">300</span><span class="xl" style="left:218.31px;top:302.45px">350</span><span class="yl" style="left:-24.45px;top:193.85px">75</span><span class="yl" style="left:-24.45px;top:209.35px">50</span><span class="yl" style="left:-24.45px;top:224.85px">25</span><span class="yl" style="left:-24.45px;top:240.35px">0</span><span class="yl" style="left:-24.45px;top:255.85px"><b class="m"></b>25</span><span class="yl" style="left:-24.45px;top:271.35px"><b class="m"></b>50</span><span class="yl" style="left:-24.45px;top:286.85px"><b class="m"></b>75</span><div class="tx" style="left:21.95px;top:189.55px">Ro = 0.5 Ro<sub>Sun</sub><br>Stellar minimum</div><div class="hm" style="left:277px;top:188px;width:225px;height:112px"><i style="background:linear-gradient(90deg,#67001f,#67001f,#67001f,#67001f,#67001f,#67001f,#67001f,#67001f,#67001f,#67001f,#67001f,#67001f,#67001f,#67001f,#67001f,#67001f,#67001f,#67001f,#67001f)"></i><i style="background:linear-gradient(90deg,#6d0220,#6d0220,#6d0220,#6d0220,#6d0220,#6d0220,#6d0220,#6d0220,#6d0220,#6d0220,#6d0220,#6d0220,#6d0220,#6a011f,#6a011f,#6a011f,#6d0220,#6d0220,#6d0220)"></i><i style="background:linear-gradient(90deg,#700320,#700320,#700320,#700320,#700320,#700320,#700320,#700320,#700320,#700320,#700320,#700320,#700320,#700320,#700320,#700320,#700320,#700320,#700320)"></i><i style="background:linear-gradient(90deg,#760521,#760521,#760521,#760521,#760521,#760521,#760521,#760521,#760521,#760521,#760521,#760521,#760521,#760521,#760521,#760521,#760521,#760521,#760521)"></i><i style="background:linear-gradient(90deg,#790622,#790622,#790622,#790622,#790622,#790622,#790622,#790622,#790622,#790622,#790622,#790622,#790622,#790622,#790622,#790622,#790622,#790622,#790622)"></i><i style="background:linear-gradient(90deg,#7f0823,#7f0823,#7f0823,#7f0823,#7f0823,#7f0823,#7f0823,#7f0823,#7f0823,#7f0823,#7f0823,#7f0823,#7f0823,#7f0823,#7f0823,#7f0823,#7f0823,#7f0823,#7f0823)"></i><i style="background:linear-gradient(90deg,#840924,#840924,#840924,#840924,#840924,#840924,#840924,#840924,#840924,#840924,#840924,#840924,#840924,#840924,#810823,#840924,#840924,#840924,#840924)"></i><i style="background:linear-gradient(90deg,#870a24,#870a24,#870a24,#870a24,#870a24,#870a24,#870a24,#870a24,#870a24,#870a24,#870a24,#870a24,#870a24,#870a24,#870a24,#870a24,#870a24,#870a24,#870a24)"></i><i style="background:linear-gradient(90deg,#8d0c25,#8d0c25,#8d0c25,#8d0c25,#8d0c25,#8d0c25,#8d0c25,#8d0c25,#8d0c25,#8d0c25,#8d0c25,#8d0c25,#8d0c25,#8d0c25,#8d0c25,#8d0c25,#8d0c25,#8d0c25,#8d0c25)"></i><i style="background:linear-gradient(90deg,#930e26,#930e26,#930e26,#930e26,#930e26,#930e26,#930e26,#930e26,#930e26,#930e26,#930e26,#930e26,#930e26,#930e26,#930e26,#930e26,#930e26,#930e26,#930e26)"></i><i style="background:linear-gradient(90deg,#991027,#991027,#991027,#991027,#991027,#991027,#991027,#991027,#991027,#991027,#991027,#991027,#991027,#991027,#991027,#991027,#991027,#991027,#991027)"></i><i style="background:linear-gradient(90deg,#9f1228,#9f1228,#9f1228,#9f1228,#9f1228,#9f1228,#9f1228,#9f1228,#9f1228,#9f1228,#9f1228,#9f1228,#9f1228,#9f1228,#9f1228,#9f1228,#9f1228,#9f1228,#9f1228)"></i><i style="background:linear-gradient(90deg,#a51429,#a51429,#a51429,#a51429,#a51429,#a51429,#a51429,#a51429,#a51429,#a51429,#a51429,#a51429,#a51429,#a51429,#a51429,#a51429,#a51429,#a51429,#a51429)"></i><i style="background:linear-gradient(90deg,#ab162a,#ab162a,#ab162a,#ab162a,#ab162a,#ab162a,#ab162a,#ab162a,#ab162a,#ab162a,#ab162a,#ab162a,#ab162a,#ab162a,#ab162a,#ab162a,#ab162a,#ab162a,#ab162a)"></i><i style="background:linear-gradient(90deg,#b1182b,#b1182b,#b1182b,#b1182b,#b1182b,#b1182b,#b1182b,#b1182b,#b1182b,#b1182b,#b1182b,#b1182b,#b1182b,#b1182b,#b1182b,#b1182b,#b1182b,#b1182b,#b1182b)"></i><i style="background:linear-gradient(90deg,#b41c2d,#b41c2d,#b41c2d,#b41c2d,#b41c2d,#b41c2d,#b41c2d,#b41c2d,#b41c2d,#b41c2d,#b41c2d,#b41c2d,#b41c2d,#b41c2d,#b61f2e,#b61f2e,#b41c2d,#b41c2d,#b41c2d)"></i><i style="background:linear-gradient(90deg,#b82531,#b82531,#b82531,#b82531,#b82531,#b82531,#b82531,#b82531,#b82531,#b82531,#b82531,#b82531,#b82531,#b82531,#b82531,#b82531,#b82531,#b82531,#b82531)"></i><i style="background:linear-gradient(90deg,#bb2a34,#bb2a34,#bb2a34,#bb2a34,#bb2a34,#bb2a34,#bb2a34,#bb2a34,#bb2a34,#bb2a34,#bb2a34,#bb2a34,#bb2a34,#bb2a34,#bb2a34,#bb2a34,#bb2a34,#bb2a34,#bb2a34)"></i><i style="background:linear-gradient(90deg,#bf3338,#bf3338,#bf3338,#bf3338,#bf3338,#bf3338,#bf3338,#bf3338,#bf3338,#bf3338,#bf3338,#bf3338,#bf3338,#bf3338,#bf3338,#bf3338,#bf3338,#bf3338,#bf3338)"></i><i style="background:linear-gradient(90deg,#c2383a,#c2383a,#c2383a,#c2383a,#c2383a,#c2383a,#c2383a,#c2383a,#c2383a,#c2383a,#c2383a,#c2383a,#c2383a,#c2383a,#c2383a,#c2383a,#c2383a,#c2383a,#c2383a)"></i><i style="background:linear-gradient(90deg,#c6413e,#c6413e,#c6413e,#c6413e,#c6413e,#c6413e,#c6413e,#c6413e,#c6413e,#c6413e,#c6413e,#c6413e,#c6413e,#c6413e,#c6413e,#c6413e,#c6413e,#c6413e,#c6413e)"></i><i style="background:linear-gradient(90deg,#cb4942,#cb4942,#cb4942,#cb4942,#cb4942,#cb4942,#cb4942,#cb4942,#cb4942,#cb4942,#cb4942,#cb4942,#cb4942,#cb4942,#cb4942,#cb4942,#cb4942,#cb4942,#cb4942)"></i><i style="background:linear-gradient(90deg,#cf5246,#cf5246,#cf5246,#cf5246,#cf5246,#cf5246,#cf5246,#cf5246,#cf5246,#cf5246,#cf5246,#cf5246,#cf5246,#cf5246,#ce4f45,#ce4f45,#cf5246,#cf5246,#cf5246)"></i><i style="background:linear-gradient(90deg,#d35a4a,#d35a4a,#d35a4a,#d35a4a,#d35a4a,#d35a4a,#d35a4a,#d35a4a,#d35a4a,#d35a4a,#d35a4a,#d35a4a,#d35a4a,#d35a4a,#d25849,#d25849,#d35a4a,#d35a4a,#d35a4a)"></i><i style="background:linear-gradient(90deg,#d86551,#d86551,#d86551,#d86551,#d86551,#d86551,#d86551,#d86551,#d7634f,#d7634f,#d7634f,#d7634f,#d7634f,#d7634f,#d6604d,#d6604d,#d7634f,#d7634f,#d86551)"></i><i style="background:linear-gradient(90deg,#dc6e57,#dc6e57,#dc6e57,#dc6e57,#dc6e57,#dc6e57,#dc6e57,#dc6e57,#dc6e57,#db6b55,#db6b55,#db6b55,#db6b55,#db6b55,#db6b55,#db6b55,#db6b55,#db6b55,#dc6e57)"></i><i style="background:linear-gradient(90deg,#df765e,#df765e,#df765e,#df765e,#df765e,#df765e,#df765e,#df765e,#df765e,#df765e,#de735c,#de735c,#de735c,#de735c,#de735c,#de735c,#de735c,#de735c,#df765e)"></i><i style="background:linear-gradient(90deg,#e37e64,#e37e64,#e37e64,#e37e64,#e37e64,#e37e64,#e37e64,#e37e64,#e37e64,#e37e64,#e37e64,#e37e64,#e37e64,#e37e64,#e27b62,#e37e64,#e37e64,#e37e64,#e37e64)"></i><i style="background:linear-gradient(90deg,#e6866a,#e6866a,#e6866a,#e6866a,#e6866a,#e6866a,#e6866a,#e6866a,#e6866a,#e6866a,#e6866a,#e6866a,#e6866a,#e6866a,#e6866a,#e6866a,#e6866a,#e6866a,#e6866a)"></i><i style="background:linear-gradient(90deg,#ea8e70,#ea8e70,#ea8e70,#ea8e70,#ea8e70,#ea8e70,#ea8e70,#ea8e70,#ea8e70,#ea8e70,#ea8e70,#ea8e70,#ea8e70,#eb9172,#eb9172,#eb9172,#eb9172,#ea8e70,#ea8e70)"></i><i style="background:linear-gradient(90deg,#ee9677,#ee9677,#ee9677,#ee9677,#ee9677,#ee9677,#ee9677,#ee9677,#ee9677,#ee9677,#ef9979,#ef9979,#ef9979,#f09c7b,#f09c7b,#f09c7b,#ef9979,#ef9979,#ee9677)"></i><i style="background:linear-gradient(90deg,#f09c7b,#f09c7b,#f09c7b,#f09c7b,#f09c7b,#f09c7b,#f09c7b,#f09c7b,#f19e7d,#f19e7d,#f2a17f,#f2a17f,#f2a17f,#f3a481,#f4a683,#f4a683,#f3a481,#f2a17f,#f09c7b)"></i><i style="background:linear-gradient(90deg,#f3a481,#f3a481,#f3a481,#f3a481,#f3a481,#f3a481,#f3a481,#f3a481,#f3a481,#f4a683,#f5a886,#f5aa89,#f5aa89,#f5ac8b,#f6af8e,#f6af8e,#f5ac8b,#f5a886,#f3a481)"></i><i style="background:linear-gradient(90deg,#f5aa89,#f5aa89,#f5aa89,#f5aa89,#f5aa89,#f5aa89,#f5aa89,#f5aa89,#f5aa89,#f5ac8b,#f6b191,#f6b191,#f6b191,#f7b596,#f7b799,#f7b799,#f7b596,#f6b191,#f5aa89)"></i><i style="background:linear-gradient(90deg,#f6b191,#f6b191,#f6b191,#f6b191,#f6b191,#f6b191,#f6b191,#f6af8e,#f6b191,#f6b394,#f7b799,#f7b799,#f7b99c,#f8bda1,#f8bfa4,#f8bfa4,#f8bb9e,#f7b799,#f6b191)"></i><i style="background:linear-gradient(90deg,#f7b596,#f7b596,#f7b596,#f7b596,#f7b596,#f7b596,#f7b596,#f7b596,#f7b799,#f7b99c,#f8bda1,#f8bfa4,#f8bfa4,#f9c6ac,#fac8af,#fac8af,#f9c4a9,#f8bda1,#f7b596)"></i><i style="background:linear-gradient(90deg,#f8bb9e,#f8bb9e,#f8bb9e,#f8bb9e,#f8bb9e,#f8bb9e,#f8bb9e,#f8bb9e,#f8bb9e,#f8bfa4,#f9c4a9,#f9c6ac,#fac8af,#fbccb4,#fbd0b9,#fbceb7,#facab1,#f9c4a9,#f8bb9e)"></i><i style="background:linear-gradient(90deg,#f8bfa4,#f8bfa4,#f9c2a7,#f8bfa4,#f8bfa4,#f9c2a7,#f8bfa4,#f8bfa4,#f9c2a7,#f9c6ac,#facab1,#fbccb4,#fbceb7,#fcd5bf,#fcd7c2,#fcd7c2,#fbd0b9,#facab1,#f8bfa4)"></i><i style="background:linear-gradient(90deg,#f9c6ac,#f9c6ac,#f9c6ac,#f9c6ac,#f9c6ac,#f9c6ac,#f9c6ac,#f9c6ac,#fac8af,#fbccb4,#fbd0b9,#fcd3bc,#fcd5bf,#fddbc7,#fdddcb,#fddcc9,#fdd9c4,#fbd0b9,#f9c6ac)"></i><i style="background:linear-gradient(90deg,#fbccb4,#fbccb4,#fbccb4,#fbccb4,#fbccb4,#fbccb4,#fbccb4,#fbccb4,#fbceb7,#fcd3bc,#fcd7c2,#fdd9c4,#fddbc7,#fcdecd,#fce0d0,#fcdfcf,#fddcc9,#fcd5bf,#fbccb4)"></i><i style="background:linear-gradient(90deg,#fbd0b9,#fbd0b9,#fbd0b9,#fbd0b9,#fbd0b9,#fbd0b9,#fbd0b9,#fbd0b9,#fcd3bc,#fcd7c2,#fddbc7,#fdddcb,#fcdecd,#fce2d2,#fbe4d6,#fbe3d4,#fcdfcf,#fddbc7,#fbd0b9)"></i><i style="background:linear-gradient(90deg,#fcd7c2,#fcd7c2,#fcd7c2,#fcd7c2,#fcd7c2,#fcd7c2,#fcd7c2,#fcd7c2,#fdd9c4,#fddcc9,#fcdecd,#fce0d0,#fce2d2,#fbe5d8,#fae7dc,#fbe6da,#fbe3d4,#fdddcb,#fcd7c2)"></i><i style="background:linear-gradient(90deg,#fddcc9,#fddcc9,#fddcc9,#fddcc9,#fddbc7,#fddcc9,#fddcc9,#fddbc7,#fddcc9,#fcdfcf,#fce2d2,#fbe3d4,#fbe5d8,#fae8de,#fae9df,#fae9df,#fbe5d8,#fcdfcf,#fddcc9)"></i><i style="background:linear-gradient(90deg,#fcdecd,#fcdecd,#fcdecd,#fcdecd,#fcdecd,#fcdecd,#fcdecd,#fcdecd,#fcdfcf,#fce2d2,#fbe4d6,#fbe6da,#fae8de,#faeae1,#f9ede5,#f9ebe3,#fae7dc,#fce2d2,#fcdecd)"></i><i style="background:linear-gradient(90deg,#fce0d0,#fce0d0,#fce0d0,#fce0d0,#fce0d0,#fce0d0,#fce0d0,#fce0d0,#fce2d2,#fbe4d6,#fbe6da,#fae8de,#faeae1,#f9ede5,#f9efe9,#f9eee7,#fae9df,#fbe4d6,#fce0d0)"></i><i style="background:linear-gradient(90deg,#fbe4d6,#fbe4d6,#fbe4d6,#fbe4d6,#fbe4d6,#fbe4d6,#fbe4d6,#fbe3d4,#fbe4d6,#fbe6da,#fae8de,#faeae1,#f9eee7,#f9f0eb,#f8f1ed,#f9f0eb,#f9ebe3,#fbe6da,#fbe4d6)"></i><i style="background:linear-gradient(90deg,#fbe6da,#fbe6da,#fbe6da,#fbe6da,#fbe6da,#fbe6da,#fbe6da,#fbe6da,#fae7dc,#fae8de,#faeae1,#f9ede5,#f9f0eb,#f8f2ef,#f8f3f0,#f8f2ef,#f9eee7,#fae8de,#fbe6da)"></i><i style="background:linear-gradient(90deg,#fae8de,#fae8de,#fae8de,#fae8de,#fae8de,#fae8de,#fae8de,#fae8de,#fae9df,#faeae1,#f9ede5,#f9efe9,#f8f2ef,#f8f4f2,#f7f5f4,#f8f4f2,#f9f0eb,#faeae1,#fae8de)"></i><i style="background:linear-gradient(90deg,#faeae1,#faeae1,#faeae1,#faeae1,#faeae1,#faeae1,#faeae1,#faeae1,#faeae1,#f9ede5,#f9efe9,#f8f1ed,#f8f4f2,#f7f5f4,#f7f6f6,#f7f6f6,#f8f2ef,#f9ede5,#faeae1)"></i><i style="background:linear-gradient(90deg,#f9ede5,#f9ede5,#f9ede5,#f9ede5,#f9ede5,#f9ede5,#f9ede5,#f9ede5,#f9ede5,#f9eee7,#f9f0eb,#f8f3f0,#f7f5f4,#f6f7f7,#f5f6f7,#f6f7f7,#f8f4f2,#f9efe9,#f9ede5)"></i><i style="background:linear-gradient(90deg,#f9eee7,#f9eee7,#f9eee7,#f9eee7,#f9eee7,#f9eee7,#f9eee7,#f9eee7,#f9efe9,#f9f0eb,#f8f1ed,#f8f4f2,#f6f7f7,#f5f6f7,#f3f5f6,#f3f5f6,#f7f5f4,#f8f1ed,#f9eee7)"></i><i style="background:linear-gradient(90deg,#f9f0eb,#f9f0eb,#f9f0eb,#f9f0eb,#f9f0eb,#f9f0eb,#f9f0eb,#f9f0eb,#f9f0eb,#f8f1ed,#f8f3f0,#f7f6f6,#f5f6f7,#f2f5f6,#f0f4f6,#f2f5f6,#f6f7f7,#f8f2ef,#f9f0eb)"></i><i style="background:linear-gradient(90deg,#f8f2ef,#f8f2ef,#f8f2ef,#f8f2ef,#f8f2ef,#f8f2ef,#f8f2ef,#f8f2ef,#f8f2ef,#f8f2ef,#f8f4f2,#f6f7f7,#f2f5f6,#f0f4f6,#eff3f5,#f0f4f6,#f5f6f7,#f8f4f2,#f8f2ef)"></i><i style="background:linear-gradient(90deg,#f8f3f0,#f8f3f0,#f8f3f0,#f8f3f0,#f8f3f0,#f8f3f0,#f8f3f0,#f8f3f0,#f8f3f0,#f8f4f2,#f7f5f4,#f5f6f7,#f0f4f6,#eff3f5,#edf2f5,#eff3f5,#f3f5f6,#f7f5f4,#f8f3f0)"></i><i style="background:linear-gradient(90deg,#f7f5f4,#f7f5f4,#f7f5f4,#f7f5f4,#f7f5f4,#f7f5f4,#f7f5f4,#f7f5f4,#f8f4f2,#f7f5f4,#f7f6f6,#f3f5f6,#eff3f5,#edf2f5,#ecf2f5,#edf2f5,#f2f5f6,#f6f7f7,#f7f5f4)"></i><i style="background:linear-gradient(90deg,#f7f6f6,#f7f6f6,#f7f6f6,#f7f6f6,#f7f6f6,#f7f6f6,#f7f6f6,#f7f6f6,#f7f6f6,#f7f6f6,#f6f7f7,#f2f5f6,#edf2f5,#ecf2f5,#ecf2f5,#ecf2f5,#f0f4f6,#f5f6f7,#f7f6f6)"></i><i style="background:linear-gradient(90deg,#f6f7f7,#f6f7f7,#f6f7f7,#f6f7f7,#f6f7f7,#f6f7f7,#f6f7f7,#f6f7f7,#f6f7f7,#f6f7f7,#f3f5f6,#f0f4f6,#edf2f5,#ecf2f5,#eaf1f5,#ecf2f5,#eff3f5,#f3f5f6,#f6f7f7)"></i><i style="background:linear-gradient(90deg,#f3f5f6,#f3f5f6,#f3f5f6,#f3f5f6,#f3f5f6,#f3f5f6,#f3f5f6,#f3f5f6,#f5f6f7,#f5f6f7,#f2f5f6,#eff3f5,#ecf2f5,#eaf1f5,#eaf1f5,#eaf1f5,#edf2f5,#f2f5f6,#f3f5f6)"></i><i style="background:linear-gradient(90deg,#f2f5f6,#f2f5f6,#f2f5f6,#f2f5f6,#f2f5f6,#f2f5f6,#f2f5f6,#f2f5f6,#f2f5f6,#f2f5f6,#f0f4f6,#edf2f5,#ecf2f5,#eaf1f5,#eaf1f5,#eaf1f5,#ecf2f5,#eff3f5,#f2f5f6)"></i><i style="background:linear-gradient(90deg,#f0f4f6,#f0f4f6,#f0f4f6,#f0f4f6,#f0f4f6,#f0f4f6,#f0f4f6,#f0f4f6,#f0f4f6,#f0f4f6,#eff3f5,#ecf2f5,#eaf1f5,#e9f0f4,#e9f0f4,#e9f0f4,#ecf2f5,#edf2f5,#f0f4f6)"></i><i style="background:linear-gradient(90deg,#edf2f5,#edf2f5,#edf2f5,#edf2f5,#edf2f5,#edf2f5,#edf2f5,#edf2f5,#edf2f5,#eff3f5,#edf2f5,#ecf2f5,#e9f0f4,#e9f0f4,#e9f0f4,#e9f0f4,#eaf1f5,#ecf2f5,#edf2f5)"></i><i style="background:linear-gradient(90deg,#ecf2f5,#ecf2f5,#ecf2f5,#ecf2f5,#ecf2f5,#ecf2f5,#ecf2f5,#ecf2f5,#ecf2f5,#ecf2f5,#eaf1f5,#e9f0f4,#e9f0f4,#e7f0f4,#e7f0f4,#e7f0f4,#e9f0f4,#eaf1f5,#ecf2f5)"></i><i style="background:linear-gradient(90deg,#e9f0f4,#e9f0f4,#e9f0f4,#e9f0f4,#e9f0f4,#e9f0f4,#e9f0f4,#e9f0f4,#e9f0f4,#e9f0f4,#e9f0f4,#e7f0f4,#e6eff4,#e6eff4,#e6eff4,#e6eff4,#e7f0f4,#e7f0f4,#e9f0f4)"></i><i style="background:linear-gradient(90deg,#e6eff4,#e6eff4,#e6eff4,#e6eff4,#e6eff4,#e6eff4,#e6eff4,#e6eff4,#e6eff4,#e6eff4,#e6eff4,#e6eff4,#e4eef4,#e4eef4,#e4eef4,#e4eef4,#e4eef4,#e6eff4,#e6eff4)"></i><i style="background:linear-gradient(90deg,#e3edf3,#e3edf3,#e3edf3,#e3edf3,#e3edf3,#e3edf3,#e3edf3,#e3edf3,#e3edf3,#e3edf3,#e3edf3,#e3edf3,#e3edf3,#e3edf3,#e3edf3,#e3edf3,#e3edf3,#e3edf3,#e3edf3)"></i><i style="background:linear-gradient(90deg,#e0ecf3,#e0ecf3,#e0ecf3,#e0ecf3,#e0ecf3,#e0ecf3,#e0ecf3,#e0ecf3,#e0ecf3,#deebf2,#e0ecf3,#e0ecf3,#e0ecf3,#e0ecf3,#e0ecf3,#e0ecf3,#e0ecf3,#e0ecf3,#e0ecf3)"></i><i style="background:linear-gradient(90deg,#dbeaf2,#dbeaf2,#dbeaf2,#dbeaf2,#dbeaf2,#dbeaf2,#dbeaf2,#dbeaf2,#dbeaf2,#dbeaf2,#dbeaf2,#dbeaf2,#dbeaf2,#dbeaf2,#dbeaf2,#dbeaf2,#dbeaf2,#dbeaf2,#dbeaf2)"></i><i style="background:linear-gradient(90deg,#d7e8f1,#d7e8f1,#d7e8f1,#d7e8f1,#d7e8f1,#d7e8f1,#d7e8f1,#d7e8f1,#d7e8f1,#d7e8f1,#d7e8f1,#d7e8f1,#d7e8f1,#d7e8f1,#d8e9f1,#d8e9f1,#d7e8f1,#d7e8f1,#d7e8f1)"></i><i style="background:linear-gradient(90deg,#d2e6f0,#d2e6f0,#d2e6f0,#d2e6f0,#d2e6f0,#d2e6f0,#d2e6f0,#d2e6f0,#d2e6f0,#d2e6f0,#d2e6f0,#d2e6f0,#d2e6f0,#d2e6f0,#d2e6f0,#d2e6f0,#d2e6f0,#d2e6f0,#d2e6f0)"></i><i style="background:linear-gradient(90deg,#cae1ee,#cae1ee,#cae1ee,#cae1ee,#cae1ee,#cae1ee,#cae1ee,#cae1ee,#cae1ee,#cae1ee,#cce2ef,#cce2ef,#cce2ef,#cce2ef,#cce2ef,#cce2ef,#cce2ef,#cce2ef,#cae1ee)"></i><i style="background:linear-gradient(90deg,#c2ddec,#c2ddec,#c2ddec,#c2ddec,#c2ddec,#c2ddec,#c2ddec,#c2ddec,#c2ddec,#c2ddec,#c2ddec,#c2ddec,#c5dfec,#c5dfec,#c5dfec,#c5dfec,#c5dfec,#c2ddec,#c2ddec)"></i><i style="background:linear-gradient(90deg,#bbdaea,#bbdaea,#bbdaea,#bbdaea,#bbdaea,#bbdaea,#bbdaea,#bbdaea,#bbdaea,#bbdaea,#bbdaea,#bbdaea,#bbdaea,#bbdaea,#bbdaea,#bbdaea,#bbdaea,#bbdaea,#bbdaea)"></i><i style="background:linear-gradient(90deg,#b1d5e7,#b1d5e7,#b1d5e7,#b1d5e7,#b1d5e7,#b1d5e7,#b1d5e7,#b1d5e7,#b1d5e7,#b1d5e7,#b1d5e7,#b3d6e8,#b3d6e8,#b3d6e8,#b3d6e8,#b3d6e8,#b3d6e8,#b1d5e7,#b1d5e7)"></i><i style="background:linear-gradient(90deg,#a9d1e5,#a9d1e5,#a9d1e5,#a9d1e5,#a9d1e5,#a9d1e5,#a9d1e5,#a9d1e5,#a9d1e5,#a9d1e5,#a9d1e5,#a9d1e5,#a9d1e5,#a9d1e5,#a9d1e5,#a9d1e5,#a9d1e5,#a9d1e5,#a9d1e5)"></i><i style="background:linear-gradient(90deg,#a2cde3,#a2cde3,#a2cde3,#a2cde3,#a2cde3,#a2cde3,#a2cde3,#a2cde3,#a2cde3,#a2cde3,#a2cde3,#a2cde3,#a2cde3,#a2cde3,#a2cde3,#a2cde3,#a2cde3,#a2cde3,#a2cde3)"></i><i style="background:linear-gradient(90deg,#9bc9e0,#9bc9e0,#9bc9e0,#9bc9e0,#9bc9e0,#9bc9e0,#9bc9e0,#9bc9e0,#9bc9e0,#9bc9e0,#9bc9e0,#9bc9e0,#9bc9e0,#9bc9e0,#9bc9e0,#9bc9e0,#9bc9e0,#9bc9e0,#9bc9e0)"></i><i style="background:linear-gradient(90deg,#93c6de,#93c6de,#93c6de,#93c6de,#93c6de,#93c6de,#93c6de,#93c6de,#93c6de,#93c6de,#93c6de,#93c6de,#93c6de,#93c6de,#93c6de,#93c6de,#93c6de,#93c6de,#93c6de)"></i><i style="background:linear-gradient(90deg,#8ac0db,#8ac0db,#8ac0db,#8ac0db,#8ac0db,#8ac0db,#8ac0db,#8ac0db,#8ac0db,#8ac0db,#8ac0db,#8ac0db,#8ac0db,#8ac0db,#8ac0db,#8ac0db,#8ac0db,#8ac0db,#8ac0db)"></i><i style="background:linear-gradient(90deg,#81bad8,#81bad8,#81bad8,#81bad8,#81bad8,#81bad8,#81bad8,#81bad8,#81bad8,#81bad8,#81bad8,#81bad8,#81bad8,#81bad8,#81bad8,#81bad8,#81bad8,#81bad8,#81bad8)"></i><i style="background:linear-gradient(90deg,#7bb6d6,#7bb6d6,#7bb6d6,#7bb6d6,#7bb6d6,#7bb6d6,#7bb6d6,#7bb6d6,#7bb6d6,#7bb6d6,#7bb6d6,#7bb6d6,#7bb6d6,#7bb6d6,#78b4d5,#78b4d5,#7bb6d6,#7bb6d6,#7bb6d6)"></i><i style="background:linear-gradient(90deg,#71b0d3,#71b0d3,#71b0d3,#71b0d3,#71b0d3,#71b0d3,#71b0d3,#71b0d3,#71b0d3,#71b0d3,#71b0d3,#71b0d3,#71b0d3,#71b0d3,#71b0d3,#71b0d3,#71b0d3,#71b0d3,#71b0d3)"></i><i style="background:linear-gradient(90deg,#68abd0,#68abd0,#68abd0,#68abd0,#68abd0,#68abd0,#68abd0,#68abd0,#68abd0,#68abd0,#68abd0,#68abd0,#68abd0,#68abd0,#68abd0,#68abd0,#68abd0,#68abd0,#68abd0)"></i><i style="background:linear-gradient(90deg,#62a7ce,#62a7ce,#62a7ce,#62a7ce,#62a7ce,#62a7ce,#62a7ce,#62a7ce,#62a7ce,#62a7ce,#62a7ce,#62a7ce,#62a7ce,#62a7ce,#62a7ce,#62a7ce,#62a7ce,#62a7ce,#62a7ce)"></i><i style="background:linear-gradient(90deg,#59a1ca,#59a1ca,#59a1ca,#59a1ca,#59a1ca,#59a1ca,#59a1ca,#59a1ca,#59a1ca,#59a1ca,#59a1ca,#59a1ca,#59a1ca,#59a1ca,#59a1ca,#59a1ca,#59a1ca,#59a1ca,#59a1ca)"></i><i style="background:linear-gradient(90deg,#4f9bc7,#4f9bc7,#4f9bc7,#4f9bc7,#4f9bc7,#4f9bc7,#4f9bc7,#4f9bc7,#4f9bc7,#4f9bc7,#4f9bc7,#4f9bc7,#4f9bc7,#4f9bc7,#4f9bc7,#4f9bc7,#4f9bc7,#4f9bc7,#4f9bc7)"></i><i style="background:linear-gradient(90deg,#4695c4,#4695c4,#4695c4,#4695c4,#4695c4,#4695c4,#4695c4,#4695c4,#4695c4,#4695c4,#4695c4,#4695c4,#4997c5,#4997c5,#4997c5,#4997c5,#4695c4,#4695c4,#4695c4)"></i><i style="background:linear-gradient(90deg,#4291c2,#4291c2,#4291c2,#4291c2,#4291c2,#4291c2,#4291c2,#4291c2,#4291c2,#4291c2,#4291c2,#4291c2,#4291c2,#4291c2,#4291c2,#4291c2,#4291c2,#4291c2,#4291c2)"></i><i style="background:linear-gradient(90deg,#3e8cbf,#3e8cbf,#3e8cbf,#3e8cbf,#3e8cbf,#3e8cbf,#3e8cbf,#3e8cbf,#3e8cbf,#3e8cbf,#3e8cbf,#3e8cbf,#3e8cbf,#3e8cbf,#3e8cbf,#3e8cbf,#3e8cbf,#3e8cbf,#3e8cbf)"></i><i style="background:linear-gradient(90deg,#3a87bd,#3a87bd,#3a87bd,#3a87bd,#3a87bd,#3a87bd,#3a87bd,#3a87bd,#3a87bd,#3a87bd,#3a87bd,#3a87bd,#3a87bd,#3a87bd,#3a87bd,#3a87bd,#3a87bd,#3a87bd,#3a87bd)"></i><i style="background:linear-gradient(90deg,#3681ba,#3681ba,#3681ba,#3681ba,#3681ba,#3681ba,#3681ba,#3681ba,#3681ba,#3681ba,#3681ba,#3681ba,#3681ba,#3681ba,#3681ba,#3681ba,#3681ba,#3681ba,#3681ba)"></i><i style="background:linear-gradient(90deg,#327cb7,#327cb7,#327cb7,#327cb7,#327cb7,#327cb7,#327cb7,#327cb7,#327cb7,#327cb7,#327cb7,#327cb7,#327cb7,#327cb7,#327cb7,#327cb7,#327cb7,#327cb7,#327cb7)"></i><i style="background:linear-gradient(90deg,#2f79b5,#2f79b5,#2f79b5,#2f79b5,#2f79b5,#2f79b5,#2f79b5,#2f79b5,#2f79b5,#2f79b5,#2f79b5,#2f79b5,#2f79b5,#2f79b5,#2f79b5,#2f79b5,#2f79b5,#2f79b5,#2f79b5)"></i><i style="background:linear-gradient(90deg,#2b73b3,#2b73b3,#2b73b3,#2b73b3,#2b73b3,#2b73b3,#2b73b3,#2b73b3,#2b73b3,#2b73b3,#2b73b3,#2b73b3,#2b73b3,#2b73b3,#2b73b3,#2b73b3,#2b73b3,#2b73b3,#2b73b3)"></i><i style="background:linear-gradient(90deg,#2870b1,#2870b1,#2870b1,#2870b1,#2870b1,#2870b1,#2870b1,#2870b1,#2870b1,#2870b1,#2870b1,#2870b1,#2870b1,#2870b1,#2870b1,#2870b1,#2870b1,#2870b1,#2870b1)"></i><i style="background:linear-gradient(90deg,#246aae,#246aae,#246aae,#246aae,#246aae,#246aae,#246aae,#246aae,#246aae,#246aae,#246aae,#246aae,#246aae,#246aae,#246aae,#246aae,#246aae,#246aae,#246aae)"></i><i style="background:linear-gradient(90deg,#2267ac,#2267ac,#2267ac,#2267ac,#2267ac,#2267ac,#2267ac,#2267ac,#2267ac,#2267ac,#2267ac,#2267ac,#2267ac,#2267ac,#2267ac,#2267ac,#2267ac,#2267ac,#2267ac)"></i><i style="background:linear-gradient(90deg,#1f63a8,#1f63a8,#1f63a8,#1f63a8,#1f63a8,#1f63a8,#1f63a8,#1f63a8,#1f63a8,#1f63a8,#1f63a8,#1f63a8,#1f63a8,#1f63a8,#1f63a8,#1f63a8,#1f63a8,#1f63a8,#1f63a8)"></i><i style="background:linear-gradient(90deg,#1e61a5,#1e61a5,#1e61a5,#1e61a5,#1e61a5,#1e61a5,#1e61a5,#1e61a5,#1e61a5,#1e61a5,#1e61a5,#1e61a5,#1e61a5,#1e61a5,#1e61a5,#1e61a5,#1e61a5,#1e61a5,#1e61a5)"></i><i style="background:linear-gradient(90deg,#1c5c9f,#1c5c9f,#1c5c9f,#1c5c9f,#1c5c9f,#1c5c9f,#1c5c9f,#1c5c9f,#1c5c9f,#1c5c9f,#1c5c9f,#1c5c9f,#1c5c9f,#1c5c9f,#1c5c9f,#1c5c9f,#1c5c9f,#1c5c9f,#1c5c9f)"></i><i style="background:linear-gradient(90deg,#1a5899,#1a5899,#1a5899,#1a5899,#1a5899,#1a5899,#1a5899,#1a5899,#1a5899,#1a5899,#1a5899,#1a5899,#1a5899,#1a5899,#1a5899,#1a5899,#1a5899,#1a5899,#1a5899)"></i><i style="background:linear-gradient(90deg,#195696,#195696,#195696,#195696,#195696,#195696,#195696,#195696,#195696,#195696,#195696,#195696,#195696,#195696,#195696,#195696,#195696,#195696,#195696)"></i><i style="background:linear-gradient(90deg,#175290,#175290,#175290,#175290,#175290,#175290,#175290,#175290,#175290,#175290,#175290,#175290,#175290,#175290,#175290,#175290,#175290,#175290,#175290)"></i><i style="background:linear-gradient(90deg,#15508d,#15508d,#15508d,#15508d,#15508d,#15508d,#15508d,#15508d,#15508d,#15508d,#15508d,#15508d,#15508d,#15508d,#15508d,#15508d,#15508d,#15508d,#15508d)"></i><i style="background:linear-gradient(90deg,#134c87,#134c87,#134c87,#134c87,#134c87,#134c87,#134c87,#134c87,#134c87,#134c87,#134c87,#134c87,#134c87,#134c87,#134c87,#134c87,#134c87,#134c87,#134c87)"></i><i style="background:linear-gradient(90deg,#124984,#124984,#124984,#124984,#124984,#124984,#124984,#124984,#124984,#124984,#124984,#124984,#124984,#124984,#124984,#124984,#124984,#124984,#124984)"></i><i style="background:linear-gradient(90deg,#114781,#114781,#114781,#114781,#114781,#114781,#114781,#114781,#114781,#114781,#114781,#114781,#114781,#114781,#114781,#114781,#114781,#114781,#114781)"></i><i style="background:linear-gradient(90deg,#10457e,#10457e,#10457e,#10457e,#10457e,#10457e,#10457e,#10457e,#10457e,#10457e,#10457e,#10457e,#10457e,#10457e,#10457e,#10457e,#10457e,#10457e,#10457e)"></i><i style="background:linear-gradient(90deg,#0f437b,#0f437b,#0f437b,#0f437b,#0f437b,#0f437b,#0f437b,#0f437b,#0f437b,#0f437b,#0f437b,#0f437b,#0f437b,#0f437b,#0f437b,#0f437b,#0f437b,#0f437b,#0f437b)"></i><i style="background:linear-gradient(90deg,#0d3f76,#0d3f76,#0d3f76,#0d3f76,#0d3f76,#0d3f76,#0d3f76,#0d3f76,#0d3f76,#0d3f76,#0d3f76,#0d3f76,#0d3f76,#0d3f76,#0d3f76,#0d3f76,#0d3f76,#0d3f76,#0d3f76)"></i><i style="background:linear-gradient(90deg,#0c3d73,#0c3d73,#0c3d73,#0c3d73,#0c3d73,#0c3d73,#0c3d73,#0c3d73,#0c3d73,#0c3d73,#0c3d73,#0c3d73,#0c3d73,#0c3d73,#0c3d73,#0c3d73,#0c3d73,#0c3d73,#0c3d73)"></i><i style="background:linear-gradient(90deg,#0a3b70,#0a3b70,#0a3b70,#0a3b70,#0a3b70,#0a3b70,#0a3b70,#0a3b70,#0a3b70,#0a3b70,#0a3b70,#0a3b70,#0a3b70,#0a3b70,#0a3b70,#0a3b70,#0a3b70,#0a3b70,#0a3b70)"></i><i style="background:linear-gradient(90deg,#09386d,#09386d,#09386d,#09386d,#09386d,#09386d,#09386d,#09386d,#09386d,#09386d,#09386d,#09386d,#09386d,#09386d,#09386d,#09386d,#09386d,#09386d,#09386d)"></i></div><svg class="ov" style="left:270px;top:186px" width="239" height="120" viewBox="-6.950 -2.150 239 120"><polyline points="0.00,55.35 1.87,54.38 3.74,53.41 5.61,52.44 7.49,51.48 9.36,50.54 11.23,49.60 13.10,48.68 14.97,47.78 16.84,46.91 18.72,46.05 20.59,45.22 22.46,44.42 24.33,43.64 26.20,42.90 28.07,42.20 29.95,41.53 31.82,40.90 33.69,40.30 35.56,39.75 37.43,39.24 39.30,38.78 41.18,38.36 43.05,37.99 44.92,37.66 46.79,37.38 48.66,37.16 50.53,36.98 52.41,36.85 54.28,36.78 56.15,36.75 58.02,36.78 59.89,36.85 61.76,36.98 63.64,37.16 65.51,37.38 67.38,37.66 69.25,37.99 71.12,38.36 72.99,38.78 74.87,39.24 76.74,39.75 78.61,40.30 80.48,40.90 82.35,41.53 84.22,42.20 86.10,42.90 87.97,43.64 89.84,44.42 91.71,45.22 93.58,46.05 95.45,46.91 97.33,47.78 99.20,48.68 101.07,49.60 102.94,50.54 104.81,51.48 106.68,52.44 108.56,53.41 110.43,54.38 112.30,55.35 114.17,56.32 116.04,57.29 117.91,58.26 119.79,59.22 121.66,60.16 123.53,61.10 125.40,62.02 127.27,62.92 129.14,63.79 131.02,64.65 132.89,65.48 134.76,66.28 136.63,67.06 138.50,67.80 140.38,68.50 142.25,69.17 144.12,69.80 145.99,70.40 147.86,70.95 149.73,71.46 151.60,71.92 153.48,72.34 155.35,72.71 157.22,73.04 159.09,73.32 160.96,73.54 162.83,73.72 164.71,73.85 166.58,73.92 168.45,73.95 170.32,73.92 172.19,73.85 174.06,73.72 175.94,73.54 177.81,73.32 179.68,73.04 181.55,72.71 183.42,72.34 185.29,71.92 187.17,71.46 189.04,70.95 190.91,70.40 192.78,69.80 194.65,69.17 196.52,68.50 198.40,67.80 200.27,67.06 202.14,66.28 204.01,65.48 205.88,64.65 207.75,63.79 209.63,62.92 211.50,62.02 213.37,61.10 215.24,60.16 217.11,59.22 218.98,58.26 220.86,57.29 222.73,56.32 224.60,55.35" fill="none" stroke="#1a1a1a" stroke-width="1.25" stroke-dasharray="1.2 1.4"/><line x1="0" y1="55.35" x2="224.60" y2="55.35" stroke="#1a1a1a" stroke-width="1.35" stroke-dasharray="3.3 2.03"/><rect x="0" y="0" width="224.60" height="111.60" fill="none" stroke="#222" stroke-width="0.85"/><line x1="0.00" y1="111.60" x2="0.00" y2="114.40" stroke="#222" stroke-width="0.9"/><line x1="31.19" y1="111.60" x2="31.19" y2="114.40" stroke="#222" stroke-width="0.9"/><line x1="62.39" y1="111.60" x2="62.39" y2="114.40" stroke="#222" stroke-width="0.9"/><line x1="93.58" y1="111.60" x2="93.58" y2="114.40" stroke="#222" stroke-width="0.9"/><line x1="124.78" y1="111.60" x2="124.78" y2="114.40" stroke="#222" stroke-width="0.9"/><line x1="155.97" y1="111.60" x2="155.97" y2="114.40" stroke="#222" stroke-width="0.9"/><line x1="187.17" y1="111.60" x2="187.17" y2="114.40" stroke="#222" stroke-width="0.9"/><line x1="218.36" y1="111.60" x2="218.36" y2="114.40" stroke="#222" stroke-width="0.9"/><line x1="0" y1="9.30" x2="-2.8" y2="9.30" stroke="#222" stroke-width="0.9"/><line x1="0" y1="24.80" x2="-2.8" y2="24.80" stroke="#222" stroke-width="0.9"/><line x1="0" y1="40.30" x2="-2.8" y2="40.30" stroke="#222" stroke-width="0.9"/><line x1="0" y1="55.80" x2="-2.8" y2="55.80" stroke="#222" stroke-width="0.9"/><line x1="0" y1="71.30" x2="-2.8" y2="71.30" stroke="#222" stroke-width="0.9"/><line x1="0" y1="86.80" x2="-2.8" y2="86.80" stroke="#222" stroke-width="0.9"/><line x1="0" y1="102.30" x2="-2.8" y2="102.30" stroke="#222" stroke-width="0.9"/></svg><span class="xl" style="left:256.95px;top:302.45px">0</span><span class="xl" style="left:288.14px;top:302.45px">50</span><span class="xl" style="left:319.34px;top:302.45px">100</span><span class="xl" style="left:350.53px;top:302.45px">150</span><span class="xl" style="left:381.73px;top:302.45px">200</span><span class="xl" style="left:412.92px;top:302.45px">250</span><span class="xl" style="left:444.12px;top:302.45px">300</span><span class="xl" style="left:475.31px;top:302.45px">350</span><span class="yl" style="left:232.55px;top:193.85px">75</span><span class="yl" style="left:232.55px;top:209.35px">50</span><span class="yl" style="left:232.55px;top:224.85px">25</span><span class="yl" style="left:232.55px;top:240.35px">0</span><span class="yl" style="left:232.55px;top:255.85px"><b class="m"></b>25</span><span class="yl" style="left:232.55px;top:271.35px"><b class="m"></b>50</span><span class="yl" style="left:232.55px;top:286.85px"><b class="m"></b>75</span><div class="tx" style="left:278.95px;top:189.55px">Ro = Ro<sub>Sun</sub><br>Stellar minimum</div><div class="hm" style="left:534px;top:188px;width:225px;height:112px"><i style="background:linear-gradient(90deg,#053061,#053061,#053061,#053061,#053061,#053061,#053061,#053061,#053061,#053061)"></i><i style="background:linear-gradient(90deg,#063264,#063264,#063264,#063264,#063264,#063264,#063264,#063264,#063264,#063264)"></i><i style="background:linear-gradient(90deg,#073467,#073467,#073467,#073467,#073467,#073467,#073467,#073467,#073467,#073467)"></i><i style="background:linear-gradient(90deg,#08366a,#08366a,#08366a,#08366a,#08366a,#08366a,#08366a,#08366a,#08366a,#08366a)"></i><i style="background:linear-gradient(90deg,#09386d,#09386d,#09386d,#09386d,#09386d,#09386d,#09386d,#09386d,#09386d,#09386d)"></i><i style="background:linear-gradient(90deg,#0c3d73,#0c3d73,#0c3d73,#0c3d73,#0c3d73,#0c3d73,#0c3d73,#0c3d73,#0c3d73,#0c3d73)"></i><i style="background:linear-gradient(90deg,#0d3f76,#0d3f76,#0d3f76,#0d3f76,#0d3f76,#0d3f76,#0d3f76,#0d3f76,#0d3f76,#0d3f76)"></i><i style="background:linear-gradient(90deg,#0f437b,#0f437b,#0f437b,#0f437b,#0f437b,#0f437b,#0f437b,#0f437b,#0f437b,#0f437b)"></i><i style="background:linear-gradient(90deg,#114781,#114781,#114781,#114781,#114781,#114781,#114781,#114781,#114781,#114781)"></i><i style="background:linear-gradient(90deg,#124984,#124984,#124984,#124984,#124984,#124984,#124984,#124984,#124984,#124984)"></i><i style="background:linear-gradient(90deg,#144e8a,#144e8a,#144e8a,#144e8a,#144e8a,#144e8a,#144e8a,#144e8a,#144e8a,#144e8a)"></i><i style="background:linear-gradient(90deg,#175290,#175290,#175290,#175290,#175290,#175290,#175290,#175290,#175290,#175290)"></i><i style="background:linear-gradient(90deg,#195696,#195696,#195696,#195696,#195696,#195696,#195696,#195696,#195696,#195696)"></i><i style="background:linear-gradient(90deg,#1b5a9c,#1b5a9c,#1b5a9c,#1b5a9c,#1b5a9c,#1b5a9c,#1b5a9c,#1b5a9c,#1b5a9c,#1b5a9c)"></i><i style="background:linear-gradient(90deg,#1e61a5,#1e61a5,#1e61a5,#1e61a5,#1e61a5,#1e61a5,#1e61a5,#1e61a5,#1e61a5,#1e61a5)"></i><i style="background:linear-gradient(90deg,#2065ab,#2065ab,#2065ab,#2065ab,#2065ab,#2065ab,#2065ab,#2065ab,#2065ab,#2065ab)"></i><i style="background:linear-gradient(90deg,#2369ad,#2369ad,#2369ad,#2369ad,#2369ad,#2369ad,#2369ad,#2369ad,#2369ad,#2369ad)"></i><i style="background:linear-gradient(90deg,#276eb0,#276eb0,#276eb0,#276eb0,#276eb0,#276eb0,#276eb0,#276eb0,#276eb0,#276eb0)"></i><i style="background:linear-gradient(90deg,#2a71b2,#2a71b2,#2a71b2,#2a71b2,#2a71b2,#2a71b2,#2a71b2,#2a71b2,#2a71b2,#2a71b2)"></i><i style="background:linear-gradient(90deg,#2e77b5,#2e77b5,#2e77b5,#2e77b5,#2e77b5,#2e77b5,#2e77b5,#2e77b5,#2e77b5,#2e77b5)"></i><i style="background:linear-gradient(90deg,#307ab6,#307ab6,#307ab6,#307ab6,#307ab6,#307ab6,#307ab6,#307ab6,#307ab6,#307ab6)"></i><i style="background:linear-gradient(90deg,#3480b9,#3480b9,#3480b9,#3480b9,#3480b9,#3480b9,#3480b9,#3480b9,#3480b9,#3480b9)"></i><i style="background:linear-gradient(90deg,#3885bc,#3885bc,#3885bc,#3885bc,#3885bc,#3885bc,#3885bc,#3885bc,#3885bc,#3885bc)"></i><i style="background:linear-gradient(90deg,#3c8abe,#3c8abe,#3c8abe,#3c8abe,#3c8abe,#3c8abe,#3c8abe,#3c8abe,#3c8abe,#3c8abe)"></i><i style="background:linear-gradient(90deg,#3f8ec0,#3f8ec0,#3f8ec0,#3f8ec0,#3f8ec0,#3f8ec0,#3f8ec0,#3f8ec0,#3f8ec0,#3f8ec0)"></i><i style="background:linear-gradient(90deg,#4393c3,#4393c3,#4393c3,#4393c3,#4393c3,#4393c3,#4393c3,#4393c3,#4393c3,#4393c3)"></i><i style="background:linear-gradient(90deg,#4c99c6,#4c99c6,#4c99c6,#4c99c6,#4c99c6,#4c99c6,#4c99c6,#4c99c6,#4c99c6,#4c99c6)"></i><i style="background:linear-gradient(90deg,#569fc9,#569fc9,#569fc9,#569fc9,#569fc9,#569fc9,#569fc9,#569fc9,#569fc9,#569fc9)"></i><i style="background:linear-gradient(90deg,#5fa5cd,#5fa5cd,#5fa5cd,#5fa5cd,#5fa5cd,#5fa5cd,#5fa5cd,#5fa5cd,#5fa5cd,#5fa5cd)"></i><i style="background:linear-gradient(90deg,#65a9cf,#65a9cf,#65a9cf,#65a9cf,#65a9cf,#65a9cf,#65a9cf,#65a9cf,#65a9cf,#65a9cf)"></i><i style="background:linear-gradient(90deg,#6eaed2,#6eaed2,#6eaed2,#6eaed2,#6eaed2,#6eaed2,#6eaed2,#6eaed2,#6eaed2,#6eaed2)"></i><i style="background:linear-gradient(90deg,#78b4d5,#78b4d5,#78b4d5,#78b4d5,#78b4d5,#78b4d5,#78b4d5,#78b4d5,#78b4d5,#78b4d5)"></i><i style="background:linear-gradient(90deg,#81bad8,#81bad8,#81bad8,#81bad8,#81bad8,#81bad8,#81bad8,#81bad8,#81bad8,#81bad8)"></i><i style="background:linear-gradient(90deg,#87beda,#87beda,#87beda,#87beda,#87beda,#87beda,#87beda,#87beda,#87beda,#87beda)"></i><i style="background:linear-gradient(90deg,#90c4dd,#90c4dd,#90c4dd,#90c4dd,#90c4dd,#90c4dd,#90c4dd,#90c4dd,#90c4dd,#90c4dd)"></i><i style="background:linear-gradient(90deg,#98c8e0,#98c8e0,#98c8e0,#98c8e0,#98c8e0,#98c8e0,#98c8e0,#98c8e0,#98c8e0,#98c8e0)"></i><i style="background:linear-gradient(90deg,#a0cce2,#a0cce2,#a0cce2,#a0cce2,#a0cce2,#a0cce2,#a0cce2,#a0cce2,#a0cce2,#a0cce2)"></i><i style="background:linear-gradient(90deg,#a5cee3,#a5cee3,#a5cee3,#a5cee3,#a5cee3,#a5cee3,#a5cee3,#a5cee3,#a5cee3,#a5cee3)"></i><i style="background:linear-gradient(90deg,#acd2e5,#acd2e5,#acd2e5,#acd2e5,#acd2e5,#acd2e5,#acd2e5,#acd2e5,#acd2e5,#acd2e5)"></i><i style="background:linear-gradient(90deg,#b3d6e8,#b3d6e8,#b3d6e8,#b3d6e8,#b3d6e8,#b3d6e8,#b3d6e8,#b3d6e8,#b3d6e8,#b3d6e8)"></i><i style="background:linear-gradient(90deg,#bbdaea,#bbdaea,#bbdaea,#bbdaea,#bbdaea,#bbdaea,#bbdaea,#bbdaea,#bbdaea,#bbdaea)"></i><i style="background:linear-gradient(90deg,#c0dceb,#c0dceb,#c0dceb,#c0dceb,#c0dceb,#c0dceb,#c0dceb,#c0dceb,#c0dceb,#c0dceb)"></i><i style="background:linear-gradient(90deg,#c7e0ed,#c7e0ed,#c7e0ed,#c7e0ed,#c7e0ed,#c7e0ed,#c7e0ed,#c7e0ed,#c7e0ed,#c7e0ed)"></i><i style="background:linear-gradient(90deg,#cce2ef,#cce2ef,#cce2ef,#cce2ef,#cce2ef,#cce2ef,#cce2ef,#cce2ef,#cce2ef,#cce2ef)"></i><i style="background:linear-gradient(90deg,#d2e6f0,#d2e6f0,#d2e6f0,#d2e6f0,#d2e6f0,#d2e6f0,#d2e6f0,#d2e6f0,#d2e6f0,#d2e6f0)"></i><i style="background:linear-gradient(90deg,#d7e8f1,#d7e8f1,#d7e8f1,#d7e8f1,#d7e8f1,#d7e8f1,#d7e8f1,#d7e8f1,#d7e8f1,#d7e8f1)"></i><i style="background:linear-gradient(90deg,#dae9f2,#dae9f2,#dae9f2,#dae9f2,#dae9f2,#dae9f2,#dae9f2,#dae9f2,#dae9f2,#dae9f2)"></i><i style="background:linear-gradient(90deg,#ddebf2,#ddebf2,#ddebf2,#ddebf2,#ddebf2,#ddebf2,#ddebf2,#ddebf2,#ddebf2,#ddebf2)"></i><i style="background:linear-gradient(90deg,#e1edf3,#e1edf3,#e1edf3,#e1edf3,#e1edf3,#e1edf3,#e1edf3,#e1edf3,#e1edf3,#e1edf3)"></i><i style="background:linear-gradient(90deg,#e4eef4,#e4eef4,#e4eef4,#e4eef4,#e4eef4,#e4eef4,#e4eef4,#e4eef4,#e4eef4,#e4eef4)"></i><i style="background:linear-gradient(90deg,#e7f0f4,#e7f0f4,#e7f0f4,#e7f0f4,#e7f0f4,#e7f0f4,#e7f0f4,#e7f0f4,#e7f0f4,#e7f0f4)"></i><i style="background:linear-gradient(90deg,#eaf1f5,#eaf1f5,#eaf1f5,#eaf1f5,#eaf1f5,#eaf1f5,#eaf1f5,#eaf1f5,#eaf1f5,#eaf1f5)"></i><i style="background:linear-gradient(90deg,#edf2f5,#edf2f5,#edf2f5,#edf2f5,#edf2f5,#edf2f5,#edf2f5,#edf2f5,#edf2f5,#edf2f5)"></i><i style="background:linear-gradient(90deg,#f0f4f6,#f0f4f6,#f0f4f6,#f0f4f6,#f0f4f6,#f0f4f6,#f0f4f6,#f0f4f6,#f0f4f6,#f0f4f6)"></i><i style="background:linear-gradient(90deg,#f5f6f7,#f5f6f7,#f5f6f7,#f5f6f7,#f5f6f7,#f5f6f7,#f5f6f7,#f5f6f7,#f5f6f7,#f5f6f7)"></i><i style="background:linear-gradient(90deg,#f7f6f6,#f7f6f6,#f7f6f6,#f7f6f6,#f7f6f6,#f7f6f6,#f7f6f6,#f7f6f6,#f7f6f6,#f7f6f6)"></i><i style="background:linear-gradient(90deg,#f8f4f2,#f8f4f2,#f8f4f2,#f8f4f2,#f8f4f2,#f8f4f2,#f8f4f2,#f8f4f2,#f8f4f2,#f8f4f2)"></i><i style="background:linear-gradient(90deg,#f8f2ef,#f8f2ef,#f8f2ef,#f8f2ef,#f8f2ef,#f8f2ef,#f8f2ef,#f8f2ef,#f8f2ef,#f8f2ef)"></i><i style="background:linear-gradient(90deg,#f9f0eb,#f9f0eb,#f9f0eb,#f9f0eb,#f9f0eb,#f9f0eb,#f9f0eb,#f9f0eb,#f9f0eb,#f9f0eb)"></i><i style="background:linear-gradient(90deg,#f9ede5,#f9ede5,#f9ede5,#f9ede5,#f9ede5,#f9ede5,#f9ede5,#f9ede5,#f9ede5,#f9ede5)"></i><i style="background:linear-gradient(90deg,#faeae1,#faeae1,#faeae1,#faeae1,#faeae1,#faeae1,#faeae1,#faeae1,#faeae1,#faeae1)"></i><i style="background:linear-gradient(90deg,#fae8de,#fae8de,#fae8de,#fae8de,#fae8de,#fae8de,#fae8de,#fae8de,#fae8de,#fae8de)"></i><i style="background:linear-gradient(90deg,#fbe6da,#fbe6da,#fbe6da,#fbe6da,#fbe6da,#fbe6da,#fbe6da,#fbe6da,#fbe6da,#fbe6da)"></i><i style="background:linear-gradient(90deg,#fbe3d4,#fbe3d4,#fbe3d4,#fbe3d4,#fbe3d4,#fbe3d4,#fbe3d4,#fbe3d4,#fbe3d4,#fbe3d4)"></i><i style="background:linear-gradient(90deg,#fce0d0,#fce0d0,#fce0d0,#fce0d0,#fce0d0,#fce0d0,#fce0d0,#fce0d0,#fce0d0,#fce0d0)"></i><i style="background:linear-gradient(90deg,#fcdecd,#fcdecd,#fcdecd,#fcdecd,#fcdecd,#fcdecd,#fcdecd,#fcdecd,#fcdecd,#fcdecd)"></i><i style="background:linear-gradient(90deg,#fddcc9,#fddcc9,#fddcc9,#fddcc9,#fddcc9,#fddcc9,#fddcc9,#fddcc9,#fddcc9,#fddcc9)"></i><i style="background:linear-gradient(90deg,#fdd9c4,#fdd9c4,#fdd9c4,#fdd9c4,#fdd9c4,#fdd9c4,#fdd9c4,#fdd9c4,#fdd9c4,#fdd9c4)"></i><i style="background:linear-gradient(90deg,#fcd5bf,#fcd5bf,#fcd5bf,#fcd5bf,#fcd5bf,#fcd5bf,#fcd5bf,#fcd5bf,#fcd5bf,#fcd5bf)"></i><i style="background:linear-gradient(90deg,#fbd0b9,#fbd0b9,#fbd0b9,#fbd0b9,#fbd0b9,#fbd0b9,#fbd0b9,#fbd0b9,#fbd0b9,#fbd0b9)"></i><i style="background:linear-gradient(90deg,#fbceb7,#fbceb7,#fbceb7,#fbceb7,#fbceb7,#fbceb7,#fbceb7,#fbceb7,#fbceb7,#fbceb7)"></i><i style="background:linear-gradient(90deg,#fac8af,#fac8af,#fac8af,#fac8af,#fac8af,#fac8af,#fac8af,#fac8af,#fac8af,#fac8af)"></i><i style="background:linear-gradient(90deg,#f9c4a9,#f9c4a9,#f9c4a9,#f9c4a9,#f9c4a9,#f9c4a9,#f9c4a9,#f9c4a9,#f9c4a9,#f9c4a9)"></i><i style="background:linear-gradient(90deg,#f8bfa4,#f8bfa4,#f8bfa4,#f8bfa4,#f8bfa4,#f8bfa4,#f8bfa4,#f8bfa4,#f8bfa4,#f8bfa4)"></i><i style="background:linear-gradient(90deg,#f8bb9e,#f8bb9e,#f8bb9e,#f8bb9e,#f8bb9e,#f8bb9e,#f8bb9e,#f8bb9e,#f8bb9e,#f8bb9e)"></i><i style="background:linear-gradient(90deg,#f7b596,#f7b596,#f7b596,#f7b596,#f7b596,#f7b596,#f7b596,#f7b596,#f7b596,#f7b596)"></i><i style="background:linear-gradient(90deg,#f6af8e,#f6af8e,#f6af8e,#f6af8e,#f6af8e,#f6af8e,#f6af8e,#f6af8e,#f6af8e,#f6af8e)"></i><i style="background:linear-gradient(90deg,#f5a886,#f5a886,#f5a886,#f5a886,#f5a886,#f5a886,#f5a886,#f5a886,#f5a886,#f5a886)"></i><i style="background:linear-gradient(90deg,#f2a17f,#f2a17f,#f2a17f,#f2a17f,#f2a17f,#f2a17f,#f2a17f,#f2a17f,#f2a17f,#f2a17f)"></i><i style="background:linear-gradient(90deg,#ef9979,#ef9979,#ef9979,#ef9979,#ef9979,#ef9979,#ef9979,#ef9979,#ef9979,#ef9979)"></i><i style="background:linear-gradient(90deg,#eb9172,#eb9172,#eb9172,#eb9172,#eb9172,#eb9172,#eb9172,#eb9172,#eb9172,#eb9172)"></i><i style="background:linear-gradient(90deg,#e6866a,#e6866a,#e6866a,#e6866a,#e6866a,#e6866a,#e6866a,#e6866a,#e6866a,#e6866a)"></i><i style="background:linear-gradient(90deg,#e37e64,#e37e64,#e37e64,#e37e64,#e37e64,#e37e64,#e37e64,#e37e64,#e37e64,#e37e64)"></i><i style="background:linear-gradient(90deg,#de735c,#de735c,#de735c,#de735c,#de735c,#de735c,#de735c,#de735c,#de735c,#de735c)"></i><i style="background:linear-gradient(90deg,#db6b55,#db6b55,#db6b55,#db6b55,#db6b55,#db6b55,#db6b55,#db6b55,#db6b55,#db6b55)"></i><i style="background:linear-gradient(90deg,#d6604d,#d6604d,#d6604d,#d6604d,#d6604d,#d6604d,#d6604d,#d6604d,#d6604d,#d6604d)"></i><i style="background:linear-gradient(90deg,#d05548,#d05548,#d05548,#d05548,#d05548,#d05548,#d05548,#d05548,#d05548,#d05548)"></i><i style="background:linear-gradient(90deg,#cc4c44,#cc4c44,#cc4c44,#cc4c44,#cc4c44,#cc4c44,#cc4c44,#cc4c44,#cc4c44,#cc4c44)"></i><i style="background:linear-gradient(90deg,#c6413e,#c6413e,#c6413e,#c6413e,#c6413e,#c6413e,#c6413e,#c6413e,#c6413e,#c6413e)"></i><i style="background:linear-gradient(90deg,#c13639,#c13639,#c13639,#c13639,#c13639,#c13639,#c13639,#c13639,#c13639,#c13639)"></i><i style="background:linear-gradient(90deg,#bd2d35,#bd2d35,#bd2d35,#bd2d35,#bd2d35,#bd2d35,#bd2d35,#bd2d35,#bd2d35,#bd2d35)"></i><i style="background:linear-gradient(90deg,#b82531,#b82531,#b82531,#b82531,#b82531,#b82531,#b82531,#b82531,#b82531,#b82531)"></i><i style="background:linear-gradient(90deg,#b41c2d,#b41c2d,#b41c2d,#b41c2d,#b41c2d,#b41c2d,#b41c2d,#b41c2d,#b41c2d,#b41c2d)"></i><i style="background:linear-gradient(90deg,#ae172a,#ae172a,#ae172a,#ae172a,#ae172a,#ae172a,#ae172a,#ae172a,#ae172a,#ae172a)"></i><i style="background:linear-gradient(90deg,#a81529,#a81529,#a81529,#a81529,#a81529,#a81529,#a81529,#a81529,#a81529,#a81529)"></i><i style="background:linear-gradient(90deg,#a21328,#a21328,#a21328,#a21328,#a21328,#a21328,#a21328,#a21328,#a21328,#a21328)"></i><i style="background:linear-gradient(90deg,#9c1127,#9c1127,#9c1127,#9c1127,#9c1127,#9c1127,#9c1127,#9c1127,#9c1127,#9c1127)"></i><i style="background:linear-gradient(90deg,#960f27,#960f27,#960f27,#960f27,#960f27,#960f27,#960f27,#960f27,#960f27,#960f27)"></i><i style="background:linear-gradient(90deg,#900d26,#900d26,#900d26,#900d26,#900d26,#900d26,#900d26,#900d26,#900d26,#900d26)"></i><i style="background:linear-gradient(90deg,#8d0c25,#8d0c25,#8d0c25,#8d0c25,#8d0c25,#8d0c25,#8d0c25,#8d0c25,#8d0c25,#8d0c25)"></i><i style="background:linear-gradient(90deg,#8a0b25,#8a0b25,#8a0b25,#8a0b25,#8a0b25,#8a0b25,#8a0b25,#8a0b25,#8a0b25,#8a0b25)"></i><i style="background:linear-gradient(90deg,#870a24,#870a24,#870a24,#870a24,#870a24,#870a24,#870a24,#870a24,#870a24,#870a24)"></i><i style="background:linear-gradient(90deg,#840924,#840924,#840924,#840924,#840924,#840924,#840924,#840924,#840924,#840924)"></i><i style="background:linear-gradient(90deg,#810823,#810823,#810823,#810823,#810823,#810823,#810823,#810823,#810823,#810823)"></i><i style="background:linear-gradient(90deg,#7f0823,#7f0823,#7f0823,#7f0823,#7f0823,#7f0823,#7f0823,#7f0823,#7f0823,#7f0823)"></i><i style="background:linear-gradient(90deg,#7c0722,#7c0722,#7c0722,#7c0722,#7c0722,#7c0722,#7c0722,#7c0722,#7c0722,#7c0722)"></i><i style="background:linear-gradient(90deg,#790622,#790622,#790622,#790622,#790622,#790622,#790622,#790622,#790622,#790622)"></i><i style="background:linear-gradient(90deg,#760521,#760521,#760521,#760521,#760521,#760521,#760521,#760521,#760521,#760521)"></i><i style="background:linear-gradient(90deg,#730421,#730421,#730421,#730421,#730421,#730421,#730421,#730421,#730421,#730421)"></i><i style="background:linear-gradient(90deg,#700320,#700320,#700320,#700320,#700320,#700320,#700320,#700320,#700320,#700320)"></i><i style="background:linear-gradient(90deg,#6a011f,#6a011f,#6a011f,#6a011f,#6a011f,#6a011f,#6a011f,#6a011f,#6a011f,#6a011f)"></i><i style="background:linear-gradient(90deg,#67001f,#67001f,#67001f,#67001f,#67001f,#67001f,#67001f,#67001f,#67001f,#67001f)"></i></div><svg class="ov" style="left:527px;top:186px" width="239" height="120" viewBox="-6.950 -2.150 239 120"><polyline points="0.00,55.35 1.87,54.38 3.74,53.41 5.61,52.44 7.49,51.48 9.36,50.54 11.23,49.60 13.10,48.68 14.97,47.78 16.84,46.91 18.72,46.05 20.59,45.22 22.46,44.42 24.33,43.64 26.20,42.90 28.07,42.20 29.95,41.53 31.82,40.90 33.69,40.30 35.56,39.75 37.43,39.24 39.30,38.78 41.18,38.36 43.05,37.99 44.92,37.66 46.79,37.38 48.66,37.16 50.53,36.98 52.41,36.85 54.28,36.78 56.15,36.75 58.02,36.78 59.89,36.85 61.76,36.98 63.64,37.16 65.51,37.38 67.38,37.66 69.25,37.99 71.12,38.36 72.99,38.78 74.87,39.24 76.74,39.75 78.61,40.30 80.48,40.90 82.35,41.53 84.22,42.20 86.10,42.90 87.97,43.64 89.84,44.42 91.71,45.22 93.58,46.05 95.45,46.91 97.33,47.78 99.20,48.68 101.07,49.60 102.94,50.54 104.81,51.48 106.68,52.44 108.56,53.41 110.43,54.38 112.30,55.35 114.17,56.32 116.04,57.29 117.91,58.26 119.79,59.22 121.66,60.16 123.53,61.10 125.40,62.02 127.27,62.92 129.14,63.79 131.02,64.65 132.89,65.48 134.76,66.28 136.63,67.06 138.50,67.80 140.38,68.50 142.25,69.17 144.12,69.80 145.99,70.40 147.86,70.95 149.73,71.46 151.60,71.92 153.48,72.34 155.35,72.71 157.22,73.04 159.09,73.32 160.96,73.54 162.83,73.72 164.71,73.85 166.58,73.92 168.45,73.95 170.32,73.92 172.19,73.85 174.06,73.72 175.94,73.54 177.81,73.32 179.68,73.04 181.55,72.71 183.42,72.34 185.29,71.92 187.17,71.46 189.04,70.95 190.91,70.40 192.78,69.80 194.65,69.17 196.52,68.50 198.40,67.80 200.27,67.06 202.14,66.28 204.01,65.48 205.88,64.65 207.75,63.79 209.63,62.92 211.50,62.02 213.37,61.10 215.24,60.16 217.11,59.22 218.98,58.26 220.86,57.29 222.73,56.32 224.60,55.35" fill="none" stroke="#1a1a1a" stroke-width="1.25" stroke-dasharray="1.2 1.4"/><line x1="0" y1="55.35" x2="224.60" y2="55.35" stroke="#1a1a1a" stroke-width="1.35" stroke-dasharray="3.3 2.03"/><rect x="0" y="0" width="224.60" height="111.60" fill="none" stroke="#222" stroke-width="0.85"/><line x1="0.00" y1="111.60" x2="0.00" y2="114.40" stroke="#222" stroke-width="0.9"/><line x1="31.19" y1="111.60" x2="31.19" y2="114.40" stroke="#222" stroke-width="0.9"/><line x1="62.39" y1="111.60" x2="62.39" y2="114.40" stroke="#222" stroke-width="0.9"/><line x1="93.58" y1="111.60" x2="93.58" y2="114.40" stroke="#222" stroke-width="0.9"/><line x1="124.78" y1="111.60" x2="124.78" y2="114.40" stroke="#222" stroke-width="0.9"/><line x1="155.97" y1="111.60" x2="155.97" y2="114.40" stroke="#222" stroke-width="0.9"/><line x1="187.17" y1="111.60" x2="187.17" y2="114.40" stroke="#222" stroke-width="0.9"/><line x1="218.36" y1="111.60" x2="218.36" y2="114.40" stroke="#222" stroke-width="0.9"/><line x1="0" y1="9.30" x2="-2.8" y2="9.30" stroke="#222" stroke-width="0.9"/><line x1="0" y1="24.80" x2="-2.8" y2="24.80" stroke="#222" stroke-width="0.9"/><line x1="0" y1="40.30" x2="-2.8" y2="40.30" stroke="#222" stroke-width="0.9"/><line x1="0" y1="55.80" x2="-2.8" y2="55.80" stroke="#222" stroke-width="0.9"/><line x1="0" y1="71.30" x2="-2.8" y2="71.30" stroke="#222" stroke-width="0.9"/><line x1="0" y1="86.80" x2="-2.8" y2="86.80" stroke="#222" stroke-width="0.9"/><line x1="0" y1="102.30" x2="-2.8" y2="102.30" stroke="#222" stroke-width="0.9"/></svg><span class="xl" style="left:513.95px;top:302.45px">0</span><span class="xl" style="left:545.14px;top:302.45px">50</span><span class="xl" style="left:576.34px;top:302.45px">100</span><span class="xl" style="left:607.53px;top:302.45px">150</span><span class="xl" style="left:638.73px;top:302.45px">200</span><span class="xl" style="left:669.92px;top:302.45px">250</span><span class="xl" style="left:701.12px;top:302.45px">300</span><span class="xl" style="left:732.31px;top:302.45px">350</span><span class="yl" style="left:489.55px;top:193.85px">75</span><span class="yl" style="left:489.55px;top:209.35px">50</span><span class="yl" style="left:489.55px;top:224.85px">25</span><span class="yl" style="left:489.55px;top:240.35px">0</span><span class="yl" style="left:489.55px;top:255.85px"><b class="m"></b>25</span><span class="yl" style="left:489.55px;top:271.35px"><b class="m"></b>50</span><span class="yl" style="left:489.55px;top:286.85px"><b class="m"></b>75</span><div class="tx" style="left:535.95px;top:189.55px">Ro = 4 Ro<sub>Sun</sub><br>Stellar minimum</div><span class="cap" style="left:98.60px;top:144.90px">(a)</span><span class="cap" style="left:355.20px;top:144.90px">(b)</span><span class="cap" style="left:612.20px;top:144.90px">(c)</span><span class="cap" style="left:98.60px;top:331.55px">(d)</span><span class="cap" style="left:355.20px;top:331.55px">(e)</span><span class="cap" style="left:612.20px;top:331.55px">(f)</span></div></body></html>
